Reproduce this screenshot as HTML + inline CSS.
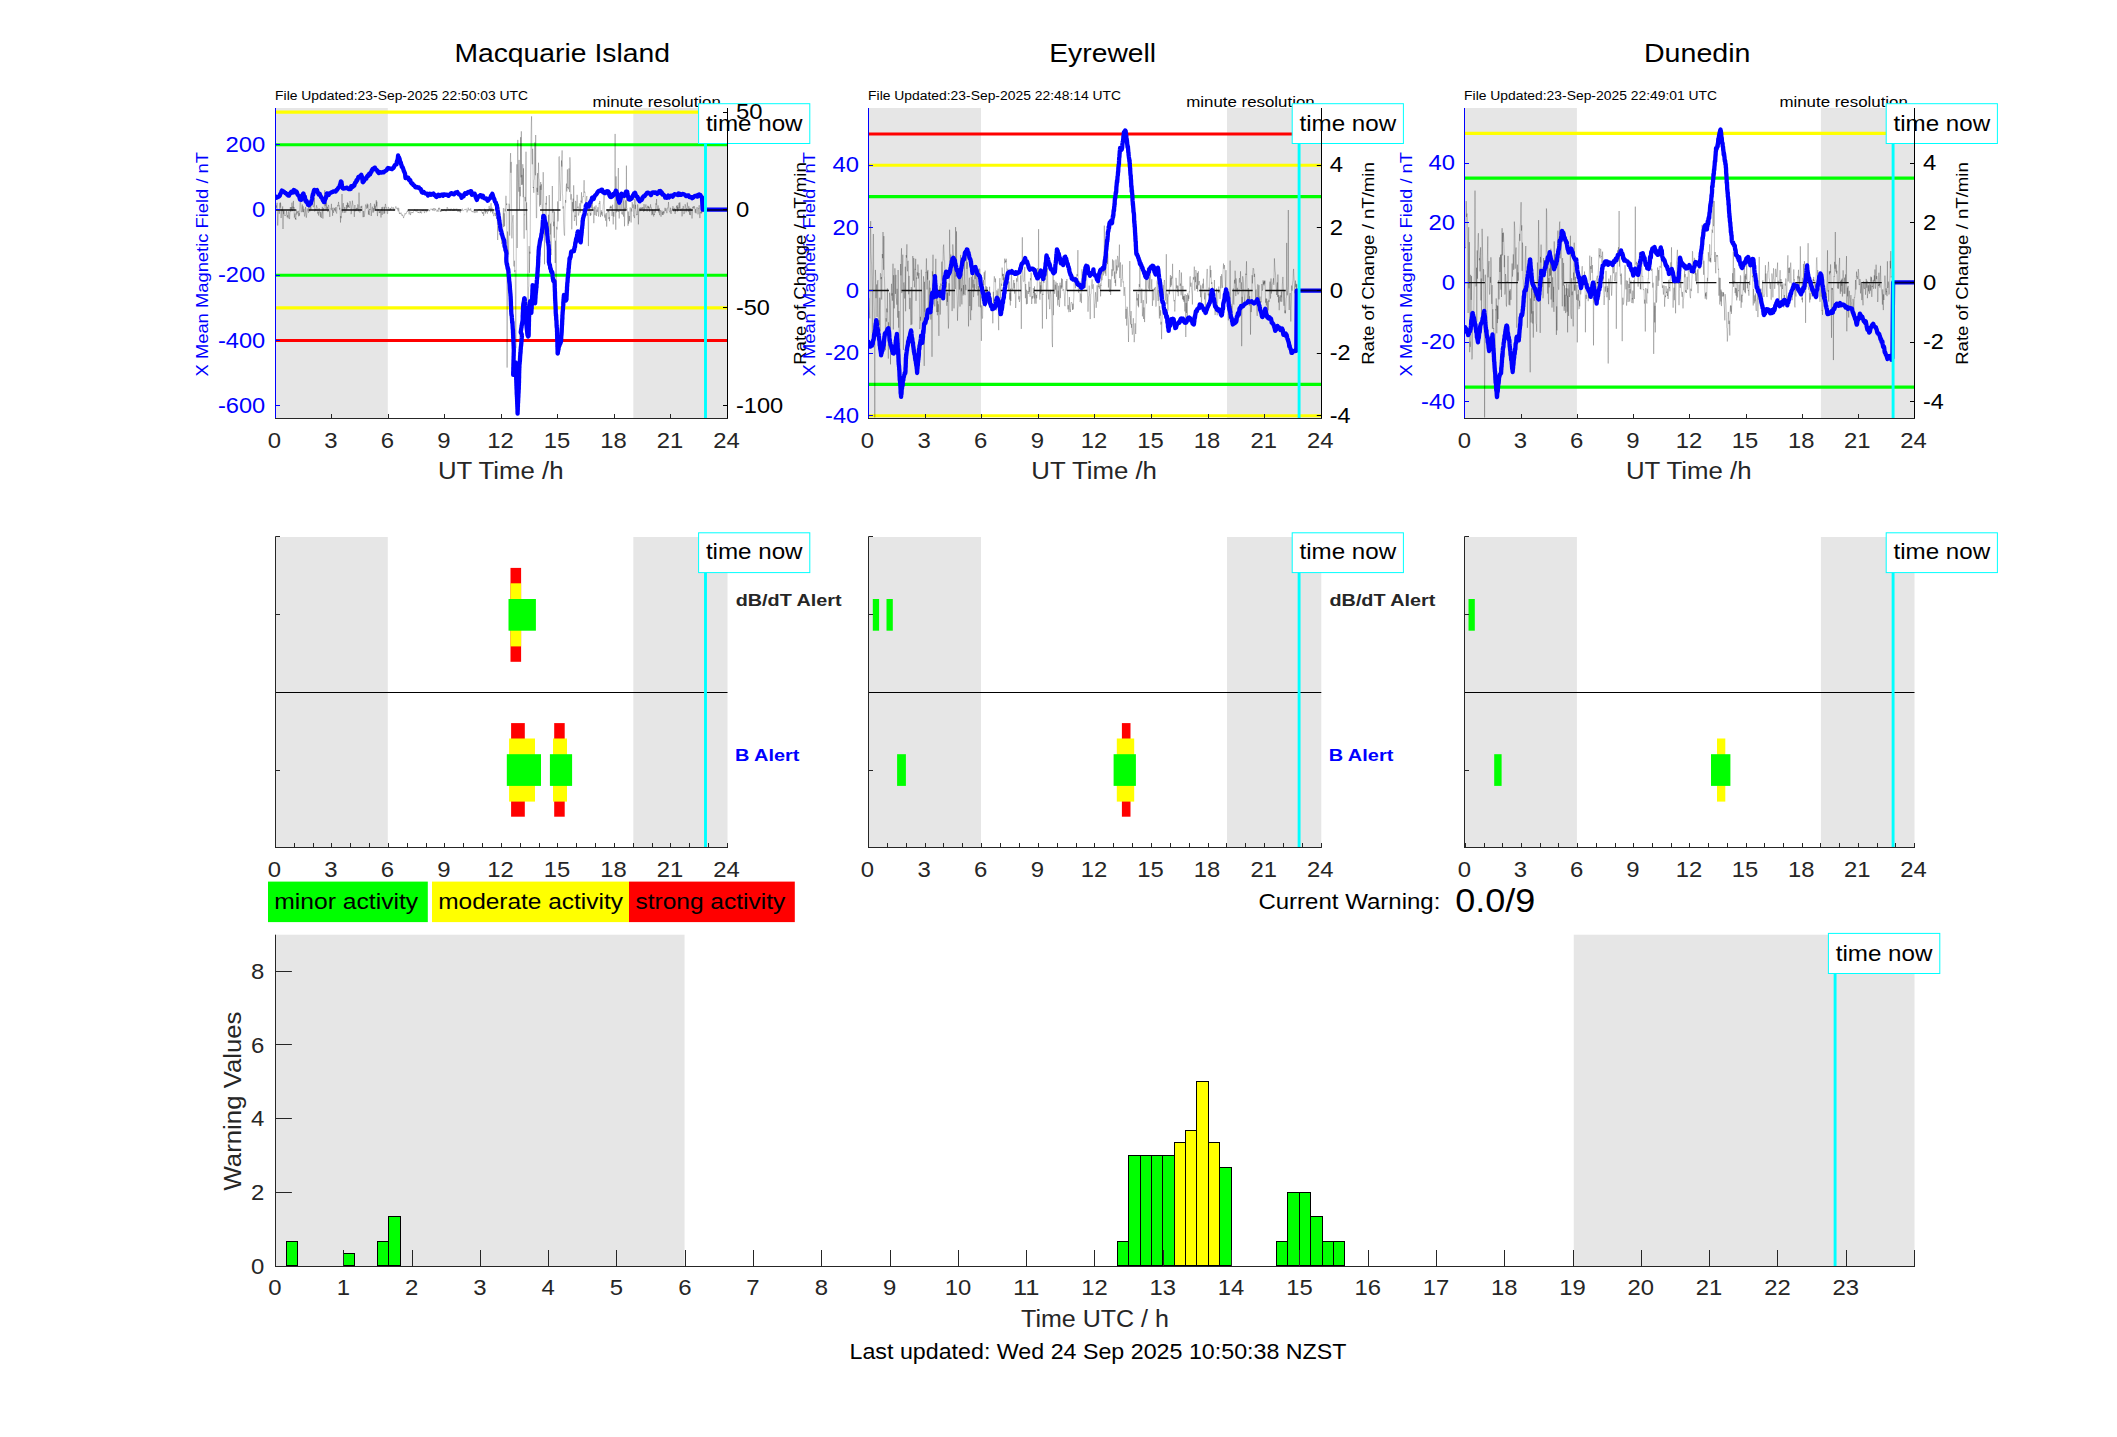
<!DOCTYPE html>
<html><head><meta charset="utf-8"><title>Geomagnetic activity</title>
<style>html,body{margin:0;padding:0;background:#fff;}body{width:2117px;height:1437px;overflow:hidden;font-family:"Liberation Sans",sans-serif;}svg{display:block;}</style>
</head><body>
<svg width="2117" height="1437" viewBox="0 0 2117 1437" font-family="'Liberation Sans', sans-serif">
<rect width="2117" height="1437" fill="#fff"/>
<text x="208.0" y="264.2" font-size="17.42" fill="#0000ff" textLength="224.5" lengthAdjust="spacingAndGlyphs" text-anchor="middle" transform="rotate(-90 208.0 264.2)">X Mean Magnetic Field / nT</text>
<text x="806.0" y="263.5" font-size="17.42" fill="#000" textLength="202.7" lengthAdjust="spacingAndGlyphs" text-anchor="middle" transform="rotate(-90 806.0 263.5)">Rate of Change / nT/min</text>
<text x="815.4" y="264.2" font-size="17.42" fill="#0000ff" textLength="224.5" lengthAdjust="spacingAndGlyphs" text-anchor="middle" transform="rotate(-90 815.4 264.2)">X Mean Magnetic Field / nT</text>
<text x="1373.9" y="263.5" font-size="17.42" fill="#000" textLength="202.7" lengthAdjust="spacingAndGlyphs" text-anchor="middle" transform="rotate(-90 1373.9 263.5)">Rate of Change / nT/min</text>
<text x="1411.8" y="264.2" font-size="17.42" fill="#0000ff" textLength="224.5" lengthAdjust="spacingAndGlyphs" text-anchor="middle" transform="rotate(-90 1411.8 264.2)">X Mean Magnetic Field / nT</text>
<text x="1967.9" y="263.5" font-size="17.42" fill="#000" textLength="202.7" lengthAdjust="spacingAndGlyphs" text-anchor="middle" transform="rotate(-90 1967.9 263.5)">Rate of Change / nT/min</text>
<rect x="275.50" y="108.00" width="112.30" height="310.50" fill="#e6e6e6"/>
<rect x="633.33" y="108.00" width="94.17" height="310.50" fill="#e6e6e6"/>
<line x1="275.50" y1="112.11" x2="727.50" y2="112.11" stroke="#ffff00" stroke-width="3.1"/>
<line x1="275.50" y1="144.74" x2="727.50" y2="144.74" stroke="#00ff00" stroke-width="3.1"/>
<line x1="275.50" y1="275.26" x2="727.50" y2="275.26" stroke="#00ff00" stroke-width="3.1"/>
<line x1="275.50" y1="307.89" x2="727.50" y2="307.89" stroke="#ffff00" stroke-width="3.1"/>
<line x1="275.50" y1="340.52" x2="727.50" y2="340.52" stroke="#ff0000" stroke-width="3.1"/>
<clipPath id="cp1"><rect x="275.5" y="108.0" width="452.0" height="310.5"/></clipPath>
<polyline points="275.5,206.0 275.8,209.6 276.1,205.4 276.4,207.7 276.8,204.5 277.1,202.8 277.4,211.4 277.7,225.5 278.0,219.5 278.3,212.4 278.6,210.4 279.0,209.5 279.3,213.8 279.6,210.6 279.9,202.8 280.2,207.7 280.5,202.6 280.8,205.3 281.1,218.0 281.5,212.4 281.8,209.3 282.1,211.2 282.4,210.3 282.7,206.4 283.0,229.0 283.3,210.5 283.7,213.9 284.0,210.4 284.3,215.2 284.6,215.3 284.9,215.9 285.2,215.3 285.5,215.4 285.9,215.4 286.2,214.1 286.5,210.8 286.8,213.2 287.1,217.2 287.4,216.2 287.7,215.3 288.1,218.3 288.4,212.4 288.7,211.4 289.0,213.3 289.3,218.9 289.6,219.0 289.9,213.3 290.3,207.1 290.6,211.2 290.9,211.7 291.2,207.0 291.5,210.2 291.8,202.9 292.1,202.6 292.4,211.2 292.8,206.6 293.1,207.7 293.4,200.9 293.7,209.4 294.0,207.0 294.3,217.6 294.6,216.3 295.0,213.5 295.3,219.1 295.6,217.9 295.9,219.9 296.2,210.0 296.5,209.5 296.8,214.5 297.2,212.2 297.5,211.6 297.8,212.8 298.1,211.1 298.4,210.9 298.7,216.3 299.0,213.0 299.4,215.7 299.7,212.2 300.0,202.7 300.3,201.0 300.6,200.3 300.9,205.9 301.2,211.4 301.6,212.2 301.9,210.3 302.2,204.6 302.5,204.6 302.8,212.1 303.1,206.3 303.4,212.2 303.8,209.7 304.1,208.8 304.4,215.3 304.7,216.5 305.0,214.5 305.3,211.0 305.6,206.9 305.9,213.1 306.3,217.7 306.6,215.8 306.9,212.6 307.2,208.5 307.5,210.1 307.8,211.1 308.1,211.4 308.5,212.7 308.8,204.2 309.1,209.1 309.4,209.5 309.7,211.6 310.0,211.1 310.3,205.9 310.7,208.4 311.0,209.8 311.3,205.2 311.6,197.1 311.9,198.9 312.2,203.2 312.5,201.5 312.9,200.7 313.2,207.1 313.5,207.0 313.8,206.8 314.1,206.0 314.4,197.8 314.7,211.5 315.1,208.9 315.4,209.0 315.7,209.9 316.0,210.7 316.3,207.0 316.6,205.3 316.9,207.4 317.2,207.4 317.6,213.5 317.9,212.9 318.2,212.1 318.5,215.5 318.8,209.9 319.1,208.1 319.4,212.2 319.8,212.0 320.1,215.3 320.4,216.9 320.7,211.8 321.0,215.7 321.3,218.0 321.6,214.2 322.0,212.6 322.3,206.8 322.6,211.4 322.9,218.6 323.2,208.5 323.5,208.1 323.8,210.8 324.2,207.3 324.5,202.3 324.8,190.2 325.1,205.9 325.4,205.4 325.7,203.1 326.0,210.1 326.4,202.5 326.7,203.9 327.0,209.3 327.3,206.8 327.6,208.0 327.9,212.1 328.2,207.4 328.5,204.9 328.9,206.0 329.2,210.9 329.5,211.9 329.8,216.9 330.1,210.7 330.4,208.9 330.7,208.4 331.1,208.3 331.4,203.8 331.7,210.2 332.0,209.1 332.3,207.8 332.6,215.8 332.9,209.9 333.3,211.8 333.6,212.8 333.9,207.7 334.2,208.7 334.5,210.4 334.8,208.4 335.1,209.6 335.5,211.4 335.8,207.1 336.1,211.7 336.4,213.0 336.7,213.5 337.0,207.2 337.3,206.9 337.6,205.3 338.0,205.9 338.3,203.7 338.6,201.9 338.9,206.4 339.2,205.4 339.5,209.6 339.8,207.7 340.2,211.3 340.5,222.5 340.8,216.0 341.1,218.2 341.4,215.6 341.7,210.0 342.0,194.0 342.4,212.6 342.7,209.5 343.0,204.7 343.3,203.1 343.6,207.6 343.9,210.0 344.2,213.0 344.6,206.9 344.9,207.3 345.2,209.9 345.5,212.3 345.8,212.6 346.1,210.8 346.4,205.0 346.8,209.4 347.1,206.5 347.4,202.4 347.7,207.7 348.0,203.2 348.3,207.1 348.6,205.2 348.9,206.9 349.3,207.9 349.6,206.4 349.9,201.1 350.2,201.9 350.5,203.0 350.8,205.4 351.1,214.2 351.5,212.0 351.8,206.3 352.1,204.9 352.4,200.7 352.7,204.0 353.0,204.8 353.3,209.7 353.7,209.2 354.0,209.6 354.3,216.9 354.6,209.6 354.9,205.0 355.2,211.4 355.5,209.4 355.9,209.2 356.2,208.3 356.5,207.8 356.8,211.1 357.1,208.1 357.4,209.0 357.7,204.4 358.1,205.0 358.4,211.4 358.7,209.3 359.0,192.6 359.3,203.2 359.6,208.7 359.9,212.6 360.2,210.6 360.6,210.1 360.9,206.3 361.2,208.2 361.5,207.3 361.8,205.8 362.1,208.6 362.4,208.9 362.8,214.1 363.1,217.2 363.4,213.9 363.7,211.0 364.0,217.0 364.3,216.0 364.6,214.5 365.0,210.6 365.3,208.5 365.6,204.6 365.9,205.2 366.2,205.8 366.5,207.4 366.8,208.8 367.2,203.6 367.5,207.8 367.8,204.7 368.1,204.5 368.4,214.5 368.7,210.5 369.0,214.2 369.4,215.1 369.7,209.0 370.0,210.0 370.3,204.3 370.6,203.2 370.9,205.5 371.2,216.0 371.5,212.5 371.9,210.0 372.2,207.6 372.5,206.7 372.8,211.9 373.1,212.8 373.4,208.1 373.7,211.6 374.1,210.4 374.4,203.8 374.7,209.3 375.0,205.7 375.3,206.2 375.6,210.1 375.9,205.0 376.3,200.2 376.6,206.4 376.9,201.7 377.2,212.9 377.5,216.1 377.8,209.9 378.1,209.1 378.5,210.4 378.8,209.4 379.1,212.8 379.4,213.1 379.7,211.4 380.0,212.8 380.3,210.3 380.7,211.4 381.0,217.5 381.3,209.2 381.6,210.3 381.9,207.1 382.2,214.9 382.5,208.9 382.9,206.8 383.2,210.3 383.5,210.9 383.8,213.8 384.1,213.2 384.4,206.9 384.7,213.4 385.0,207.4 385.4,203.9 385.7,205.4 386.0,207.8 386.3,207.3 386.6,209.4 386.9,210.0 387.2,213.6 387.6,213.7 387.9,209.9 388.2,207.8 388.5,206.9 388.8,208.2 389.1,210.9 389.4,210.3 389.8,210.0 390.1,208.3 390.4,209.9 390.7,208.3 391.0,210.2 391.3,207.8 391.6,206.8 392.0,207.7 392.3,207.7 392.6,208.4 392.9,207.9 393.2,208.5 393.5,207.5 393.8,210.5 394.1,210.4 394.5,209.9 394.8,209.4 395.1,208.3 395.4,207.6 395.7,206.6 396.0,206.3 396.3,208.3 396.7,208.1 397.0,208.7 397.3,207.8 397.6,209.4 397.9,208.9 398.2,211.4 398.5,207.8 398.9,208.6 399.2,212.9 399.5,213.9 399.8,212.6 400.1,213.6 400.4,214.0 400.7,213.6 401.1,212.7 401.4,215.0 401.7,215.0 402.0,215.2 402.3,215.9 402.6,214.6 402.9,215.0 403.3,216.9 403.6,218.1 403.9,216.5 404.2,216.3 404.5,215.7 404.8,213.5 405.1,213.8 405.4,214.3 405.8,213.2 406.1,213.7 406.4,213.3 406.7,211.7 407.0,211.5 407.3,211.3 407.6,211.9 408.0,210.2 408.3,211.4 408.6,212.4 408.9,212.7 409.2,214.4 409.5,211.3 409.8,211.8 410.2,211.6 410.5,215.1 410.8,213.9 411.1,212.6 411.4,212.1 411.7,212.0 412.0,212.9 412.4,212.3 412.7,212.6 413.0,213.1 413.3,211.7 413.6,211.6 413.9,210.9 414.2,210.3 414.6,209.3 414.9,210.8 415.2,209.7 415.5,210.4 415.8,211.0 416.1,211.7 416.4,210.8 416.8,211.1 417.1,209.4 417.4,210.4 417.7,211.1 418.0,213.0 418.3,212.1 418.6,212.7 418.9,212.3 419.3,212.7 419.6,212.8 419.9,212.9 420.2,211.2 420.5,212.7 420.8,211.7 421.1,212.8 421.5,213.4 421.8,212.1 422.1,210.2 422.4,210.6 422.7,210.7 423.0,209.9 423.3,210.1 423.7,210.1 424.0,211.5 424.3,212.5 424.6,213.1 424.9,211.1 425.2,210.6 425.5,211.2 425.9,209.8 426.2,209.9 426.5,212.3 426.8,211.6 427.1,210.6 427.4,211.2 427.7,211.0 428.0,210.2 428.4,209.6 428.7,209.1 429.0,211.1 429.3,210.6 429.6,211.2 429.9,209.9 430.2,209.5 430.6,208.9 430.9,209.1 431.2,209.3 431.5,209.3 431.8,208.8 432.1,209.7 432.4,210.2 432.8,208.8 433.1,210.8 433.4,209.3 433.7,208.4 434.0,209.1 434.3,208.4 434.6,210.7 435.0,210.5 435.3,208.6 435.6,209.7 435.9,209.3 436.2,210.5 436.5,210.9 436.8,211.6 437.2,210.9 437.5,209.8 437.8,210.4 438.1,211.8 438.4,209.0 438.7,207.8 439.0,209.6 439.3,207.8 439.7,208.1 440.0,209.9 440.3,212.0 440.6,210.3 440.9,210.9 441.2,211.8 441.5,209.8 441.9,209.9 442.2,210.1 442.5,209.9 442.8,211.2 443.1,210.1 443.4,210.3 443.7,210.7 444.1,210.0 444.4,209.4 444.7,209.8 445.0,210.2 445.3,211.2 445.6,210.7 445.9,210.2 446.3,211.3 446.6,209.1 446.9,208.5 447.2,207.0 447.5,208.6 447.8,209.8 448.1,209.8 448.5,210.1 448.8,208.7 449.1,210.0 449.4,209.7 449.7,210.2 450.0,209.4 450.3,210.6 450.6,208.8 451.0,209.5 451.3,208.9 451.6,208.8 451.9,209.9 452.2,210.2 452.5,209.7 452.8,210.9 453.2,210.5 453.5,210.2 453.8,208.5 454.1,210.9 454.4,209.2 454.7,209.4 455.0,210.1 455.4,209.1 455.7,209.3 456.0,208.8 456.3,209.8 456.6,209.7 456.9,208.7 457.2,210.5 457.6,210.7 457.9,211.9 458.2,211.1 458.5,211.1 458.8,209.4 459.1,209.7 459.4,211.7 459.8,211.5 460.1,211.0 460.4,212.6 460.7,210.3 461.0,209.9 461.3,210.6 461.6,210.8 461.9,209.4 462.3,208.7 462.6,210.6 462.9,210.7 463.2,210.5 463.5,210.7 463.8,210.4 464.1,209.9 464.5,209.6 464.8,209.2 465.1,209.6 465.4,209.3 465.7,209.9 466.0,209.6 466.3,208.8 466.7,209.6 467.0,212.4 467.3,211.2 467.6,210.2 467.9,210.3 468.2,207.7 468.5,209.2 468.9,210.5 469.2,209.7 469.5,209.5 469.8,209.4 470.1,210.5 470.4,209.3 470.7,208.4 471.1,210.7 471.4,210.7 471.7,211.5 472.0,211.3 472.3,211.6 472.6,211.0 472.9,212.2 473.2,212.4 473.6,211.7 473.9,211.7 474.2,209.9 474.5,212.4 474.8,213.1 475.1,212.4 475.4,211.4 475.8,212.4 476.1,211.5 476.4,211.6 476.7,211.2 477.0,212.6 477.3,212.2 477.6,210.5 478.0,209.9 478.3,210.1 478.6,209.7 478.9,209.0 479.2,210.0 479.5,209.5 479.8,209.0 480.2,209.9 480.5,210.5 480.8,209.7 481.1,210.7 481.4,210.5 481.7,211.6 482.0,212.6 482.4,212.1 482.7,214.0 483.0,212.0 483.3,212.5 483.6,215.9 483.9,214.5 484.2,211.1 484.5,208.7 484.9,211.5 485.2,209.8 485.5,213.5 485.8,209.3 486.1,211.9 486.4,211.0 486.7,211.6 487.1,212.7 487.4,213.7 487.7,210.9 488.0,209.2 488.3,211.5 488.6,210.8 488.9,206.6 489.3,205.9 489.6,209.5 489.9,208.7 490.2,208.0 490.5,212.4 490.8,205.3 491.1,203.2 491.5,211.6 491.8,209.2 492.1,207.7 492.4,211.3 492.7,213.5 493.0,210.8 493.3,214.1 493.7,216.0 494.0,216.2 494.3,214.8 494.6,213.0 494.9,212.8 495.2,212.9 495.5,216.1 495.8,212.8 496.2,214.4 496.5,218.9 496.8,218.2 497.1,217.1 497.4,222.7 497.7,240.0 498.0,227.2 498.4,211.5 498.7,216.7 499.0,218.8 499.3,207.3 499.6,210.5 499.9,220.4 500.2,223.4 500.6,222.9 500.9,229.2 501.2,231.2 501.5,235.4 501.8,244.1 502.1,231.8 502.4,238.0 502.8,227.6 503.1,215.8 503.4,208.2 503.7,227.0 504.0,213.2 504.3,213.9 504.6,226.2 505.0,208.7 505.3,211.4 505.6,198.1 505.9,195.8 506.2,196.6 506.5,205.1 506.8,203.5 507.1,367.6 507.5,231.5 507.8,237.2 508.1,240.6 508.4,252.9 508.7,254.5 509.0,203.7 509.3,205.7 509.7,235.6 510.0,176.6 510.3,159.2 510.6,153.1 510.9,172.8 511.2,161.9 511.5,201.0 511.9,238.4 512.2,223.4 512.5,220.0 512.8,216.6 513.1,215.1 513.4,224.7 513.7,265.5 514.1,266.5 514.4,260.7 514.7,271.9 515.0,270.1 515.3,278.7 515.6,321.0 515.9,348.2 516.3,226.0 516.6,197.0 516.9,164.3 517.2,248.0 517.5,154.2 517.8,139.9 518.1,162.1 518.5,182.4 518.8,191.7 519.1,159.9 519.4,209.8 519.7,198.8 520.0,187.0 520.3,196.3 520.6,137.2 521.0,177.3 521.3,131.3 521.6,184.8 521.9,174.9 522.2,184.8 522.5,183.4 522.8,164.2 523.2,197.2 523.5,168.3 523.8,218.0 524.1,238.7 524.4,214.6 524.7,215.2 525.0,196.9 525.4,201.3 525.7,193.0 526.0,151.7 526.3,230.2 526.6,202.4 526.9,220.6 527.2,234.0 527.6,285.4 527.9,325.1 528.2,335.5 528.5,287.8 528.8,286.1 529.1,246.1 529.4,272.8 529.8,251.7 530.1,253.6 530.4,205.5 530.7,176.7 531.0,137.5 531.3,122.4 531.6,116.3 531.9,153.1 532.3,164.3 532.6,148.8 532.9,154.2 533.2,188.0 533.5,187.0 533.8,192.8 534.1,180.6 534.5,178.8 534.8,142.5 535.1,171.2 535.4,175.3 535.7,135.0 536.0,185.5 536.3,218.1 536.7,217.8 537.0,187.8 537.3,191.9 537.6,173.1 537.9,195.0 538.2,175.5 538.5,162.7 538.9,178.2 539.2,179.1 539.5,206.0 539.8,206.6 540.1,185.7 540.4,205.0 540.7,182.0 541.0,189.9 541.4,184.3 541.7,203.0 542.0,205.0 542.3,210.7 542.6,214.9 542.9,187.3 543.2,172.2 543.6,190.3 543.9,217.2 544.2,221.8 544.5,264.3 544.8,225.3 545.1,235.3 545.4,213.2 545.8,202.9 546.1,204.6 546.4,196.1 546.7,225.2 547.0,222.1 547.3,246.4 547.6,239.1 548.0,230.0 548.3,243.4 548.6,214.7 548.9,231.7 549.2,195.0 549.5,203.7 549.8,212.2 550.2,234.5 550.5,223.6 550.8,251.5 551.1,255.0 551.4,233.0 551.7,222.1 552.0,221.4 552.3,186.0 552.7,212.5 553.0,212.7 553.3,209.3 553.6,226.2 553.9,221.6 554.2,237.8 554.5,211.5 554.9,245.5 555.2,263.0 555.5,240.7 555.8,256.4 556.1,317.2 556.4,242.8 556.7,226.8 557.1,229.5 557.4,217.9 557.7,201.4 558.0,221.4 558.3,219.3 558.6,202.5 558.9,157.0 559.3,156.4 559.6,180.3 559.9,185.2 560.2,201.0 560.5,197.1 560.8,188.8 561.1,171.9 561.5,160.5 561.8,166.6 562.1,150.4 562.4,193.4 562.7,196.1 563.0,208.6 563.3,206.3 563.6,222.8 564.0,231.9 564.3,235.1 564.6,235.6 564.9,210.9 565.2,206.2 565.5,200.0 565.8,202.7 566.2,186.7 566.5,183.6 566.8,191.5 567.1,184.2 567.4,169.4 567.7,188.0 568.0,187.1 568.4,189.3 568.7,187.8 569.0,168.4 569.3,186.0 569.6,192.1 569.9,157.3 570.2,164.8 570.6,188.5 570.9,199.7 571.2,194.2 571.5,213.7 571.8,229.4 572.1,215.0 572.4,202.1 572.8,210.8 573.1,198.6 573.4,212.2 573.7,185.3 574.0,204.9 574.3,220.6 574.6,221.0 575.0,215.4 575.3,217.0 575.6,200.9 575.9,202.6 576.2,218.1 576.5,225.6 576.8,198.2 577.1,194.8 577.5,198.7 577.8,208.1 578.1,206.6 578.4,215.5 578.7,215.3 579.0,213.0 579.3,212.4 579.7,203.8 580.0,203.2 580.3,212.6 580.6,209.8 580.9,200.6 581.2,202.4 581.5,192.3 581.9,203.4 582.2,203.2 582.5,199.5 582.8,196.8 583.1,196.4 583.4,197.0 583.7,190.8 584.1,180.2 584.4,192.6 584.7,191.7 585.0,192.2 585.3,200.9 585.6,202.9 585.9,202.0 586.2,200.2 586.6,196.7 586.9,196.0 587.2,215.7 587.5,213.3 587.8,216.9 588.1,221.4 588.4,246.1 588.8,209.9 589.1,211.0 589.4,199.7 589.7,203.6 590.0,213.1 590.3,216.0 590.6,213.0 591.0,215.2 591.3,204.9 591.6,202.0 591.9,207.8 592.2,202.8 592.5,210.5 592.8,208.4 593.2,207.4 593.5,217.5 593.8,223.2 594.1,220.1 594.4,206.5 594.7,210.8 595.0,215.1 595.4,208.1 595.7,208.2 596.0,205.4 596.3,216.0 596.6,214.2 596.9,209.5 597.2,211.9 597.5,211.1 597.9,207.2 598.2,210.2 598.5,216.5 598.8,213.3 599.1,203.0 599.4,203.7 599.7,200.9 600.1,201.8 600.4,217.1 600.7,213.3 601.0,212.8 601.3,210.2 601.6,214.7 601.9,211.9 602.3,216.2 602.6,216.1 602.9,211.0 603.2,205.0 603.5,203.1 603.8,199.6 604.1,193.7 604.5,215.6 604.8,217.6 605.1,214.5 605.4,218.7 605.7,220.8 606.0,213.0 606.3,213.3 606.7,226.6 607.0,217.4 607.3,212.2 607.6,209.1 607.9,209.4 608.2,212.2 608.5,210.5 608.8,219.1 609.2,217.1 609.5,221.2 609.8,208.5 610.1,206.7 610.4,208.4 610.7,205.7 611.0,208.1 611.4,206.5 611.7,208.1 612.0,216.1 612.3,210.9 612.6,204.7 612.9,214.6 613.2,224.4 613.6,211.8 613.9,216.7 614.2,212.9 614.5,204.4 614.8,201.4 615.1,133.9 615.4,198.9 615.8,229.7 616.1,176.4 616.4,212.4 616.7,205.0 617.0,199.7 617.3,200.9 617.6,211.6 618.0,196.5 618.3,168.0 618.6,212.0 618.9,210.9 619.2,218.5 619.5,211.1 619.8,204.2 620.1,208.1 620.5,211.2 620.8,210.6 621.1,203.5 621.4,204.6 621.7,213.5 622.0,212.7 622.3,214.6 622.7,210.3 623.0,200.7 623.3,214.0 623.6,216.6 623.9,197.2 624.2,212.5 624.5,226.3 624.9,207.7 625.2,211.2 625.5,200.4 625.8,202.0 626.1,210.0 626.4,165.6 626.7,207.8 627.1,208.3 627.4,211.7 627.7,215.4 628.0,225.8 628.3,211.5 628.6,223.7 628.9,221.9 629.3,216.0 629.6,221.2 629.9,209.3 630.2,207.4 630.5,210.4 630.8,212.7 631.1,222.5 631.4,208.4 631.8,211.5 632.1,202.1 632.4,203.2 632.7,208.1 633.0,207.5 633.3,204.4 633.6,216.2 634.0,215.6 634.3,217.3 634.6,218.1 634.9,198.8 635.2,208.9 635.5,204.8 635.8,209.9 636.2,211.2 636.5,215.2 636.8,215.0 637.1,214.1 637.4,214.5 637.7,204.4 638.0,208.0 638.4,224.4 638.7,213.3 639.0,209.9 639.3,208.5 639.6,208.4 639.9,211.3 640.2,207.3 640.6,209.8 640.9,210.6 641.2,208.2 641.5,209.2 641.8,207.2 642.1,207.3 642.4,209.3 642.8,207.3 643.1,207.1 643.4,211.1 643.7,211.8 644.0,204.1 644.3,206.9 644.6,211.1 644.9,209.8 645.3,207.5 645.6,206.4 645.9,204.4 646.2,207.8 646.5,207.7 646.8,209.2 647.1,211.6 647.5,206.4 647.8,205.7 648.1,208.1 648.4,206.2 648.7,208.6 649.0,207.1 649.3,208.8 649.7,211.8 650.0,206.6 650.3,206.7 650.6,204.3 650.9,208.1 651.2,207.6 651.5,207.9 651.9,215.2 652.2,209.3 652.5,213.3 652.8,214.4 653.1,209.9 653.4,215.3 653.7,216.5 654.0,213.9 654.4,215.0 654.7,210.9 655.0,209.3 655.3,212.5 655.6,207.6 655.9,203.4 656.2,204.7 656.6,199.1 656.9,209.8 657.2,210.2 657.5,207.9 657.8,207.5 658.1,205.4 658.4,208.8 658.8,212.5 659.1,207.9 659.4,214.3 659.7,215.2 660.0,211.4 660.3,210.0 660.6,212.5 661.0,216.7 661.3,214.7 661.6,213.0 661.9,210.6 662.2,212.0 662.5,214.9 662.8,212.0 663.2,214.9 663.5,211.1 663.8,212.9 664.1,213.4 664.4,211.8 664.7,211.6 665.0,207.8 665.3,211.1 665.7,209.6 666.0,208.4 666.3,209.2 666.6,211.6 666.9,213.2 667.2,210.7 667.5,207.9 667.9,208.2 668.2,206.3 668.5,202.0 668.8,207.6 669.1,210.6 669.4,210.9 669.7,212.0 670.1,212.5 670.4,207.7 670.7,210.9 671.0,214.0 671.3,212.5 671.6,210.2 671.9,209.9 672.3,208.5 672.6,209.4 672.9,206.1 673.2,208.5 673.5,210.8 673.8,211.6 674.1,207.8 674.5,208.7 674.8,209.1 675.1,213.9 675.4,209.5 675.7,211.6 676.0,208.5 676.3,207.2 676.6,205.8 677.0,208.8 677.3,205.2 677.6,211.6 677.9,207.1 678.2,210.6 678.5,208.8 678.8,202.9 679.2,203.4 679.5,208.6 679.8,202.3 680.1,205.1 680.4,210.6 680.7,210.6 681.0,209.0 681.4,208.6 681.7,211.6 682.0,216.4 682.3,215.1 682.6,208.2 682.9,208.8 683.2,205.9 683.6,208.9 683.9,214.1 684.2,213.5 684.5,211.7 684.8,210.1 685.1,204.2 685.4,205.0 685.8,207.8 686.1,212.3 686.4,208.8 686.7,208.4 687.0,210.2 687.3,202.5 687.6,205.7 687.9,205.8 688.3,211.9 688.6,209.5 688.9,206.3 689.2,208.3 689.5,214.8 689.8,208.2 690.1,212.1 690.5,215.1 690.8,207.9 691.1,210.1 691.4,210.9 691.7,210.2 692.0,218.5 692.3,213.4 692.7,206.8 693.0,207.9 693.3,206.9 693.6,206.4 693.9,208.7 694.2,206.1 694.5,206.7 694.9,208.9 695.2,212.7 695.5,209.2 695.8,211.5 696.1,213.4 696.4,208.9 696.7,208.6 697.1,207.2 697.4,209.0 697.7,211.8 698.0,214.4 698.3,212.9 698.6,208.0 698.9,208.5 699.2,205.2 699.6,214.4 699.9,218.1 700.2,212.3 700.5,212.3 700.8,213.3 701.1,210.6 701.4,213.4 701.8,210.3 702.1,212.4 702.4,211.3 702.7,211.3 703.0,210.6 703.3,211.7 703.6,208.6 704.0,209.3 704.3,207.0" fill="none" stroke="#000" stroke-width="0.36" opacity="0.62" clip-path="url(#cp1)"/>
<line x1="275.50" y1="210.00" x2="727.50" y2="210.00" stroke="#111" stroke-width="1.3" stroke-dasharray="20.4 12.67"/>
<polyline points="275.1,197.2 276.0,196.7 276.8,197.7 277.7,197.2 278.5,196.5 278.9,196.7 279.4,196.1 279.8,195.6 280.2,194.1 280.6,193.7 281.1,192.5 281.5,191.2 281.9,190.5 282.8,191.2 283.8,191.5 284.7,192.4 285.2,193.1 285.7,192.9 286.2,193.7 286.7,193.8 287.2,194.7 287.7,195.0 288.1,195.4 288.6,194.9 289.1,195.5 289.6,193.7 290.0,193.6 290.5,193.2 291.0,192.0 291.5,191.8 292.1,191.4 292.7,192.5 293.2,191.1 293.8,190.0 294.4,190.2 294.8,190.5 295.2,192.2 295.6,191.6 296.0,191.7 296.4,191.5 296.8,192.0 297.2,193.5 297.7,194.8 298.2,195.3 298.6,195.7 299.1,195.8 299.6,197.9 300.0,199.6 300.6,199.5 301.2,199.8 301.7,198.1 302.3,196.2 302.9,194.1 303.4,193.4 303.8,194.8 304.1,196.5 304.5,196.9 304.8,196.6 305.2,198.9 305.5,200.8 305.9,200.3 306.2,202.0 306.6,200.8 306.9,202.6 307.3,202.0 307.6,202.9 308.0,204.9 308.5,204.5 309.1,205.2 309.7,203.7 310.2,203.7 310.8,203.6 311.0,202.3 311.3,201.4 311.5,201.0 311.8,200.0 312.0,199.1 312.2,197.8 312.5,195.8 312.7,194.9 312.9,194.0 313.2,194.7 313.4,192.9 313.6,191.8 314.2,189.9 314.8,190.8 315.3,190.4 315.9,190.5 316.5,190.4 317.0,190.1 317.5,191.8 317.9,192.9 318.4,193.7 318.8,194.5 319.3,194.4 319.7,193.8 320.1,195.2 320.6,195.9 321.0,197.2 321.4,197.3 321.9,198.1 322.3,198.4 322.7,200.0 323.1,200.7 323.6,201.0 324.0,202.2 324.4,202.2 324.7,200.9 324.9,200.0 325.2,199.5 325.4,198.7 325.7,198.6 326.0,197.2 326.2,196.6 326.5,195.1 326.7,193.5 327.0,193.4 327.3,194.2 328.0,195.0 328.8,195.0 329.6,193.2 330.4,192.9 331.2,192.5 332.0,192.1 332.7,191.9 333.5,191.4 334.2,191.3 335.0,191.5 335.8,191.5 336.4,189.9 337.1,189.8 337.8,188.7 338.5,187.4 339.2,187.1 339.4,186.7 339.6,186.4 339.8,185.4 340.0,184.9 340.2,184.5 340.4,183.5 340.6,183.2 340.9,181.3 341.1,182.2 341.3,182.2 341.5,182.0 341.7,183.9 341.9,184.8 342.1,186.4 342.3,187.1 342.6,188.1 343.5,188.7 344.4,188.5 345.3,188.1 346.2,187.9 347.1,187.7 347.9,188.6 348.8,189.1 349.6,189.1 350.5,188.7 350.7,189.0 350.9,188.1 351.2,186.1 351.4,186.9 351.6,186.2 352.3,186.1 353.0,186.7 353.7,185.3 354.3,185.6 355.0,183.0 355.5,182.4 356.0,182.3 356.5,180.2 357.0,180.7 357.5,179.6 357.9,178.5 358.4,176.9 359.0,177.5 359.6,176.6 360.1,177.1 360.7,175.5 361.3,174.7 361.5,176.5 361.8,176.0 362.1,178.3 362.4,179.5 362.7,182.0 363.0,182.3 363.6,181.5 364.3,180.4 365.0,178.5 365.7,178.1 366.4,178.5 366.9,176.6 367.5,175.9 368.1,175.2 368.6,175.6 369.2,173.7 369.8,174.2 370.2,174.3 370.6,172.6 371.0,172.0 371.4,172.0 371.8,170.1 372.2,170.1 372.6,168.9 373.4,169.5 374.1,167.9 374.9,167.6 375.4,169.1 376.0,169.3 376.6,169.8 377.1,170.4 377.7,172.0 378.3,172.0 378.8,173.1 379.7,172.0 380.5,172.3 381.4,172.6 382.2,172.4 382.9,172.0 383.6,172.3 384.3,171.7 385.0,171.2 385.6,170.8 386.4,170.4 387.2,168.9 388.0,168.0 388.8,168.6 389.6,168.5 390.4,168.6 391.1,169.0 391.9,169.2 392.3,168.6 392.8,168.1 393.3,168.0 393.8,167.4 394.2,166.4 394.7,165.3 395.6,164.9 396.4,163.9 396.6,164.3 396.7,162.1 396.9,161.8 397.1,160.7 397.3,161.0 397.4,160.3 397.6,159.3 397.8,158.5 397.9,157.4 398.1,155.4 398.5,157.8 398.9,157.2 399.2,157.9 399.6,159.0 400.0,161.1 400.4,161.8 400.7,162.6 400.9,162.8 401.2,164.8 401.5,164.9 401.8,167.0 402.1,167.1 402.4,167.0 402.6,167.3 403.1,168.6 403.5,169.8 403.9,171.2 404.3,171.8 404.5,172.3 404.7,173.0 404.8,172.9 405.0,173.5 405.2,175.3 405.3,176.5 405.5,178.1 406.4,177.3 407.4,177.9 408.3,177.7 408.8,179.6 409.3,180.2 409.8,179.7 410.3,180.2 410.7,182.0 411.2,182.8 411.7,183.5 412.1,183.2 412.6,183.6 413.0,184.6 413.4,185.1 414.4,185.7 415.3,187.3 416.2,187.2 416.9,186.9 417.6,187.5 418.3,187.3 419.0,187.6 419.6,188.5 420.2,188.7 420.8,189.2 421.3,190.7 421.9,192.4 422.5,192.7 423.0,192.1 423.8,192.0 424.6,193.1 425.4,193.3 426.2,193.9 427.0,193.6 428.0,195.5 428.9,194.0 429.8,193.6 430.8,194.7 431.7,194.0 432.7,194.0 433.4,193.5 434.0,194.9 434.7,194.6 435.4,195.4 436.1,196.9 436.8,197.0 437.6,196.0 438.4,194.7 439.1,195.0 439.9,195.9 440.6,195.3 441.4,194.6 442.2,194.7 443.0,195.8 443.8,194.3 444.6,194.3 445.4,194.8 446.2,194.9 447.0,194.7 447.8,195.6 448.6,195.9 449.3,194.5 450.1,194.3 450.9,193.4 451.7,193.2 452.5,193.5 453.3,194.2 454.1,194.4 455.0,193.1 455.8,192.4 456.6,192.6 457.4,192.1 458.2,193.7 458.9,194.3 459.6,194.3 460.2,194.9 460.9,195.7 461.6,197.7 462.3,196.7 463.0,195.9 463.6,196.3 464.3,194.2 465.0,193.3 465.8,193.8 466.6,193.9 467.3,192.5 468.1,192.0 468.9,192.5 469.7,191.7 470.4,191.2 471.2,191.2 471.9,194.8 472.6,193.3 473.3,193.3 473.9,193.6 474.6,193.6 475.0,194.7 475.4,196.3 475.8,197.4 476.1,197.8 476.5,199.2 476.9,199.9 477.6,197.5 478.3,196.5 478.9,196.7 479.6,196.5 480.3,195.1 481.0,195.4 481.6,196.2 482.3,197.2 482.9,195.7 483.6,197.3 484.3,198.2 484.9,198.5 485.6,198.7 486.3,198.5 487.0,199.7 487.7,200.8 488.2,200.2 488.7,199.5 489.2,198.7 489.7,198.2 490.2,198.1 490.7,196.8 491.2,195.4 491.8,194.9 492.3,193.8 492.7,194.8 493.1,196.4 493.5,197.7 493.9,198.4 494.3,199.1 494.7,200.6 495.1,201.8 495.4,202.1 495.7,202.3 496.0,203.1 496.2,204.0 496.5,204.8 496.8,205.1 496.9,205.5 497.1,207.0 497.2,209.4 497.4,210.2 497.5,210.5 497.7,211.0 497.8,211.5 497.9,212.1 498.1,212.8 498.2,214.4 498.4,214.1 498.5,216.6 498.6,217.7 498.7,217.2 498.9,217.1 499.0,218.1 499.1,219.9 499.2,220.2 499.4,220.3 499.5,222.3 499.6,222.5 499.7,223.9 499.8,224.4 500.0,224.4 500.1,226.1 500.2,227.4 500.4,228.3 500.5,229.6 500.7,230.6 500.9,230.1 501.1,230.7 501.2,231.5 501.4,231.6 501.6,234.1 501.7,233.7 501.9,233.6 502.2,235.1 502.6,236.4 502.9,237.8 503.2,238.6 503.5,238.7 503.8,240.2 504.2,240.3 504.2,242.5 504.3,242.1 504.4,242.3 504.5,245.7 504.5,246.3 504.6,245.7 504.7,246.5 504.7,247.1 505.0,246.5 505.2,248.0 505.5,250.2 505.7,250.4 506.0,250.9 506.2,252.2 506.4,253.4 506.4,254.6 506.4,257.0 506.4,256.6 506.4,256.4 506.3,257.9 506.3,258.5 506.3,259.4 506.3,259.3 506.4,261.8 506.6,262.9 506.8,264.6 506.9,264.5 507.1,264.1 507.2,265.7 507.4,266.8 507.5,267.2 507.7,268.8 507.9,267.9 508.0,269.0 508.2,269.0 508.3,270.0 508.3,271.1 508.4,271.0 508.5,272.0 508.6,273.7 508.7,274.5 508.8,275.4 508.9,276.1 509.0,277.9 509.1,279.2 509.1,279.2 509.2,280.6 509.3,282.1 509.4,281.7 509.5,283.1 509.5,282.5 509.6,283.9 509.7,284.1 509.7,284.6 509.8,285.9 509.9,287.9 509.9,288.0 510.0,289.3 510.0,289.8 510.1,290.3 510.2,291.0 510.2,291.9 510.3,292.6 510.4,293.4 510.4,293.7 510.5,294.4 510.5,295.5 510.6,295.9 510.7,297.7 510.7,297.4 510.7,299.3 510.8,299.1 510.8,300.6 510.8,301.3 510.9,301.5 510.9,302.9 510.9,303.9 511.0,306.2 511.0,306.6 511.1,306.4 511.1,307.1 511.1,309.1 511.2,308.6 511.2,309.9 511.2,311.7 511.3,311.8 511.3,313.2 511.4,313.9 511.5,315.3 511.6,314.6 511.7,315.7 511.7,315.7 511.8,316.2 511.9,317.9 512.0,319.1 512.1,320.9 512.2,322.9 512.3,322.4 512.4,321.7 512.5,322.8 512.5,323.4 512.6,325.6 512.6,325.9 512.7,326.8 512.7,327.6 512.8,329.1 512.8,329.1 512.9,329.1 512.9,330.1 513.0,330.2 513.0,331.8 513.0,332.8 513.1,332.9 513.1,335.2 513.2,335.2 513.2,337.3 513.2,337.7 513.3,337.4 513.3,338.0 513.3,339.2 513.4,340.5 513.4,341.2 513.5,342.3 513.5,341.3 513.5,343.3 513.6,344.5 513.6,344.8 513.6,345.6 513.7,346.5 513.7,346.8 513.7,348.0 513.8,349.0 513.8,350.3 513.8,351.4 513.8,351.5 513.7,353.5 513.7,353.4 513.7,354.6 513.7,356.1 513.6,356.2 513.6,356.2 513.6,356.7 513.6,357.8 513.6,359.3 513.5,360.0 513.5,360.5 513.5,361.6 513.5,361.9 513.5,362.0 513.4,364.7 513.4,365.8 513.4,366.7 513.4,367.0 513.3,367.6 513.3,368.4 513.3,368.5 513.3,370.4 513.3,371.0 513.2,372.0 513.2,372.5 513.2,372.8 513.2,374.9 513.5,373.5 513.8,371.4 514.1,371.7 514.4,369.6 514.6,369.6 514.7,368.5 514.8,368.4 515.0,366.6 515.1,364.9 515.3,363.4 515.4,363.7 515.5,362.4 515.7,363.5 515.7,363.8 515.7,362.7 515.8,365.5 515.8,365.5 515.8,366.8 515.8,367.0 515.9,368.2 515.9,369.0 515.9,370.4 516.0,370.6 516.0,372.5 516.0,373.5 516.0,374.7 516.1,375.0 516.1,377.3 516.1,375.5 516.2,376.3 516.2,377.7 516.2,379.0 516.2,379.6 516.3,380.3 516.3,380.3 516.3,382.1 516.4,383.9 516.4,384.2 516.4,384.9 516.4,385.5 516.5,385.8 516.5,386.0 516.5,387.9 516.6,389.2 516.6,390.0 516.6,390.3 516.7,390.2 516.7,390.7 516.7,392.9 516.8,395.0 516.8,394.3 516.8,394.6 516.9,395.6 516.9,395.6 516.9,396.6 517.0,397.0 517.0,397.2 517.0,398.3 517.1,399.1 517.1,400.4 517.1,401.4 517.2,401.4 517.2,404.1 517.2,404.1 517.3,404.4 517.3,406.2 517.4,407.1 517.4,407.5 517.4,408.2 517.5,409.2 517.5,411.0 517.5,411.7 517.6,413.7 517.6,412.8 517.6,411.5 517.7,411.4 517.7,410.6 517.8,409.0 517.8,407.1 517.9,407.0 517.9,405.0 517.9,404.3 518.0,402.8 518.0,403.0 518.1,402.6 518.1,401.1 518.2,400.0 518.2,399.9 518.2,398.2 518.3,398.2 518.3,397.9 518.4,396.1 518.4,393.9 518.5,393.7 518.5,393.3 518.6,391.6 518.6,392.4 518.6,390.1 518.7,389.9 518.7,389.5 518.8,388.9 518.8,388.3 518.8,386.0 518.9,385.2 518.9,385.0 518.9,384.4 518.9,385.1 518.9,383.0 519.0,383.0 519.0,380.5 519.0,379.0 519.0,378.6 519.1,378.1 519.1,377.3 519.1,377.4 519.1,374.2 519.1,373.6 519.2,373.1 519.2,372.8 519.2,372.2 519.2,371.1 519.3,369.7 519.3,369.3 519.3,369.4 519.3,368.1 519.3,367.5 519.4,367.7 519.4,366.7 519.4,366.7 519.4,365.5 519.5,363.8 519.6,364.3 519.6,363.8 519.7,363.0 519.8,360.8 519.9,361.4 519.9,361.3 520.0,358.9 520.1,357.4 520.1,356.3 520.2,355.9 520.3,354.2 520.3,352.6 520.4,353.7 520.5,352.9 520.6,351.9 520.6,349.7 520.7,348.7 520.8,349.2 520.8,347.5 520.9,346.7 521.0,346.6 521.0,346.0 521.1,345.6 521.2,344.8 521.2,344.0 521.3,343.7 521.4,341.9 521.5,341.1 521.5,340.4 521.6,339.6 521.7,338.8 521.7,338.3 521.8,337.2 521.9,335.3 521.9,335.5 521.6,334.0 521.3,333.1 521.0,333.1 520.7,332.1 520.8,331.8 521.0,330.3 521.1,329.7 521.2,328.9 521.4,327.7 521.5,327.7 521.6,325.8 521.8,325.4 521.9,324.4 522.0,323.6 522.2,322.6 522.3,322.7 522.4,321.5 522.6,321.1 522.6,320.0 522.6,320.6 522.7,318.8 522.7,316.2 522.7,315.7 522.8,314.6 522.8,314.8 522.8,314.2 522.9,312.2 522.9,312.0 523.0,311.4 523.0,309.6 523.0,308.6 523.1,308.0 523.1,308.4 523.1,307.2 523.2,306.0 523.2,305.4 523.3,304.4 523.4,303.6 523.6,302.6 523.7,302.3 523.8,302.2 523.9,301.3 524.1,299.9 524.2,298.7 524.3,298.3 524.4,298.2 524.5,298.3 524.6,298.3 524.7,299.7 524.8,298.9 524.8,300.9 524.9,301.8 525.0,302.3 525.1,302.9 525.2,304.1 525.2,304.2 525.3,305.4 525.4,306.3 525.5,307.5 525.5,307.3 525.6,308.6 525.7,309.8 525.7,310.1 525.8,309.3 525.8,312.3 525.8,312.1 525.9,313.3 525.9,314.2 526.0,316.5 526.0,317.2 526.0,318.2 526.1,317.8 526.1,319.2 526.1,320.2 526.2,321.3 526.2,322.5 526.3,322.5 526.3,323.5 526.3,324.2 526.4,325.0 526.5,325.6 526.6,326.7 526.7,327.9 526.8,329.0 526.9,329.6 527.0,329.6 527.0,331.0 527.1,331.1 527.2,332.0 527.3,333.5 527.4,334.2 527.5,335.0 527.6,335.3 528.1,336.6 528.6,336.1 528.6,335.8 528.6,335.6 528.6,335.9 528.7,334.2 528.7,332.8 528.7,331.5 528.7,330.7 528.7,330.8 528.8,330.0 528.8,328.6 528.8,327.3 528.8,327.4 528.8,327.3 528.9,325.3 528.9,323.5 528.9,322.6 528.9,322.1 528.9,321.2 529.0,321.4 529.0,321.1 529.0,320.6 529.0,319.2 529.0,317.9 529.1,315.9 529.1,317.0 529.1,315.8 529.2,314.9 529.2,314.5 529.3,313.3 529.3,312.7 529.4,312.6 529.4,311.8 529.5,309.8 529.5,309.3 529.6,308.5 529.6,305.9 529.7,305.6 529.7,305.0 529.8,304.7 529.8,304.5 529.9,303.6 529.9,302.2 530.0,302.3 530.0,302.5 530.1,301.2 530.2,302.9 530.2,303.9 530.3,302.5 530.4,303.6 530.5,304.7 530.5,304.9 530.6,306.5 530.7,306.7 530.7,308.1 530.8,308.2 530.9,308.1 531.0,310.1 531.0,310.9 531.1,311.5 531.2,311.4 531.3,312.6 531.3,312.9 531.4,312.5 531.4,311.8 531.5,310.4 531.5,309.7 531.5,308.6 531.6,308.6 531.6,308.8 531.7,308.5 531.7,308.4 531.7,306.6 531.8,304.3 531.8,303.9 531.8,302.9 531.9,302.5 531.9,302.4 532.0,301.0 532.0,299.4 532.0,299.8 532.1,297.7 532.1,297.7 532.2,296.5 532.2,295.2 532.2,296.4 532.3,294.7 532.3,293.4 532.4,293.4 532.4,292.6 532.4,291.2 532.5,288.8 532.5,289.5 532.6,287.3 532.6,285.2 532.7,287.5 532.8,288.6 532.8,288.8 532.9,290.0 533.0,291.2 533.1,291.4 533.2,290.8 533.3,293.3 533.3,294.4 533.4,294.2 533.5,295.3 533.6,297.6 533.7,297.9 533.8,299.9 533.8,300.1 534.5,301.7 535.1,303.2 535.2,301.1 535.2,302.2 535.3,299.9 535.4,298.5 535.5,297.8 535.5,297.3 535.6,294.9 535.7,294.8 535.7,294.1 535.8,292.6 535.9,292.8 536.0,291.3 536.0,291.0 536.1,290.4 536.2,288.9 536.3,287.6 536.3,288.1 536.4,286.4 536.5,287.5 536.5,285.1 536.6,283.5 536.7,283.8 536.8,282.8 536.8,280.6 536.9,280.0 537.0,279.3 537.0,279.3 537.1,277.7 537.1,277.4 537.2,277.0 537.2,276.5 537.3,277.2 537.4,274.5 537.4,273.4 537.5,272.3 537.5,271.8 537.6,272.3 537.6,270.6 537.7,270.5 537.7,268.4 537.8,268.4 537.8,268.0 537.9,266.9 538.0,266.1 538.0,265.7 538.1,264.3 538.1,262.9 538.2,262.3 538.2,260.0 538.3,258.9 538.3,258.6 538.3,257.0 538.4,256.5 538.4,256.3 538.5,255.7 538.5,255.8 538.5,254.9 538.6,254.0 538.6,252.6 538.6,252.5 538.7,250.5 538.7,250.4 538.7,250.3 538.9,248.8 539.0,246.7 539.2,247.0 539.3,246.1 539.5,244.6 539.6,244.1 539.7,243.1 539.9,241.9 540.0,240.8 540.2,240.9 540.3,239.1 540.4,240.3 540.6,239.8 540.8,238.1 541.0,237.4 541.1,237.3 541.3,235.2 541.5,233.8 541.6,233.4 541.8,233.4 542.0,231.1 542.1,229.4 542.2,229.7 542.3,228.9 542.3,228.2 542.4,228.0 542.5,226.9 542.5,227.1 542.6,226.4 542.7,224.7 542.7,223.8 542.8,222.4 542.8,222.5 542.9,220.5 543.0,220.3 543.0,220.1 543.1,219.5 543.2,218.3 543.2,217.6 543.3,216.0 543.8,216.0 544.4,217.2 544.5,218.2 544.6,219.1 544.8,220.6 544.9,220.4 545.0,220.6 545.1,221.3 545.2,222.3 545.3,221.7 545.4,222.7 545.6,223.0 545.8,223.2 546.1,225.7 546.4,227.1 546.7,228.1 546.8,228.6 546.8,229.2 546.9,229.5 547.0,231.5 547.0,231.4 547.1,232.2 547.2,233.7 547.2,233.5 547.3,234.1 547.4,235.9 547.4,236.3 547.5,236.2 547.6,237.9 547.6,238.3 547.7,240.0 547.8,240.1 547.8,239.9 547.9,242.1 548.0,241.6 548.1,241.8 548.2,242.1 548.3,243.5 548.4,244.1 548.5,245.2 548.6,245.2 548.7,246.6 548.8,249.0 548.9,250.6 549.0,249.2 548.9,251.4 548.9,252.3 548.9,253.1 548.9,253.6 548.9,255.0 548.9,256.0 548.9,257.1 548.9,257.2 548.9,258.6 548.9,258.7 548.9,260.3 548.9,260.8 548.9,261.9 549.0,262.9 549.2,262.9 549.4,264.5 549.6,264.9 549.7,265.0 549.9,264.9 550.1,266.5 550.2,268.5 550.4,268.2 550.6,268.5 550.8,269.1 551.1,271.1 551.4,272.0 551.7,271.7 552.0,271.9 552.3,272.5 552.6,275.1 552.7,276.9 552.8,277.8 552.8,278.2 552.9,278.6 553.0,278.8 553.1,279.1 553.1,280.2 553.2,279.6 553.3,280.9 553.9,281.6 554.5,281.1 554.5,282.0 554.6,283.2 554.6,283.7 554.6,283.9 554.7,284.7 554.7,284.8 554.7,287.2 554.8,287.7 554.8,287.6 554.8,289.6 554.9,290.8 554.9,291.7 554.9,291.8 555.0,291.9 555.0,294.0 555.0,294.2 555.0,295.2 555.1,296.8 555.1,297.8 555.1,298.4 555.2,298.9 555.2,299.8 555.2,300.7 555.3,300.7 555.3,301.0 555.3,302.8 555.4,302.6 555.4,303.7 555.5,305.3 555.5,304.9 555.5,306.0 555.6,306.5 555.6,306.7 555.6,309.0 555.7,309.3 555.7,310.5 555.7,311.9 555.8,313.6 555.8,313.8 555.9,314.0 555.9,315.8 556.0,314.5 556.1,315.5 556.1,316.5 556.2,317.2 556.2,319.1 556.3,319.6 556.4,320.7 556.4,321.0 556.5,320.8 556.5,322.2 556.6,325.5 556.7,326.5 556.7,326.9 556.8,327.5 556.8,327.6 556.9,328.2 557.0,328.3 557.0,330.7 557.0,331.7 557.1,331.6 557.1,332.4 557.1,332.9 557.1,332.8 557.1,334.5 557.2,335.8 557.2,337.3 557.2,337.7 557.2,339.3 557.3,339.0 557.3,338.9 557.3,339.3 557.3,341.0 557.3,342.1 557.4,342.0 557.4,343.6 557.4,344.4 557.4,345.7 557.4,346.9 557.5,346.7 557.5,347.7 557.5,348.1 557.5,348.7 557.6,349.8 557.6,350.8 557.6,351.8 557.6,353.0 557.6,353.6 557.8,353.3 557.9,352.0 558.1,351.2 558.2,350.4 558.3,348.9 558.5,349.7 558.6,348.1 558.8,347.3 558.9,346.6 559.4,345.7 559.8,344.2 560.3,343.6 560.8,342.1 560.9,341.5 560.9,341.0 561.0,341.4 561.1,341.1 561.2,339.1 561.2,338.1 561.3,336.2 561.4,335.5 561.4,335.2 561.5,335.1 561.5,333.6 561.6,333.6 561.6,332.7 561.7,332.2 561.7,330.7 561.7,329.7 561.8,330.2 561.8,329.0 561.9,327.0 561.9,327.0 562.0,324.5 562.0,324.8 562.0,325.3 562.1,324.3 562.1,322.8 562.2,321.3 562.2,319.5 562.3,319.5 562.3,318.2 562.4,319.2 562.4,317.1 562.4,315.4 562.5,314.8 562.5,315.2 562.6,313.5 562.6,312.5 562.7,312.2 562.7,311.3 562.8,311.2 562.8,310.0 562.9,310.3 563.0,308.4 563.0,307.8 563.1,306.3 563.1,305.9 563.2,305.5 563.3,305.0 563.3,302.3 563.4,301.7 563.4,302.1 563.5,301.1 563.5,299.8 563.6,299.1 563.7,298.9 563.7,297.1 563.8,297.3 563.8,297.2 563.9,295.0 564.1,296.3 564.3,296.3 564.4,296.5 564.6,298.3 564.8,298.5 565.0,298.4 565.2,300.4 565.8,300.6 566.4,299.6 566.5,299.2 566.5,298.3 566.5,297.6 566.6,296.3 566.6,295.8 566.7,294.8 566.7,294.4 566.7,293.4 566.8,292.6 566.8,290.5 566.9,290.7 566.9,290.5 567.0,289.3 567.0,288.4 567.0,287.3 567.1,286.5 567.2,285.9 567.2,285.1 567.3,283.0 567.4,282.7 567.5,282.7 567.5,282.0 567.6,281.1 567.7,278.3 567.7,277.9 567.8,277.6 567.9,277.7 567.9,277.1 568.0,275.7 568.1,274.6 568.2,274.3 568.2,273.8 568.3,272.0 568.4,272.8 568.5,271.8 568.5,270.4 568.6,268.3 568.7,269.0 568.8,268.4 568.9,266.6 569.0,264.8 569.0,264.7 569.1,264.5 569.2,263.2 569.3,262.2 569.4,261.3 569.5,259.5 569.5,258.4 569.8,259.0 570.0,258.7 570.2,257.3 570.4,256.7 570.6,257.1 570.8,254.9 571.0,253.0 571.2,251.6 571.4,251.5 572.2,251.8 573.1,251.1 573.9,251.2 574.0,249.2 574.2,250.0 574.4,249.1 574.5,247.9 574.7,246.6 574.8,247.2 575.0,246.9 575.1,245.3 575.3,242.9 575.4,242.5 575.6,241.9 575.8,242.4 575.9,240.1 576.1,239.0 576.3,238.2 576.5,239.0 576.6,238.1 576.8,237.1 577.0,236.1 577.2,234.1 577.3,233.6 577.5,232.4 577.7,232.9 577.9,231.4 578.0,232.9 578.2,233.4 578.4,234.7 578.5,234.8 578.7,236.4 578.9,238.2 579.1,238.4 579.2,239.1 579.4,239.1 579.6,239.7 580.1,241.3 580.7,242.3 580.8,241.2 580.9,240.6 580.9,239.3 581.0,237.9 581.1,237.5 581.2,236.3 581.3,235.9 581.3,234.9 581.4,235.1 581.5,234.4 581.6,232.1 581.7,233.1 581.7,231.7 581.8,230.5 581.9,228.8 582.0,228.0 582.1,228.6 582.2,227.3 582.2,227.1 582.3,225.7 582.4,225.6 582.5,224.2 582.6,223.1 582.6,220.8 582.7,221.0 582.8,221.2 582.9,219.8 583.0,218.5 583.2,217.9 583.4,217.5 583.7,215.6 583.9,215.7 584.2,215.2 584.4,214.5 584.7,213.0 584.8,212.2 584.9,210.2 585.1,210.9 585.2,210.4 585.4,208.8 585.5,209.0 585.7,207.5 585.8,205.9 586.7,204.3 587.7,205.2 588.6,206.6 589.0,205.9 589.4,204.7 589.8,202.9 590.1,202.3 590.5,202.5 590.9,201.5 591.3,200.3 591.7,199.8 592.0,197.9 592.6,197.4 593.2,197.5 593.7,199.0 594.3,197.0 594.9,195.9 595.4,195.0 596.0,194.8 596.6,194.0 597.2,192.9 597.9,191.7 598.6,191.0 599.3,191.2 600.0,190.7 600.7,190.1 601.5,189.7 602.2,189.7 602.8,192.0 603.4,192.6 603.9,192.6 604.5,193.1 605.1,193.2 605.8,191.8 606.5,191.6 607.2,191.1 607.9,191.7 608.2,191.5 608.6,192.1 608.9,192.4 609.2,194.6 609.5,195.4 609.8,196.1 610.2,196.9 611.3,197.1 612.4,196.3 612.9,194.3 613.4,195.4 613.9,194.4 614.4,193.5 614.9,192.8 615.4,191.9 615.9,190.7 616.4,191.0 616.6,192.3 616.8,193.4 617.0,193.1 617.2,193.4 617.4,195.3 617.6,195.2 617.8,197.0 618.0,196.9 618.2,199.7 618.4,199.7 618.6,200.2 618.8,200.2 619.0,201.7 619.2,202.7 619.5,202.4 619.8,201.8 620.1,200.6 620.4,199.9 620.7,198.8 620.9,196.7 621.2,195.4 621.5,193.7 622.5,194.4 623.4,194.8 624.3,195.9 624.9,194.6 625.5,193.0 626.0,191.6 626.6,192.0 627.2,191.8 627.4,193.5 627.6,194.6 627.8,195.3 628.0,196.8 628.2,196.7 628.5,196.8 628.7,198.5 628.9,199.5 629.8,199.7 630.8,199.0 631.7,198.4 632.1,197.1 632.5,196.3 632.8,195.8 633.2,194.9 633.6,194.5 634.0,193.6 634.5,194.8 635.1,192.8 635.7,194.7 636.2,196.2 636.8,196.6 637.4,196.8 637.8,197.5 638.3,199.5 638.7,200.1 639.2,199.5 639.6,201.4 640.1,200.5 640.6,199.9 641.1,199.4 641.6,199.9 642.1,199.0 642.6,197.5 643.0,196.9 643.8,196.1 644.6,196.3 645.4,194.9 646.2,194.2 647.0,192.9 648.0,192.7 649.0,193.3 650.0,193.8 651.0,195.1 651.9,192.8 652.8,192.4 653.7,192.4 654.6,192.8 655.5,192.5 656.4,193.0 657.2,193.9 658.1,193.1 658.9,192.3 659.3,191.2 659.8,191.5 660.2,191.8 660.6,191.1 661.0,192.0 661.4,193.4 661.8,192.5 662.1,193.6 662.5,194.6 662.9,194.1 663.5,194.7 664.0,195.2 664.6,195.7 665.2,197.6 665.9,196.7 666.7,197.7 667.5,196.9 668.3,195.6 669.1,197.5 670.0,196.4 670.9,195.7 671.8,195.6 672.7,196.7 673.7,195.0 674.5,194.2 675.4,194.3 676.2,194.6 677.1,194.7 677.9,195.0 678.6,193.5 679.4,194.8 680.2,194.1 681.0,194.9 681.8,194.4 682.6,194.0 683.4,194.1 684.2,194.4 685.0,194.8 685.9,196.0 686.8,196.0 687.7,195.4 688.6,195.5 689.5,197.2 690.4,197.1 691.3,197.2 692.2,198.2 693.2,197.5 694.1,196.5 694.9,195.8 695.8,196.0 696.6,195.4 697.5,196.6 698.3,194.9 699.2,194.4 699.9,195.5 700.6,195.3 701.3,196.8 702.0,197.3 702.6,209.7 727.5,209.7" fill="none" stroke="#0000ff" stroke-width="4.3" stroke-linejoin="round" stroke-linecap="round" clip-path="url(#cp1)"/>
<line x1="705.50" y1="108.00" x2="705.50" y2="418.50" stroke="#00ffff" stroke-width="2.9"/>
<text x="275.1" y="100.0" font-size="13.06" fill="#000" textLength="253.0" lengthAdjust="spacingAndGlyphs">File Updated:23-Sep-2025 22:50:03 UTC</text>
<text x="720.9" y="106.8" font-size="15.24" fill="#000" textLength="128.5" lengthAdjust="spacingAndGlyphs" text-anchor="end">minute resolution</text>
<rect x="698.6" y="103.7" width="111.2" height="39.8" fill="#fff" stroke="#00ffff" stroke-width="1"/>
<text x="705.9" y="130.7" font-size="21.77" fill="#000" textLength="96.7" lengthAdjust="spacingAndGlyphs">time now</text>
<line x1="707.10" y1="210.00" x2="727.50" y2="210.00" stroke="#000" stroke-width="1.7" opacity="0.72"/>
<line x1="275.50" y1="108.00" x2="275.50" y2="419.00" stroke="#0000ff" stroke-width="1"/>
<line x1="727.50" y1="108.00" x2="727.50" y2="419.00" stroke="#000" stroke-width="1"/>
<line x1="275.00" y1="418.50" x2="728.00" y2="418.50" stroke="#262626" stroke-width="1"/>
<text x="274.5" y="448.2" font-size="21.77" fill="#262626" textLength="13.3" lengthAdjust="spacingAndGlyphs" text-anchor="middle">0</text>
<line x1="331.50" y1="418.50" x2="331.50" y2="414.00" stroke="#262626" stroke-width="1"/>
<text x="331.0" y="448.2" font-size="21.77" fill="#262626" textLength="13.3" lengthAdjust="spacingAndGlyphs" text-anchor="middle">3</text>
<line x1="388.50" y1="418.50" x2="388.50" y2="414.00" stroke="#262626" stroke-width="1"/>
<text x="387.5" y="448.2" font-size="21.77" fill="#262626" textLength="13.3" lengthAdjust="spacingAndGlyphs" text-anchor="middle">6</text>
<line x1="444.50" y1="418.50" x2="444.50" y2="414.00" stroke="#262626" stroke-width="1"/>
<text x="444.0" y="448.2" font-size="21.77" fill="#262626" textLength="13.3" lengthAdjust="spacingAndGlyphs" text-anchor="middle">9</text>
<line x1="501.50" y1="418.50" x2="501.50" y2="414.00" stroke="#262626" stroke-width="1"/>
<text x="500.5" y="448.2" font-size="21.77" fill="#262626" textLength="26.5" lengthAdjust="spacingAndGlyphs" text-anchor="middle">12</text>
<line x1="557.50" y1="418.50" x2="557.50" y2="414.00" stroke="#262626" stroke-width="1"/>
<text x="557.0" y="448.2" font-size="21.77" fill="#262626" textLength="26.5" lengthAdjust="spacingAndGlyphs" text-anchor="middle">15</text>
<line x1="614.50" y1="418.50" x2="614.50" y2="414.00" stroke="#262626" stroke-width="1"/>
<text x="613.5" y="448.2" font-size="21.77" fill="#262626" textLength="26.5" lengthAdjust="spacingAndGlyphs" text-anchor="middle">18</text>
<line x1="670.50" y1="418.50" x2="670.50" y2="414.00" stroke="#262626" stroke-width="1"/>
<text x="670.0" y="448.2" font-size="21.77" fill="#262626" textLength="26.5" lengthAdjust="spacingAndGlyphs" text-anchor="middle">21</text>
<text x="726.5" y="448.2" font-size="21.77" fill="#262626" textLength="26.5" lengthAdjust="spacingAndGlyphs" text-anchor="middle">24</text>
<line x1="275.50" y1="144.50" x2="280.00" y2="144.50" stroke="#0000ff" stroke-width="1"/>
<text x="265.2" y="151.7" font-size="21.77" fill="#0000ff" textLength="39.8" lengthAdjust="spacingAndGlyphs" text-anchor="end">200</text>
<line x1="275.50" y1="209.50" x2="280.00" y2="209.50" stroke="#0000ff" stroke-width="1"/>
<text x="265.2" y="217.0" font-size="21.77" fill="#0000ff" textLength="13.3" lengthAdjust="spacingAndGlyphs" text-anchor="end">0</text>
<line x1="275.50" y1="275.50" x2="280.00" y2="275.50" stroke="#0000ff" stroke-width="1"/>
<text x="265.2" y="282.3" font-size="21.77" fill="#0000ff" textLength="47.3" lengthAdjust="spacingAndGlyphs" text-anchor="end">-200</text>
<line x1="275.50" y1="340.50" x2="280.00" y2="340.50" stroke="#0000ff" stroke-width="1"/>
<text x="265.2" y="347.5" font-size="21.77" fill="#0000ff" textLength="47.3" lengthAdjust="spacingAndGlyphs" text-anchor="end">-400</text>
<line x1="275.50" y1="405.50" x2="280.00" y2="405.50" stroke="#0000ff" stroke-width="1"/>
<text x="265.2" y="412.8" font-size="21.77" fill="#0000ff" textLength="47.3" lengthAdjust="spacingAndGlyphs" text-anchor="end">-600</text>
<line x1="727.50" y1="112.50" x2="723.00" y2="112.50" stroke="#000" stroke-width="1"/>
<text x="735.9" y="119.1" font-size="21.77" fill="#000" textLength="26.5" lengthAdjust="spacingAndGlyphs">50</text>
<line x1="727.50" y1="209.50" x2="723.00" y2="209.50" stroke="#000" stroke-width="1"/>
<text x="735.9" y="217.0" font-size="21.77" fill="#000" textLength="13.3" lengthAdjust="spacingAndGlyphs">0</text>
<line x1="727.50" y1="307.50" x2="723.00" y2="307.50" stroke="#000" stroke-width="1"/>
<text x="735.9" y="314.9" font-size="21.77" fill="#000" textLength="34.0" lengthAdjust="spacingAndGlyphs">-50</text>
<line x1="727.50" y1="405.50" x2="723.00" y2="405.50" stroke="#000" stroke-width="1"/>
<text x="735.9" y="412.8" font-size="21.77" fill="#000" textLength="47.3" lengthAdjust="spacingAndGlyphs">-100</text>
<text x="500.7" y="479.0" font-size="23.95" fill="#262626" textLength="125.6" lengthAdjust="spacingAndGlyphs" text-anchor="middle">UT Time /h</text>
<text x="562.2" y="61.7" font-size="26.12" fill="#000" textLength="215.6" lengthAdjust="spacingAndGlyphs" text-anchor="middle">Macquarie Island</text>
<rect x="868.50" y="108.00" width="112.50" height="310.50" fill="#e6e6e6"/>
<rect x="1226.97" y="108.00" width="94.33" height="310.50" fill="#e6e6e6"/>
<line x1="868.50" y1="134.00" x2="1321.30" y2="134.00" stroke="#ff0000" stroke-width="3.1"/>
<line x1="868.50" y1="165.30" x2="1321.30" y2="165.30" stroke="#ffff00" stroke-width="3.1"/>
<line x1="868.50" y1="196.60" x2="1321.30" y2="196.60" stroke="#00ff00" stroke-width="3.1"/>
<line x1="868.50" y1="384.40" x2="1321.30" y2="384.40" stroke="#00ff00" stroke-width="3.1"/>
<line x1="868.50" y1="415.70" x2="1321.30" y2="415.70" stroke="#ffff00" stroke-width="3.1"/>
<clipPath id="cp2"><rect x="868.5" y="108.0" width="452.8" height="310.5"/></clipPath>
<polyline points="868.5,331.8 868.8,297.9 869.1,302.1 869.4,311.9 869.8,318.4 870.1,290.6 870.4,235.0 870.7,221.1 871.0,251.6 871.3,259.6 871.6,264.8 872.0,291.5 872.3,333.1 872.6,286.8 872.9,269.1 873.2,234.0 873.5,234.3 873.8,300.7 874.2,321.0 874.5,341.8 874.8,417.5 875.1,325.3 875.4,269.9 875.7,277.6 876.0,298.2 876.4,288.3 876.7,284.4 877.0,317.0 877.3,300.6 877.6,281.7 877.9,280.2 878.2,310.4 878.6,335.8 878.9,320.1 879.2,325.0 879.5,309.4 879.8,297.7 880.1,331.4 880.4,273.3 880.8,274.1 881.1,279.2 881.4,277.0 881.7,299.6 882.0,281.7 882.3,254.0 882.6,258.2 883.0,232.0 883.3,253.3 883.6,269.8 883.9,236.1 884.2,275.6 884.5,278.8 884.9,292.8 885.2,313.9 885.5,350.2 885.8,335.6 886.1,318.2 886.4,321.6 886.7,308.5 887.1,312.3 887.4,288.4 887.7,319.5 888.0,330.9 888.3,358.6 888.6,322.3 888.9,337.2 889.3,320.0 889.6,292.7 889.9,297.9 890.2,309.7 890.5,364.4 890.8,302.6 891.1,298.0 891.5,283.8 891.8,295.6 892.1,293.2 892.4,300.7 892.7,284.0 893.0,263.7 893.3,329.5 893.7,275.2 894.0,296.4 894.3,308.4 894.6,279.1 894.9,268.3 895.2,274.6 895.5,293.9 895.9,274.8 896.2,298.1 896.5,298.9 896.8,304.7 897.1,288.8 897.4,304.0 897.7,317.7 898.1,270.0 898.4,290.0 898.7,327.7 899.0,311.0 899.3,363.4 899.6,351.2 899.9,368.2 900.3,318.0 900.6,264.0 900.9,275.4 901.2,259.0 901.5,248.3 901.8,293.1 902.1,276.7 902.5,266.7 902.8,254.7 903.1,303.0 903.4,349.9 903.7,283.2 904.0,282.4 904.3,286.1 904.7,298.5 905.0,292.6 905.3,266.7 905.6,311.3 905.9,272.1 906.2,255.1 906.5,257.6 906.9,244.3 907.2,269.4 907.5,271.3 907.8,262.2 908.1,260.8 908.4,268.4 908.7,294.3 909.1,275.9 909.4,308.5 909.7,309.2 910.0,297.9 910.3,304.3 910.6,313.1 911.0,325.1 911.3,287.1 911.6,297.4 911.9,324.4 912.2,305.1 912.5,289.8 912.8,256.0 913.2,267.6 913.5,280.7 913.8,258.1 914.1,266.5 914.4,287.4 914.7,283.0 915.0,268.9 915.4,269.7 915.7,258.8 916.0,300.9 916.3,283.8 916.6,277.6 916.9,278.7 917.2,272.3 917.6,275.6 917.9,264.5 918.2,268.1 918.5,278.5 918.8,272.9 919.1,273.1 919.4,297.7 919.8,329.1 920.1,324.9 920.4,316.8 920.7,320.7 921.0,314.7 921.3,269.7 921.6,281.6 922.0,324.0 922.3,323.8 922.6,339.4 922.9,331.1 923.2,297.9 923.5,276.3 923.8,279.7 924.2,365.9 924.5,281.8 924.8,300.2 925.1,311.9 925.4,287.2 925.7,272.1 926.0,272.6 926.4,258.4 926.7,273.8 927.0,289.5 927.3,271.4 927.6,279.7 927.9,269.9 928.2,311.6 928.6,308.3 928.9,290.6 929.2,285.9 929.5,280.5 929.8,312.7 930.1,287.7 930.4,312.8 930.8,319.6 931.1,315.3 931.4,295.8 931.7,291.2 932.0,356.8 932.3,271.3 932.6,276.3 933.0,254.7 933.3,277.8 933.6,284.2 933.9,293.0 934.2,286.6 934.5,292.4 934.8,306.4 935.2,293.0 935.5,281.0 935.8,258.8 936.1,285.6 936.4,301.4 936.7,312.1 937.0,295.0 937.4,315.3 937.7,301.2 938.0,312.0 938.3,304.3 938.6,305.4 938.9,335.9 939.2,296.6 939.6,288.0 939.9,285.9 940.2,314.6 940.5,306.9 940.8,283.5 941.1,285.8 941.5,272.6 941.8,261.7 942.1,277.9 942.4,280.9 942.7,261.5 943.0,261.0 943.3,247.1 943.7,244.6 944.0,252.9 944.3,259.8 944.6,260.3 944.9,271.1 945.2,279.2 945.5,285.2 945.9,275.4 946.2,287.4 946.5,281.8 946.8,305.8 947.1,292.7 947.4,301.9 947.7,292.4 948.1,317.4 948.4,328.5 948.7,321.9 949.0,283.3 949.3,295.8 949.6,229.7 949.9,251.5 950.3,256.4 950.6,269.0 950.9,254.5 951.2,267.1 951.5,262.0 951.8,284.9 952.1,311.1 952.5,290.4 952.8,244.4 953.1,251.8 953.4,255.0 953.7,281.0 954.0,308.4 954.3,289.7 954.7,257.1 955.0,281.1 955.3,289.0 955.6,227.1 955.9,276.5 956.2,275.3 956.5,231.4 956.9,292.6 957.2,297.7 957.5,320.7 957.8,309.4 958.1,307.0 958.4,300.6 958.7,276.7 959.1,285.1 959.4,289.6 959.7,274.8 960.0,306.6 960.3,292.9 960.6,254.9 960.9,270.2 961.3,291.3 961.6,288.3 961.9,304.4 962.2,265.7 962.5,279.1 962.8,281.2 963.1,295.5 963.5,285.1 963.8,294.2 964.1,273.4 964.4,261.2 964.7,281.8 965.0,295.2 965.3,284.9 965.7,284.8 966.0,290.3 966.3,253.5 966.6,253.8 966.9,268.9 967.2,262.1 967.5,263.7 967.9,290.3 968.2,295.2 968.5,326.4 968.8,313.9 969.1,280.9 969.4,277.7 969.8,306.0 970.1,291.7 970.4,312.7 970.7,320.2 971.0,303.6 971.3,276.9 971.6,310.3 972.0,300.5 972.3,281.7 972.6,265.3 972.9,287.7 973.2,279.7 973.5,297.1 973.8,294.3 974.2,284.2 974.5,291.0 974.8,266.2 975.1,279.0 975.4,271.9 975.7,266.5 976.0,287.5 976.4,288.8 976.7,286.7 977.0,275.6 977.3,285.5 977.6,286.8 977.9,295.5 978.2,290.4 978.6,286.1 978.9,306.7 979.2,282.5 979.5,268.6 979.8,269.3 980.1,287.1 980.4,307.4 980.8,294.1 981.1,320.7 981.4,340.9 981.7,305.4 982.0,316.0 982.3,318.6 982.6,317.9 983.0,299.1 983.3,301.0 983.6,280.1 983.9,285.3 984.2,272.2 984.5,279.8 984.8,274.9 985.2,270.6 985.5,307.1 985.8,296.3 986.1,286.0 986.4,291.4 986.7,298.9 987.0,287.0 987.4,303.2 987.7,292.6 988.0,301.2 988.3,299.2 988.6,295.5 988.9,300.0 989.2,294.8 989.6,286.7 989.9,295.4 990.2,293.0 990.5,295.8 990.8,297.1 991.1,300.5 991.4,298.0 991.8,309.3 992.1,309.0 992.4,312.4 992.7,323.2 993.0,323.3 993.3,291.8 993.6,302.8 994.0,280.2 994.3,276.3 994.6,278.9 994.9,281.7 995.2,282.2 995.5,278.5 995.9,300.2 996.2,310.5 996.5,305.9 996.8,290.4 997.1,291.8 997.4,298.2 997.7,299.4 998.1,288.7 998.4,319.2 998.7,330.2 999.0,295.8 999.3,291.4 999.6,282.7 999.9,278.1 1000.3,298.7 1000.6,296.3 1000.9,288.1 1001.2,283.6 1001.5,284.7 1001.8,285.9 1002.1,267.6 1002.5,276.1 1002.8,273.7 1003.1,280.0 1003.4,274.0 1003.7,286.9 1004.0,277.7 1004.3,281.2 1004.7,258.6 1005.0,263.2 1005.3,262.2 1005.6,260.5 1005.9,262.0 1006.2,258.7 1006.5,262.0 1006.9,278.6 1007.2,284.8 1007.5,273.6 1007.8,268.7 1008.1,279.5 1008.4,290.7 1008.7,289.5 1009.1,281.5 1009.4,287.9 1009.7,299.6 1010.0,292.8 1010.3,305.5 1010.6,288.7 1010.9,301.0 1011.3,275.3 1011.6,272.5 1011.9,289.4 1012.2,288.7 1012.5,289.6 1012.8,290.0 1013.1,290.0 1013.5,282.5 1013.8,280.0 1014.1,288.4 1014.4,282.9 1014.7,293.6 1015.0,290.8 1015.3,295.4 1015.7,308.0 1016.0,302.3 1016.3,285.0 1016.6,278.3 1016.9,281.7 1017.2,281.2 1017.5,276.8 1017.9,273.4 1018.2,289.2 1018.5,289.8 1018.8,299.4 1019.1,296.2 1019.4,302.0 1019.7,301.0 1020.1,298.4 1020.4,283.0 1020.7,275.3 1021.0,288.1 1021.3,328.9 1021.6,288.0 1021.9,278.8 1022.3,237.3 1022.6,269.8 1022.9,273.0 1023.2,279.9 1023.5,281.6 1023.8,281.6 1024.2,281.3 1024.5,272.7 1024.8,266.9 1025.1,286.3 1025.4,298.2 1025.7,284.0 1026.0,293.0 1026.4,304.3 1026.7,289.8 1027.0,296.5 1027.3,303.9 1027.6,294.4 1027.9,291.0 1028.2,293.5 1028.6,294.0 1028.9,281.6 1029.2,292.1 1029.5,289.2 1029.8,286.9 1030.1,296.8 1030.4,278.1 1030.8,280.3 1031.1,272.6 1031.4,277.4 1031.7,304.0 1032.0,296.4 1032.3,298.6 1032.6,296.3 1033.0,297.2 1033.3,288.1 1033.6,293.0 1033.9,291.6 1034.2,298.5 1034.5,286.4 1034.8,303.7 1035.2,293.1 1035.5,296.2 1035.8,298.8 1036.1,303.7 1036.4,294.8 1036.7,298.3 1037.0,294.3 1037.4,275.8 1037.7,268.0 1038.0,273.1 1038.3,270.8 1038.6,229.2 1038.9,275.9 1039.2,273.0 1039.6,294.8 1039.9,299.7 1040.2,282.0 1040.5,293.6 1040.8,285.3 1041.1,291.9 1041.4,276.0 1041.8,289.1 1042.1,306.7 1042.4,328.6 1042.7,293.8 1043.0,295.0 1043.3,276.9 1043.6,277.4 1044.0,282.9 1044.3,272.6 1044.6,278.8 1044.9,278.0 1045.2,279.9 1045.5,279.5 1045.8,253.9 1046.2,286.2 1046.5,319.1 1046.8,289.4 1047.1,278.7 1047.4,268.1 1047.7,278.2 1048.0,293.3 1048.4,294.3 1048.7,299.4 1049.0,291.0 1049.3,303.6 1049.6,309.1 1049.9,309.1 1050.2,298.3 1050.6,289.8 1050.9,293.0 1051.2,294.4 1051.5,308.9 1051.8,315.7 1052.1,342.4 1052.5,347.1 1052.8,299.2 1053.1,269.4 1053.4,315.2 1053.7,286.1 1054.0,279.9 1054.3,283.3 1054.7,293.8 1055.0,289.0 1055.3,284.7 1055.6,289.7 1055.9,281.6 1056.2,285.2 1056.5,296.8 1056.9,287.6 1057.2,283.0 1057.5,300.1 1057.8,305.5 1058.1,290.6 1058.4,299.8 1058.7,285.7 1059.1,302.2 1059.4,307.0 1059.7,302.8 1060.0,282.7 1060.3,298.1 1060.6,292.6 1060.9,285.4 1061.3,288.7 1061.6,278.3 1061.9,287.4 1062.2,279.6 1062.5,279.2 1062.8,290.8 1063.1,290.7 1063.5,289.6 1063.8,289.2 1064.1,292.3 1064.4,294.8 1064.7,304.9 1065.0,306.2 1065.3,295.7 1065.7,287.9 1066.0,281.0 1066.3,291.0 1066.6,288.0 1066.9,279.0 1067.2,287.8 1067.5,293.2 1067.9,309.4 1068.2,305.1 1068.5,308.3 1068.8,312.2 1069.1,311.5 1069.4,297.1 1069.7,309.3 1070.1,309.2 1070.4,312.0 1070.7,305.5 1071.0,302.8 1071.3,302.4 1071.6,302.0 1071.9,303.1 1072.3,306.0 1072.6,310.0 1072.9,303.7 1073.2,309.3 1073.5,302.4 1073.8,297.5 1074.1,278.3 1074.5,279.2 1074.8,276.4 1075.1,283.5 1075.4,288.3 1075.7,277.8 1076.0,282.7 1076.3,277.2 1076.7,277.1 1077.0,274.1 1077.3,276.1 1077.6,269.0 1077.9,250.1 1078.2,287.9 1078.5,292.7 1078.9,289.4 1079.2,288.0 1079.5,285.3 1079.8,281.2 1080.1,301.8 1080.4,300.3 1080.8,293.5 1081.1,295.9 1081.4,303.1 1081.7,289.4 1082.0,269.3 1082.3,278.0 1082.6,274.8 1083.0,273.8 1083.3,277.7 1083.6,273.4 1083.9,271.5 1084.2,271.7 1084.5,277.7 1084.8,267.7 1085.2,288.0 1085.5,274.7 1085.8,266.4 1086.1,274.9 1086.4,272.2 1086.7,278.5 1087.0,284.4 1087.4,292.9 1087.7,297.5 1088.0,311.7 1088.3,302.8 1088.6,296.4 1088.9,295.6 1089.2,285.6 1089.6,293.6 1089.9,305.6 1090.2,319.1 1090.5,301.2 1090.8,294.1 1091.1,293.9 1091.4,286.2 1091.8,283.9 1092.1,279.4 1092.4,288.7 1092.7,288.7 1093.0,285.2 1093.3,284.3 1093.6,290.7 1094.0,305.7 1094.3,318.1 1094.6,304.2 1094.9,303.3 1095.2,299.0 1095.5,292.2 1095.8,297.8 1096.2,307.8 1096.5,301.9 1096.8,292.7 1097.1,285.3 1097.4,295.7 1097.7,301.7 1098.0,287.6 1098.4,276.9 1098.7,287.1 1099.0,285.8 1099.3,288.4 1099.6,288.7 1099.9,283.3 1100.2,283.6 1100.6,296.4 1100.9,285.2 1101.2,285.8 1101.5,269.5 1101.8,280.4 1102.1,279.9 1102.4,276.7 1102.8,268.5 1103.1,272.7 1103.4,275.4 1103.7,264.4 1104.0,272.2 1104.3,225.6 1104.6,256.5 1105.0,273.6 1105.3,265.0 1105.6,269.8 1105.9,275.9 1106.2,266.3 1106.5,265.4 1106.8,264.1 1107.2,250.0 1107.5,264.0 1107.8,253.2 1108.1,263.3 1108.4,287.5 1108.7,282.0 1109.0,279.0 1109.4,291.4 1109.7,291.0 1110.0,292.0 1110.3,279.4 1110.6,295.0 1110.9,290.8 1111.3,287.0 1111.6,273.8 1111.9,269.2 1112.2,276.2 1112.5,259.4 1112.8,267.2 1113.1,270.7 1113.5,269.9 1113.8,260.4 1114.1,274.5 1114.4,278.8 1114.7,271.5 1115.0,283.0 1115.3,279.6 1115.7,286.2 1116.0,259.5 1116.3,273.6 1116.6,272.1 1116.9,265.5 1117.2,270.5 1117.5,255.9 1117.9,256.9 1118.2,260.0 1118.5,267.4 1118.8,262.9 1119.1,256.4 1119.4,244.6 1119.7,278.1 1120.1,264.3 1120.4,262.4 1120.7,278.3 1121.0,286.9 1121.3,279.6 1121.6,279.7 1121.9,278.8 1122.3,264.6 1122.6,276.3 1122.9,282.3 1123.2,281.7 1123.5,281.7 1123.8,292.8 1124.1,295.9 1124.5,289.9 1124.8,287.1 1125.1,293.3 1125.4,295.4 1125.7,318.8 1126.0,309.5 1126.3,308.9 1126.7,325.6 1127.0,306.7 1127.3,307.4 1127.6,317.1 1127.9,319.4 1128.2,326.9 1128.5,342.0 1128.9,320.1 1129.2,314.4 1129.5,308.4 1129.8,261.0 1130.1,316.0 1130.4,316.0 1130.7,324.4 1131.1,311.1 1131.4,327.8 1131.7,324.0 1132.0,330.6 1132.3,334.7 1132.6,334.1 1132.9,325.9 1133.3,318.2 1133.6,332.2 1133.9,335.2 1134.2,342.2 1134.5,338.4 1134.8,328.5 1135.1,323.3 1135.5,332.8 1135.8,334.0 1136.1,317.6 1136.4,301.8 1136.7,291.8 1137.0,300.4 1137.3,298.2 1137.7,301.2 1138.0,305.7 1138.3,294.1 1138.6,307.3 1138.9,294.4 1139.2,284.2 1139.6,286.9 1139.9,257.5 1140.2,289.8 1140.5,293.5 1140.8,298.1 1141.1,303.1 1141.4,301.6 1141.8,288.6 1142.1,297.4 1142.4,316.4 1142.7,311.4 1143.0,305.5 1143.3,300.1 1143.6,319.0 1144.0,307.5 1144.3,315.3 1144.6,322.1 1144.9,308.7 1145.2,293.4 1145.5,287.7 1145.8,278.9 1146.2,295.1 1146.5,303.6 1146.8,287.1 1147.1,271.1 1147.4,268.0 1147.7,271.9 1148.0,280.2 1148.4,287.4 1148.7,288.7 1149.0,284.2 1149.3,277.4 1149.6,291.1 1149.9,277.3 1150.2,264.9 1150.6,277.3 1150.9,287.2 1151.2,289.1 1151.5,284.3 1151.8,279.2 1152.1,288.7 1152.4,305.9 1152.8,298.2 1153.1,289.0 1153.4,299.8 1153.7,300.3 1154.0,299.5 1154.3,288.2 1154.6,289.9 1155.0,288.6 1155.3,286.9 1155.6,300.1 1155.9,306.6 1156.2,305.6 1156.5,297.9 1156.8,292.8 1157.2,280.6 1157.5,293.3 1157.8,295.5 1158.1,300.9 1158.4,290.0 1158.7,295.7 1159.0,307.0 1159.4,318.5 1159.7,306.1 1160.0,312.3 1160.3,315.7 1160.6,310.2 1160.9,324.5 1161.2,321.8 1161.6,339.2 1161.9,324.7 1162.2,315.5 1162.5,304.1 1162.8,306.1 1163.1,285.1 1163.4,295.0 1163.8,288.6 1164.1,282.0 1164.4,280.0 1164.7,282.3 1165.0,298.3 1165.3,300.5 1165.7,294.1 1166.0,285.3 1166.3,254.2 1166.6,296.3 1166.9,304.2 1167.2,293.6 1167.5,298.2 1167.9,310.7 1168.2,297.7 1168.5,296.5 1168.8,294.6 1169.1,290.5 1169.4,294.2 1169.7,289.7 1170.1,278.5 1170.4,275.1 1170.7,287.1 1171.0,278.2 1171.3,285.4 1171.6,276.3 1171.9,278.7 1172.3,278.0 1172.6,263.8 1172.9,283.2 1173.2,291.8 1173.5,296.4 1173.8,301.2 1174.1,301.2 1174.5,300.1 1174.8,311.5 1175.1,304.9 1175.4,300.0 1175.7,293.1 1176.0,277.8 1176.3,281.1 1176.7,288.4 1177.0,285.3 1177.3,292.1 1177.6,291.6 1177.9,285.8 1178.2,296.2 1178.5,290.0 1178.9,288.0 1179.2,273.4 1179.5,270.0 1179.8,273.2 1180.1,285.9 1180.4,283.6 1180.7,285.8 1181.1,295.3 1181.4,272.5 1181.7,280.9 1182.0,293.3 1182.3,293.6 1182.6,299.2 1182.9,285.9 1183.3,300.2 1183.6,296.2 1183.9,301.8 1184.2,295.8 1184.5,299.9 1184.8,311.4 1185.1,294.2 1185.5,308.9 1185.8,337.0 1186.1,302.9 1186.4,313.0 1186.7,295.0 1187.0,309.9 1187.3,316.5 1187.7,293.4 1188.0,296.4 1188.3,301.1 1188.6,295.4 1188.9,298.8 1189.2,291.7 1189.5,292.2 1189.9,278.2 1190.2,276.3 1190.5,286.0 1190.8,286.7 1191.1,282.7 1191.4,287.2 1191.7,290.8 1192.1,295.1 1192.4,304.5 1192.7,283.3 1193.0,280.1 1193.3,277.2 1193.6,279.6 1193.9,277.7 1194.3,266.6 1194.6,285.4 1194.9,290.6 1195.2,276.6 1195.5,282.2 1195.8,270.0 1196.2,271.9 1196.5,288.9 1196.8,285.3 1197.1,288.9 1197.4,272.9 1197.7,291.7 1198.0,274.3 1198.4,271.3 1198.7,285.3 1199.0,281.8 1199.3,281.0 1199.6,283.3 1199.9,284.7 1200.2,286.2 1200.6,297.2 1200.9,285.3 1201.2,290.4 1201.5,307.6 1201.8,294.0 1202.1,292.6 1202.4,288.5 1202.8,283.6 1203.1,288.5 1203.4,278.7 1203.7,288.4 1204.0,289.8 1204.3,296.0 1204.6,299.4 1205.0,292.6 1205.3,315.4 1205.6,310.9 1205.9,293.1 1206.2,289.6 1206.5,279.3 1206.8,271.5 1207.2,268.9 1207.5,271.5 1207.8,287.0 1208.1,295.2 1208.4,293.6 1208.7,296.4 1209.0,287.6 1209.4,289.8 1209.7,279.8 1210.0,265.7 1210.3,265.7 1210.6,277.5 1210.9,270.0 1211.2,277.1 1211.6,284.0 1211.9,282.2 1212.2,288.9 1212.5,287.4 1212.8,290.4 1213.1,298.0 1213.4,303.7 1213.8,302.4 1214.1,304.8 1214.4,280.0 1214.7,308.1 1215.0,315.1 1215.3,314.4 1215.6,300.2 1216.0,301.7 1216.3,295.9 1216.6,288.5 1216.9,308.1 1217.2,315.3 1217.5,304.1 1217.8,299.8 1218.2,290.2 1218.5,292.6 1218.8,286.5 1219.1,292.2 1219.4,289.8 1219.7,293.1 1220.0,298.9 1220.4,294.7 1220.7,276.1 1221.0,288.3 1221.3,284.5 1221.6,274.2 1221.9,276.8 1222.2,284.7 1222.6,287.8 1222.9,274.3 1223.2,268.6 1223.5,263.5 1223.8,268.8 1224.1,268.5 1224.5,265.1 1224.8,270.6 1225.1,281.0 1225.4,291.3 1225.7,280.5 1226.0,270.1 1226.3,295.1 1226.7,300.2 1227.0,299.2 1227.3,295.3 1227.6,292.7 1227.9,309.1 1228.2,320.3 1228.5,320.2 1228.9,305.2 1229.2,304.1 1229.5,297.1 1229.8,298.7 1230.1,260.6 1230.4,299.4 1230.7,310.2 1231.1,303.8 1231.4,313.6 1231.7,306.2 1232.0,324.6 1232.3,307.6 1232.6,300.8 1232.9,295.5 1233.3,288.5 1233.6,302.8 1233.9,304.6 1234.2,287.1 1234.5,279.8 1234.8,283.5 1235.1,270.7 1235.5,279.2 1235.8,296.1 1236.1,278.4 1236.4,283.7 1236.7,285.8 1237.0,291.6 1237.3,287.8 1237.7,293.5 1238.0,294.5 1238.3,292.7 1238.6,293.4 1238.9,292.8 1239.2,279.9 1239.5,278.1 1239.9,282.6 1240.2,281.0 1240.5,271.3 1240.8,286.0 1241.1,289.1 1241.4,282.3 1241.7,346.2 1242.1,296.8 1242.4,307.7 1242.7,276.3 1243.0,278.7 1243.3,281.4 1243.6,290.0 1243.9,293.9 1244.3,296.8 1244.6,302.1 1244.9,301.3 1245.2,289.9 1245.5,279.8 1245.8,273.7 1246.1,275.0 1246.5,261.3 1246.8,278.7 1247.1,291.5 1247.4,301.2 1247.7,295.0 1248.0,294.2 1248.3,288.0 1248.7,298.9 1249.0,291.0 1249.3,305.6 1249.6,296.2 1249.9,299.6 1250.2,299.9 1250.5,334.6 1250.9,301.9 1251.2,312.1 1251.5,309.2 1251.8,300.9 1252.1,275.2 1252.4,283.4 1252.8,271.7 1253.1,268.2 1253.4,268.9 1253.7,268.8 1254.0,275.2 1254.3,277.0 1254.6,273.8 1255.0,284.2 1255.3,287.4 1255.6,302.1 1255.9,290.2 1256.2,289.5 1256.5,306.3 1256.8,311.5 1257.2,315.9 1257.5,309.0 1257.8,284.3 1258.1,297.7 1258.4,298.9 1258.7,290.4 1259.0,285.2 1259.4,302.0 1259.7,300.9 1260.0,296.6 1260.3,306.4 1260.6,301.4 1260.9,301.4 1261.2,302.3 1261.6,295.4 1261.9,284.0 1262.2,290.8 1262.5,289.6 1262.8,289.5 1263.1,280.3 1263.4,284.4 1263.8,281.7 1264.1,285.4 1264.4,280.7 1264.7,283.7 1265.0,280.6 1265.3,292.3 1265.6,302.7 1266.0,298.5 1266.3,305.5 1266.6,298.8 1266.9,298.8 1267.2,318.2 1267.5,311.2 1267.8,301.2 1268.2,310.5 1268.5,303.6 1268.8,299.8 1269.1,301.9 1269.4,292.9 1269.7,286.5 1270.0,281.6 1270.4,298.6 1270.7,296.6 1271.0,278.5 1271.3,293.6 1271.6,291.0 1271.9,290.6 1272.2,283.9 1272.6,283.3 1272.9,282.4 1273.2,281.1 1273.5,278.3 1273.8,284.8 1274.1,273.8 1274.4,258.4 1274.8,266.1 1275.1,271.1 1275.4,272.5 1275.7,277.8 1276.0,286.1 1276.3,289.8 1276.6,295.0 1277.0,285.3 1277.3,282.4 1277.6,296.9 1277.9,274.5 1278.2,288.0 1278.5,302.5 1278.8,295.0 1279.2,310.2 1279.5,300.9 1279.8,296.7 1280.1,298.2 1280.4,301.6 1280.7,295.3 1281.1,297.3 1281.4,291.5 1281.7,301.8 1282.0,297.1 1282.3,284.8 1282.6,281.5 1282.9,276.9 1283.3,286.7 1283.6,296.9 1283.9,305.8 1284.2,290.6 1284.5,300.8 1284.8,313.2 1285.1,310.4 1285.5,313.3 1285.8,304.1 1286.1,298.4 1286.4,297.2 1286.7,242.9 1287.0,290.1 1287.3,295.3 1287.7,290.6 1288.0,286.2 1288.3,210.0 1288.6,290.1 1288.9,295.0 1289.2,310.0 1289.5,297.1 1289.9,295.0 1290.2,293.0 1290.5,307.0 1290.8,321.5 1291.1,308.5 1291.4,301.9 1291.7,285.5 1292.1,290.7 1292.4,285.2 1292.7,282.7 1293.0,280.6 1293.3,271.7 1293.6,268.9 1293.9,275.9 1294.3,282.5 1294.6,289.4 1294.9,293.3 1295.2,286.1 1295.5,280.6 1295.8,286.9 1296.1,283.8 1296.5,290.2 1296.8,284.3 1297.1,332.6 1297.4,306.2 1297.7,314.6 1298.0,298.0" fill="none" stroke="#000" stroke-width="0.36" opacity="0.62" clip-path="url(#cp2)"/>
<line x1="868.50" y1="290.50" x2="1321.30" y2="290.50" stroke="#111" stroke-width="1.3" stroke-dasharray="20.4 12.67"/>
<polyline points="868.6,342.0 869.1,343.2 869.7,343.5 870.2,346.7 870.7,346.4 871.2,345.2 871.7,344.8 871.9,345.7 872.1,345.1 872.2,343.3 872.4,344.1 872.6,343.9 872.7,344.0 872.9,342.2 873.1,340.2 873.3,340.7 873.4,340.2 873.6,339.6 873.8,338.5 873.9,336.3 874.1,333.9 874.2,335.9 874.4,333.8 874.5,333.2 874.6,333.7 874.7,333.1 874.9,331.0 875.0,330.3 875.1,330.8 875.3,328.8 875.4,326.1 875.5,325.7 875.7,323.5 875.8,325.7 875.9,324.4 876.0,322.8 876.2,320.1 876.3,321.4 876.4,320.8 876.6,321.8 876.7,323.4 876.8,323.2 876.9,324.0 877.0,326.2 877.1,327.0 877.3,328.8 877.4,328.0 877.5,328.1 877.6,328.4 877.7,329.9 877.8,330.3 878.0,329.9 878.1,333.0 878.2,334.2 878.3,335.8 878.4,333.2 878.6,335.5 878.7,334.3 878.8,335.3 878.9,335.9 879.0,338.0 879.1,338.8 879.2,340.1 879.3,340.1 879.5,341.1 879.6,342.6 879.7,345.5 879.8,345.1 879.9,346.1 880.0,346.2 880.1,347.6 880.2,349.0 880.4,348.9 880.5,350.5 880.6,351.1 880.7,350.8 880.8,352.4 880.9,353.3 881.0,352.6 881.1,355.4 881.3,353.0 881.5,352.8 881.7,353.1 881.9,351.0 882.1,350.8 882.3,350.4 882.5,350.5 882.7,349.1 882.9,347.7 883.1,347.0 883.3,345.4 883.5,345.1 883.6,345.2 883.7,345.4 883.8,343.3 883.9,341.2 884.0,342.1 884.1,338.8 884.2,339.1 884.3,338.3 884.4,336.4 884.5,336.2 884.6,336.8 884.7,335.0 884.8,333.7 884.9,333.6 885.0,333.2 885.5,334.1 885.9,334.0 886.4,332.1 886.8,331.0 887.3,329.6 887.7,328.9 888.2,328.6 888.3,329.6 888.4,328.2 888.5,330.7 888.6,330.6 888.8,330.4 888.9,331.8 889.0,331.5 889.1,332.7 889.2,333.7 889.4,337.2 889.5,338.3 889.6,340.7 889.7,339.7 889.8,339.8 889.9,341.4 890.1,342.3 890.2,342.7 890.3,342.7 890.4,344.2 890.5,344.7 890.7,345.3 890.9,345.2 891.1,345.6 891.3,347.2 891.6,348.4 891.8,349.0 892.0,348.8 892.2,351.0 892.4,351.1 892.6,350.5 892.8,353.0 893.0,352.9 893.2,353.0 893.4,351.7 893.6,350.6 893.7,353.6 893.9,353.3 894.1,352.9 894.3,350.1 894.5,349.2 894.7,347.4 894.9,347.9 895.0,346.9 895.2,346.2 895.3,344.9 895.4,346.4 895.6,344.4 895.7,342.0 895.8,341.1 895.9,339.8 896.0,340.0 896.1,339.8 896.2,337.0 896.3,338.8 896.5,338.5 896.6,337.5 896.7,337.6 896.8,336.6 896.8,336.0 896.9,333.8 897.0,335.2 897.0,336.1 897.1,339.5 897.1,338.7 897.2,339.1 897.2,338.6 897.3,339.9 897.3,340.4 897.4,341.9 897.5,343.8 897.5,343.8 897.6,344.6 897.6,345.2 897.7,345.8 897.7,348.8 897.8,349.8 897.9,349.1 897.9,349.2 898.0,349.9 898.0,349.0 898.1,350.4 898.1,352.0 898.2,353.9 898.2,354.8 898.3,354.4 898.4,356.0 898.4,357.3 898.5,358.9 898.5,361.4 898.6,360.7 898.6,361.8 898.7,363.5 898.7,364.5 898.8,363.7 898.8,364.5 898.9,364.5 898.9,365.3 899.0,366.6 899.1,365.8 899.1,367.3 899.2,368.1 899.2,369.9 899.3,369.8 899.3,369.1 899.4,371.6 899.4,371.6 899.5,374.0 899.5,375.0 899.6,376.7 899.7,378.0 899.7,379.3 899.8,380.1 899.8,380.4 899.9,380.7 899.9,379.8 900.0,380.0 900.0,381.1 900.1,382.4 900.1,382.2 900.2,384.5 900.3,383.1 900.3,385.8 900.4,385.9 900.4,386.3 900.5,388.2 900.5,389.1 900.6,389.6 900.6,392.6 900.7,393.4 900.7,392.8 900.8,393.4 900.9,394.8 900.9,394.0 901.0,394.9 901.0,395.8 901.1,396.9 901.2,394.9 901.3,394.3 901.4,394.3 901.5,394.0 901.6,392.1 901.7,388.7 901.8,388.4 901.9,388.9 902.0,388.7 902.1,387.1 902.2,385.4 902.3,386.2 902.4,385.7 902.5,385.2 902.6,385.8 902.7,385.0 902.8,381.5 903.0,379.7 903.1,379.3 903.3,380.3 903.5,377.9 903.8,377.0 904.0,376.2 904.2,375.2 904.5,374.0 904.7,372.9 904.9,373.7 905.2,373.3 905.4,372.1 905.4,372.1 905.5,371.1 905.5,369.9 905.5,367.7 905.6,367.8 905.6,368.2 905.6,366.8 905.7,366.9 905.7,366.2 905.7,364.5 905.8,363.5 905.8,363.5 905.8,362.4 905.9,357.6 905.9,358.5 905.9,358.8 906.0,358.4 906.0,357.8 906.0,358.3 906.1,356.5 906.1,354.7 906.1,354.5 906.2,355.7 906.3,355.0 906.5,353.3 906.7,351.7 906.8,349.7 907.0,350.5 907.1,348.2 907.3,347.3 907.4,346.3 907.6,345.4 907.7,345.9 907.9,344.3 908.1,341.5 908.2,342.8 908.4,342.1 908.5,341.9 908.7,339.6 908.9,341.0 909.0,337.9 909.2,340.8 909.4,338.7 909.5,336.6 909.7,336.6 909.9,336.1 910.0,335.1 910.2,334.0 910.4,332.9 910.5,332.7 910.7,331.7 910.9,331.2 911.0,330.4 911.1,330.6 911.3,332.0 911.4,332.5 911.5,333.9 911.6,334.8 911.8,337.2 911.9,337.3 912.0,338.0 912.1,337.8 912.3,338.9 912.4,340.1 912.5,341.1 912.6,342.2 912.8,343.1 912.9,343.0 913.0,342.6 913.1,345.8 913.3,346.1 913.4,347.3 913.5,347.5 913.6,349.0 913.8,349.8 913.9,351.7 914.0,351.0 914.1,352.6 914.3,352.9 914.4,354.4 914.5,354.3 914.6,354.0 914.7,354.3 914.9,355.7 915.0,357.2 915.1,358.3 915.2,357.9 915.3,360.2 915.5,359.4 915.6,358.8 915.7,360.2 915.8,361.3 915.9,362.9 916.1,364.0 916.2,364.2 916.3,366.0 916.4,365.2 916.5,364.3 916.7,368.2 916.8,368.8 916.9,369.4 917.0,371.0 917.1,373.0 917.2,372.4 917.3,370.2 917.4,368.5 917.5,368.4 917.5,367.4 917.6,366.7 917.7,364.7 917.8,365.2 917.8,365.6 917.9,362.4 918.0,362.5 918.1,360.9 918.2,361.2 918.2,359.4 918.3,358.5 918.4,359.5 918.5,357.9 918.6,357.0 918.6,357.5 918.7,356.3 918.8,355.7 918.9,354.1 918.9,350.2 919.0,348.9 919.1,349.1 919.2,349.7 919.3,348.4 919.3,349.3 919.4,347.9 919.5,345.9 919.6,345.6 919.8,345.0 919.9,344.5 920.1,344.1 920.2,342.4 920.3,342.0 920.5,341.5 920.6,340.5 920.8,338.9 920.9,338.2 921.1,335.7 921.3,337.2 921.5,338.5 921.7,339.4 921.9,339.7 922.1,340.2 922.3,342.8 922.4,341.4 922.5,339.3 922.6,339.3 922.6,340.1 922.7,339.6 922.8,338.2 922.9,337.6 923.0,336.4 923.0,333.8 923.1,331.0 923.2,332.5 923.3,333.6 923.4,332.6 923.5,332.2 923.5,332.0 923.6,330.4 923.7,329.9 923.8,327.4 923.9,326.6 923.9,325.7 924.0,324.3 924.1,323.8 924.2,324.3 924.6,324.2 925.0,322.1 925.4,323.1 925.8,321.0 926.1,318.7 926.5,318.9 926.7,318.7 926.8,318.7 927.0,318.3 927.1,317.5 927.2,314.4 927.4,312.6 927.5,314.1 927.7,311.5 927.8,310.8 928.0,309.9 928.1,309.6 928.9,310.6 929.7,310.9 930.5,312.2 930.5,310.3 930.6,309.0 930.7,309.6 930.8,307.4 930.9,307.6 930.9,307.5 931.0,306.0 931.1,304.7 931.2,304.2 931.3,301.9 931.3,302.8 931.4,303.9 931.5,300.4 931.6,299.1 931.7,295.9 931.8,295.9 931.8,295.0 931.9,295.5 932.0,296.2 932.1,295.0 932.2,293.5 932.2,293.0 932.3,292.7 932.5,293.6 932.7,292.7 933.0,293.4 933.2,295.5 933.4,296.3 933.6,297.2 933.6,295.3 933.7,296.3 933.7,297.3 933.8,296.4 933.8,294.1 933.9,294.0 933.9,292.7 934.0,291.1 934.1,289.7 934.1,290.1 934.2,288.5 934.2,288.8 934.3,287.7 934.3,285.5 934.4,284.3 934.4,283.7 934.5,283.6 934.5,283.3 934.6,282.3 934.6,281.7 934.7,280.1 934.7,280.1 934.8,279.1 934.8,276.8 934.9,276.2 935.0,276.9 935.0,278.2 935.1,280.4 935.2,280.7 935.2,282.9 935.3,283.9 935.4,284.5 935.4,286.1 935.5,286.7 935.6,285.3 935.6,287.8 935.7,288.7 935.7,289.0 935.8,289.1 935.9,291.8 935.9,291.4 936.0,293.8 936.1,294.0 936.1,295.8 936.2,296.7 936.3,296.7 936.3,295.2 936.4,295.3 936.9,295.0 937.3,294.8 937.8,293.3 938.3,292.6 938.9,293.2 939.5,294.0 940.2,295.9 940.8,294.0 941.4,292.2 941.7,293.7 941.9,295.0 942.2,295.3 942.5,297.2 942.7,296.4 943.0,297.7 943.0,297.1 943.1,298.3 943.2,295.7 943.2,294.0 943.3,294.0 943.4,293.7 943.4,294.1 943.5,292.0 943.5,290.7 943.6,289.0 943.7,289.0 943.7,289.1 943.8,287.3 943.9,287.5 943.9,286.2 944.0,285.3 944.0,284.9 944.1,284.2 944.2,282.9 944.2,282.3 944.3,281.8 944.4,279.1 944.4,279.2 944.5,278.2 944.5,278.7 944.8,276.8 945.0,276.2 945.2,277.8 945.4,275.9 945.7,273.4 945.9,272.7 946.1,271.6 946.4,273.4 946.7,274.3 947.0,275.3 947.4,276.9 947.7,276.8 948.0,274.9 948.3,275.2 948.6,273.3 948.8,273.1 949.1,273.8 949.4,271.5 949.7,272.6 950.0,271.0 950.2,270.5 950.4,268.7 950.6,267.5 950.7,267.9 950.9,267.0 951.1,264.6 951.3,264.7 951.5,265.0 951.6,263.0 951.8,261.1 952.0,262.0 952.2,260.4 952.4,258.9 953.3,257.7 954.2,259.3 954.5,260.3 954.7,260.5 954.9,260.4 955.1,263.0 955.3,265.2 955.5,263.6 955.7,266.3 955.9,266.7 956.1,266.2 956.3,268.1 956.5,269.4 956.7,270.0 956.9,269.8 957.1,269.5 957.3,270.5 957.6,269.9 957.8,270.8 958.0,272.7 958.2,273.3 958.4,275.2 958.6,275.6 959.4,277.1 960.2,274.9 960.3,274.8 960.5,271.7 960.6,270.7 960.7,270.1 960.9,270.9 961.0,269.3 961.2,268.8 961.3,267.7 961.4,268.3 961.6,266.6 961.7,265.6 961.9,265.6 962.0,264.1 962.1,263.9 962.3,261.7 962.4,262.1 962.5,261.9 962.8,260.6 963.1,259.0 963.4,260.1 963.7,259.0 964.0,259.5 964.3,256.3 964.6,255.6 964.9,252.7 965.2,252.7 965.5,251.9 965.8,252.1 966.1,251.4 966.5,251.1 966.8,249.4 967.1,251.1 967.4,249.7 967.8,251.8 968.1,252.4 968.5,252.7 968.8,254.5 969.1,255.4 969.3,257.4 969.6,258.1 969.8,258.6 970.1,258.8 970.3,259.2 970.6,260.1 970.8,261.6 971.0,261.7 971.1,263.8 971.3,265.8 971.4,266.1 971.6,266.7 971.7,267.4 971.8,266.6 972.0,268.3 972.1,271.0 972.3,271.6 972.4,273.2 973.0,270.6 973.7,268.4 974.3,267.8 974.9,267.1 975.5,267.0 975.8,268.8 976.0,269.7 976.2,269.3 976.5,270.1 976.7,270.2 976.9,271.5 977.2,273.7 977.4,273.9 978.0,274.3 978.6,275.2 979.2,275.5 979.8,276.3 979.9,277.8 980.1,277.7 980.3,278.3 980.5,281.6 980.6,282.1 980.8,284.3 981.0,285.2 981.2,284.8 981.3,286.3 981.5,286.4 981.6,286.8 981.8,287.7 982.0,287.6 982.1,289.8 982.3,291.0 982.4,290.9 982.6,292.8 982.7,293.0 982.9,292.1 983.1,291.9 983.2,292.5 983.4,293.9 983.5,297.2 983.7,298.1 983.9,297.8 984.0,300.2 984.2,300.1 984.4,300.4 984.6,303.2 984.8,302.4 984.9,304.2 985.1,303.2 985.3,301.9 985.5,300.6 985.6,300.3 985.8,298.2 986.0,297.8 986.1,294.6 986.3,294.6 986.5,294.6 987.1,297.0 987.7,294.7 988.4,293.4 988.5,294.4 988.7,295.9 988.9,296.8 989.1,298.9 989.2,298.5 989.4,297.9 989.6,300.0 989.8,300.9 989.9,302.8 990.3,304.0 990.7,304.9 991.1,306.4 991.5,305.0 991.9,305.4 992.3,309.2 992.9,308.8 993.5,308.6 994.1,308.3 994.6,308.1 994.8,307.7 995.0,306.7 995.1,306.4 995.3,306.7 995.5,306.2 995.6,304.4 995.8,304.2 996.0,301.9 996.1,301.2 996.3,299.5 996.5,300.3 996.7,298.8 996.8,298.0 997.0,297.8 997.3,298.3 997.6,298.3 997.9,300.0 998.2,299.9 998.6,300.4 998.7,300.6 998.9,301.7 999.1,303.4 999.2,302.9 999.4,304.9 999.6,305.7 999.7,307.0 999.9,307.9 1000.1,309.8 1000.2,310.8 1000.4,312.8 1000.6,314.2 1000.7,312.5 1000.9,314.2 1001.0,313.5 1001.2,312.5 1001.3,310.3 1001.5,308.0 1001.6,310.0 1001.8,309.6 1001.9,308.6 1002.1,307.7 1002.2,306.6 1002.4,304.3 1002.5,303.8 1002.7,302.8 1002.8,302.1 1003.0,302.7 1003.1,300.7 1003.2,299.4 1003.4,299.1 1003.5,298.9 1003.6,297.3 1003.7,297.4 1003.9,297.6 1004.0,294.8 1004.1,293.6 1004.2,293.5 1004.4,292.0 1004.5,293.2 1004.6,290.9 1004.7,288.9 1004.9,288.2 1005.0,287.1 1005.1,287.4 1005.2,286.2 1005.3,284.3 1005.5,284.5 1005.6,283.0 1005.8,283.8 1005.9,282.8 1006.1,281.8 1006.3,280.6 1006.4,282.5 1006.6,280.4 1006.8,277.9 1006.9,278.4 1007.1,279.0 1007.3,275.4 1007.4,275.6 1007.6,274.4 1007.8,273.7 1007.9,273.1 1008.7,272.3 1009.5,271.8 1010.3,272.6 1011.1,272.1 1011.9,271.1 1012.6,272.8 1013.4,272.8 1014.2,273.6 1015.0,273.8 1015.8,272.2 1016.6,273.7 1017.2,273.4 1017.8,273.0 1018.4,272.1 1019.1,272.4 1019.7,271.3 1020.0,270.2 1020.3,268.2 1020.6,268.7 1020.9,268.1 1021.2,265.1 1021.4,265.6 1021.7,263.9 1022.0,263.5 1022.5,263.2 1022.9,263.1 1023.4,262.0 1023.8,262.4 1024.3,260.4 1024.7,259.6 1025.2,258.0 1025.5,260.6 1025.8,262.2 1026.2,261.6 1026.5,261.7 1026.8,261.3 1027.2,261.9 1027.5,263.4 1027.9,264.4 1028.3,265.5 1028.7,267.4 1029.1,268.3 1029.5,269.1 1029.9,269.7 1030.8,268.7 1031.7,268.6 1032.6,268.7 1033.5,269.2 1033.7,270.0 1034.0,270.3 1034.3,270.0 1034.5,270.7 1034.8,269.9 1035.1,272.4 1035.3,273.5 1035.7,274.1 1036.1,275.9 1036.5,275.5 1036.9,276.7 1037.3,278.4 1037.7,278.4 1038.1,277.0 1038.5,277.4 1038.9,275.6 1039.3,273.7 1039.6,273.5 1040.0,272.6 1040.4,271.9 1040.8,270.5 1041.2,272.4 1041.5,273.2 1041.8,275.1 1042.2,275.8 1042.5,276.8 1042.8,277.1 1043.2,279.1 1043.4,277.2 1043.6,275.8 1043.8,275.0 1044.1,275.5 1044.3,274.8 1044.5,274.8 1044.7,271.7 1044.8,271.6 1044.9,270.2 1045.0,269.5 1045.1,269.0 1045.2,267.7 1045.3,267.6 1045.4,266.1 1045.5,266.3 1045.6,263.5 1045.7,262.8 1045.8,263.0 1045.9,262.8 1046.0,261.5 1046.1,260.3 1046.1,260.9 1046.2,259.7 1046.3,256.5 1046.4,256.8 1046.5,255.5 1046.6,255.6 1046.8,256.8 1047.1,257.5 1047.3,257.5 1047.5,258.7 1047.7,259.9 1048.0,258.9 1048.2,260.1 1048.4,261.0 1048.6,261.9 1048.9,263.4 1049.2,264.6 1049.5,263.8 1049.8,264.9 1050.1,266.5 1050.4,268.3 1050.7,268.1 1051.0,269.4 1051.4,269.4 1051.8,269.3 1052.2,269.8 1052.6,271.4 1053.0,272.2 1053.3,272.9 1053.7,273.2 1054.1,272.4 1054.5,271.8 1054.9,271.9 1055.0,270.4 1055.1,269.7 1055.2,268.8 1055.3,266.5 1055.3,266.9 1055.4,264.8 1055.5,264.6 1055.6,264.0 1055.7,262.9 1055.8,263.2 1055.8,263.2 1055.9,260.6 1056.0,261.0 1056.1,260.3 1056.2,257.8 1056.3,257.1 1056.4,255.5 1056.4,254.4 1056.5,253.8 1056.6,252.9 1056.7,253.2 1056.8,251.2 1056.9,251.3 1056.9,249.3 1057.3,250.5 1057.7,250.7 1058.1,254.0 1058.5,254.0 1058.8,253.8 1059.1,255.8 1059.3,256.3 1059.6,257.9 1059.9,258.0 1060.1,258.6 1060.4,260.8 1060.7,262.7 1060.9,263.3 1061.2,263.1 1061.9,262.7 1062.5,263.5 1063.2,265.1 1063.4,264.1 1063.6,262.6 1063.7,262.1 1063.9,262.5 1064.1,259.4 1064.3,259.0 1064.4,258.4 1064.6,257.1 1064.8,257.2 1065.0,257.2 1065.2,256.6 1065.4,257.7 1065.6,258.3 1065.8,258.6 1066.0,259.2 1066.2,258.5 1066.4,261.2 1066.7,260.6 1066.9,262.6 1067.2,262.9 1067.5,263.8 1067.8,263.9 1068.1,266.4 1068.4,266.4 1068.7,267.2 1069.0,269.4 1069.2,269.0 1069.4,271.3 1069.6,272.1 1069.8,272.7 1070.0,272.7 1070.2,273.9 1070.4,274.8 1070.6,274.4 1071.0,275.3 1071.4,275.9 1071.7,278.5 1072.1,277.8 1072.5,279.0 1072.9,279.5 1073.5,279.2 1074.1,279.2 1074.7,279.4 1075.3,279.2 1075.6,280.4 1075.9,280.6 1076.1,279.9 1076.4,281.8 1076.7,281.8 1077.0,281.9 1077.3,283.8 1077.6,284.4 1078.4,285.0 1079.2,284.4 1080.0,285.1 1080.7,287.1 1081.5,287.8 1082.3,286.4 1083.1,286.7 1083.2,286.4 1083.3,286.0 1083.4,283.7 1083.5,284.0 1083.6,281.7 1083.7,280.0 1083.8,278.7 1083.9,278.8 1084.0,280.3 1084.1,279.3 1084.2,277.0 1084.3,276.9 1084.4,274.9 1084.5,275.6 1084.6,273.5 1084.7,272.2 1084.8,272.4 1084.9,272.6 1085.0,271.9 1085.0,272.6 1085.1,271.9 1085.2,269.9 1085.3,269.3 1085.4,267.8 1086.2,265.8 1087.0,266.3 1087.3,267.2 1087.5,266.4 1087.8,267.7 1088.0,271.3 1088.3,272.2 1088.6,273.5 1088.8,273.1 1089.1,272.9 1089.4,272.7 1089.7,274.2 1090.0,275.8 1090.5,274.9 1091.0,274.7 1091.5,273.1 1091.9,272.9 1092.4,273.3 1092.9,272.7 1093.4,269.3 1093.7,272.6 1094.0,273.4 1094.4,274.7 1094.7,274.5 1095.0,275.5 1095.3,275.9 1095.7,276.1 1096.1,275.5 1096.6,278.1 1097.0,279.6 1097.5,279.5 1097.9,279.5 1098.1,281.2 1098.3,277.2 1098.4,275.9 1098.6,278.1 1098.8,274.9 1099.0,274.2 1099.1,274.2 1099.3,273.6 1099.5,272.6 1099.7,272.7 1099.8,271.6 1100.0,272.1 1100.2,270.4 1101.0,269.4 1101.9,269.6 1102.7,268.0 1103.6,268.7 1103.7,268.6 1103.9,267.7 1104.0,268.4 1104.2,267.0 1104.3,265.0 1104.5,264.7 1104.6,262.8 1104.8,260.9 1104.9,260.0 1105.1,261.7 1105.2,259.3 1105.4,257.0 1105.5,256.8 1105.5,258.0 1105.6,257.2 1105.7,256.0 1105.8,254.6 1105.9,253.3 1105.9,252.2 1106.0,252.2 1106.1,250.6 1106.2,250.3 1106.3,249.0 1106.4,248.7 1106.4,249.1 1106.5,245.7 1106.6,246.6 1106.7,244.8 1106.8,244.4 1106.8,244.6 1106.9,242.5 1107.0,241.2 1107.1,240.2 1107.2,239.6 1107.2,239.9 1107.3,241.5 1107.4,239.3 1107.5,239.7 1107.6,237.1 1107.6,237.7 1107.8,235.2 1107.9,232.4 1108.0,231.9 1108.2,231.3 1108.3,231.5 1108.4,230.8 1108.6,228.9 1108.7,226.8 1108.8,226.7 1109.0,228.2 1109.1,227.4 1109.2,226.0 1109.4,223.5 1109.5,224.0 1109.6,222.6 1109.8,223.4 1109.9,222.4 1110.9,221.0 1111.9,223.2 1112.1,223.0 1112.2,220.3 1112.3,220.3 1112.4,219.1 1112.5,219.3 1112.7,217.8 1112.8,216.6 1112.9,216.4 1113.0,215.5 1113.1,217.1 1113.3,214.1 1113.4,215.4 1113.5,212.5 1113.6,210.8 1113.8,210.1 1113.8,209.9 1113.9,209.3 1114.0,210.8 1114.1,209.0 1114.2,206.6 1114.3,206.7 1114.4,206.7 1114.5,203.9 1114.6,203.5 1114.7,204.4 1114.7,202.6 1114.8,200.0 1114.9,199.5 1115.0,198.0 1115.1,198.5 1115.2,198.4 1115.3,197.3 1115.4,195.7 1115.5,195.4 1115.6,195.0 1115.7,192.8 1115.7,193.0 1115.8,193.7 1115.9,191.8 1116.0,192.6 1116.1,192.6 1116.2,192.0 1116.3,189.5 1116.4,186.7 1116.5,186.4 1116.6,185.2 1116.6,185.2 1116.7,184.3 1116.8,182.4 1116.9,182.4 1117.0,180.6 1117.1,180.5 1117.2,182.2 1117.3,179.6 1117.4,179.9 1117.5,177.4 1117.6,175.9 1117.6,175.9 1117.7,175.8 1117.8,175.4 1117.9,174.5 1118.0,172.1 1118.1,171.8 1118.2,172.2 1118.3,169.6 1118.3,169.0 1118.4,167.3 1118.5,166.7 1118.6,166.4 1118.6,165.9 1118.7,165.0 1118.8,164.6 1118.8,164.2 1118.9,164.6 1119.0,163.2 1119.0,161.6 1119.1,160.2 1119.2,157.7 1119.2,157.4 1119.3,157.4 1119.4,157.1 1119.5,155.6 1119.5,154.6 1119.6,153.9 1119.7,153.2 1119.7,151.7 1119.8,151.5 1119.9,150.5 1119.9,150.2 1120.0,149.4 1120.1,147.9 1120.6,149.5 1121.1,150.1 1121.7,149.6 1121.8,149.3 1121.9,147.0 1122.0,147.1 1122.1,148.4 1122.2,146.8 1122.3,145.7 1122.4,143.9 1122.5,143.8 1122.6,142.9 1122.7,141.7 1122.9,141.8 1123.0,141.2 1123.1,140.2 1123.2,139.0 1123.3,138.8 1123.4,135.9 1123.5,136.1 1123.6,136.7 1123.7,135.3 1123.8,133.8 1123.9,132.2 1124.2,133.9 1124.6,133.3 1124.9,131.0 1125.2,130.4 1125.5,131.1 1125.6,131.2 1125.7,131.1 1125.8,132.9 1125.9,133.0 1126.0,134.2 1126.2,135.7 1126.3,135.4 1126.4,137.6 1126.5,137.9 1126.6,138.1 1126.7,138.9 1126.8,140.0 1126.9,140.1 1127.0,140.6 1127.1,142.5 1127.2,143.5 1127.3,145.1 1127.4,144.4 1127.5,147.1 1127.6,147.1 1127.8,147.2 1127.9,146.3 1128.0,147.9 1128.1,149.1 1128.2,150.2 1128.3,152.4 1128.4,152.4 1128.5,152.4 1128.6,154.9 1128.7,155.4 1128.8,156.3 1128.9,157.0 1129.0,158.0 1129.2,158.8 1129.3,160.2 1129.4,161.4 1129.5,161.6 1129.6,160.2 1129.6,161.7 1129.7,163.8 1129.8,165.0 1129.8,166.1 1129.9,165.5 1129.9,166.8 1130.0,167.6 1130.0,167.5 1130.1,167.8 1130.2,168.6 1130.2,171.0 1130.3,170.7 1130.3,172.3 1130.4,173.4 1130.4,173.9 1130.5,174.5 1130.5,174.5 1130.6,175.4 1130.7,174.9 1130.7,175.9 1130.8,175.8 1130.8,178.1 1130.9,179.1 1130.9,179.3 1131.0,179.7 1131.1,181.0 1131.1,182.4 1131.2,183.6 1131.2,184.3 1131.3,187.0 1131.4,186.2 1131.5,186.4 1131.5,185.8 1131.6,187.6 1131.7,190.1 1131.7,191.8 1131.8,191.3 1131.9,190.2 1132.0,191.2 1132.0,192.5 1132.1,193.0 1132.2,193.9 1132.3,194.8 1132.3,195.6 1132.4,196.4 1132.5,198.4 1132.5,199.7 1132.6,200.9 1132.7,201.8 1132.8,202.8 1132.8,203.8 1132.9,204.7 1133.0,203.8 1133.0,206.0 1133.1,205.6 1133.2,207.4 1133.2,207.3 1133.3,208.2 1133.4,209.1 1133.4,211.1 1133.5,211.6 1133.5,210.3 1133.6,212.6 1133.7,212.6 1133.7,212.8 1133.8,212.7 1133.9,213.5 1133.9,213.7 1134.0,214.5 1134.1,217.4 1134.1,220.2 1134.2,220.9 1134.2,221.1 1134.3,222.6 1134.4,221.1 1134.4,223.1 1134.5,224.1 1134.6,224.1 1134.6,226.8 1134.7,225.6 1134.7,226.1 1134.8,227.0 1134.8,227.6 1134.9,227.8 1134.9,229.5 1135.0,230.2 1135.0,231.6 1135.1,232.7 1135.1,232.9 1135.2,233.6 1135.2,234.6 1135.3,236.4 1135.3,235.5 1135.4,236.3 1135.4,239.2 1135.5,238.1 1135.5,239.9 1135.6,241.7 1135.6,241.8 1135.7,241.8 1135.7,241.6 1135.8,241.5 1135.8,245.1 1135.9,246.5 1135.9,245.4 1136.0,247.6 1136.0,248.9 1136.1,250.0 1136.1,249.5 1136.2,251.4 1136.2,251.3 1136.3,253.3 1136.3,253.1 1136.4,254.1 1136.7,254.2 1137.1,254.3 1137.5,255.9 1137.9,256.1 1138.3,258.1 1138.6,258.1 1138.9,259.7 1139.1,260.6 1139.3,260.4 1139.5,260.7 1139.8,263.2 1140.0,264.2 1140.2,263.0 1140.4,263.0 1140.7,263.7 1140.9,265.1 1141.4,265.1 1142.0,267.8 1142.5,267.7 1142.9,269.8 1143.4,270.6 1143.8,271.4 1144.3,273.5 1144.6,272.0 1144.9,274.0 1145.1,275.8 1145.4,276.5 1145.7,277.2 1146.0,277.0 1146.3,277.4 1146.6,277.9 1146.8,277.6 1147.0,277.0 1147.3,276.7 1147.5,275.3 1147.8,274.8 1148.0,273.5 1148.3,272.7 1148.5,272.2 1148.8,272.0 1149.0,271.8 1149.3,268.9 1149.9,268.6 1150.5,267.4 1151.1,266.8 1151.7,267.8 1152.3,265.8 1152.9,266.1 1153.2,266.0 1153.4,268.0 1153.7,269.9 1154.0,267.1 1154.2,268.1 1154.5,272.0 1154.8,272.2 1155.1,273.0 1155.3,273.8 1155.6,274.6 1155.9,273.8 1156.2,273.1 1156.6,271.1 1156.9,270.2 1157.2,269.5 1157.5,269.7 1157.9,267.7 1158.0,270.0 1158.1,268.9 1158.2,268.9 1158.3,269.9 1158.5,272.3 1158.6,274.1 1158.7,274.7 1158.8,274.5 1158.9,275.9 1159.1,277.3 1159.2,277.9 1159.3,278.4 1159.4,279.7 1159.6,280.4 1159.7,280.0 1159.8,280.2 1159.9,283.7 1160.0,283.6 1160.1,282.4 1160.2,284.0 1160.3,284.1 1160.4,286.3 1160.5,286.9 1160.6,288.6 1160.7,289.4 1160.8,288.8 1160.9,290.8 1161.0,290.9 1161.1,292.2 1161.2,292.6 1161.3,293.7 1161.4,295.4 1161.5,296.3 1161.6,294.7 1161.7,295.8 1161.8,297.4 1161.9,299.4 1162.1,300.2 1162.3,301.2 1162.5,302.4 1162.7,301.5 1162.9,302.1 1163.1,302.5 1163.3,303.0 1163.5,303.4 1163.7,306.4 1163.9,308.0 1164.1,308.6 1164.3,310.0 1164.5,309.9 1164.6,311.8 1164.9,313.2 1165.2,310.6 1165.5,312.2 1165.8,312.6 1166.1,315.6 1166.3,317.3 1166.6,316.8 1166.9,316.1 1167.0,316.7 1167.1,317.5 1167.2,319.7 1167.4,322.7 1167.5,321.4 1167.6,322.4 1167.7,323.6 1167.8,322.0 1167.9,324.4 1168.0,326.8 1168.2,327.6 1168.3,328.0 1168.4,328.6 1168.5,329.0 1168.6,330.8 1168.7,330.8 1168.9,327.4 1169.2,327.1 1169.4,326.5 1169.6,326.5 1169.8,325.8 1170.1,325.3 1170.3,325.5 1170.5,323.6 1170.8,320.6 1171.0,320.6 1171.2,319.2 1171.4,319.8 1172.2,321.0 1172.9,318.7 1173.7,319.4 1174.0,322.1 1174.3,323.0 1174.7,323.9 1175.0,326.0 1175.3,328.1 1175.6,327.1 1176.0,327.7 1176.5,325.7 1177.1,324.4 1177.7,323.5 1178.2,322.8 1178.8,322.1 1179.4,322.6 1179.7,321.9 1180.0,320.3 1180.3,320.8 1180.6,319.0 1181.0,318.6 1181.3,318.5 1181.6,318.7 1182.0,320.6 1182.5,319.7 1182.9,318.6 1183.3,319.5 1183.7,321.4 1184.1,320.5 1184.6,322.5 1185.1,321.2 1185.6,322.8 1186.2,322.5 1186.7,321.6 1187.3,319.5 1188.2,317.8 1189.2,317.5 1190.2,318.4 1191.1,320.7 1191.5,319.6 1191.8,321.0 1192.2,321.0 1192.5,323.6 1192.9,322.9 1193.2,323.8 1193.6,324.3 1193.7,323.0 1193.9,324.5 1194.0,323.7 1194.2,321.9 1194.3,321.9 1194.4,319.5 1194.6,318.5 1194.7,316.7 1194.9,318.0 1195.0,317.2 1195.2,315.2 1195.3,314.9 1195.4,314.3 1195.6,313.2 1195.7,312.3 1195.9,311.2 1196.3,311.6 1196.8,311.2 1197.3,309.0 1197.8,308.9 1198.3,308.1 1198.7,308.2 1199.2,308.1 1199.7,304.5 1200.4,305.9 1201.1,305.0 1201.7,305.5 1202.4,307.6 1202.9,308.0 1203.4,308.6 1203.9,310.3 1204.4,309.7 1204.9,309.9 1205.4,312.9 1205.8,312.9 1206.3,310.5 1206.7,310.0 1207.2,308.3 1207.6,307.2 1208.1,306.2 1208.4,305.0 1208.7,305.1 1209.0,304.4 1209.3,303.2 1209.6,302.9 1209.9,302.5 1210.0,302.4 1210.1,301.1 1210.3,300.9 1210.4,300.1 1210.5,301.2 1210.6,299.4 1210.8,297.2 1210.9,296.4 1211.0,296.5 1211.1,295.3 1211.3,293.3 1211.4,292.7 1211.5,292.2 1211.6,291.2 1211.8,290.6 1211.9,290.3 1212.0,290.8 1212.1,290.2 1212.3,290.7 1212.4,290.3 1212.5,291.0 1212.6,292.0 1212.8,295.0 1212.9,294.9 1213.0,295.3 1213.1,294.0 1213.2,294.3 1213.4,296.7 1213.5,297.6 1213.6,299.3 1213.7,298.8 1213.8,299.4 1214.0,298.8 1214.2,300.3 1214.5,302.7 1214.8,304.6 1215.1,306.5 1215.4,306.8 1215.7,307.6 1215.9,307.6 1216.2,306.9 1216.9,309.6 1217.6,310.2 1218.3,309.1 1218.9,309.7 1219.4,311.3 1219.9,311.7 1220.4,311.5 1220.9,314.3 1221.4,315.5 1221.9,315.2 1222.0,314.6 1222.1,312.4 1222.2,312.3 1222.4,312.1 1222.5,309.2 1222.6,308.2 1222.7,308.6 1222.8,308.7 1223.0,309.1 1223.1,308.2 1223.2,304.4 1223.3,303.5 1223.4,303.2 1223.6,302.1 1223.7,302.8 1223.8,301.9 1223.9,301.1 1224.1,300.6 1224.2,300.3 1224.4,299.9 1224.5,298.5 1224.7,296.8 1224.8,295.0 1225.0,294.0 1225.1,295.5 1225.3,293.6 1225.4,293.3 1225.6,292.0 1225.7,291.3 1225.9,291.2 1226.0,289.4 1226.2,289.8 1226.3,291.2 1226.5,292.3 1226.6,292.6 1226.8,292.4 1226.9,292.9 1227.1,292.8 1227.2,293.0 1227.4,294.3 1227.5,296.0 1227.7,297.1 1227.8,297.8 1228.0,297.7 1228.1,297.8 1228.3,299.5 1228.4,301.3 1228.6,302.4 1228.7,304.3 1228.8,306.5 1229.0,305.5 1229.1,307.4 1229.2,307.9 1229.4,309.8 1229.5,309.1 1229.6,308.8 1229.8,309.5 1229.9,311.5 1230.0,310.7 1230.2,312.6 1230.3,311.7 1230.4,313.9 1230.6,314.7 1230.7,315.1 1230.9,317.2 1231.0,316.5 1231.2,317.5 1231.4,317.8 1231.6,318.9 1231.7,318.2 1231.9,319.1 1232.1,321.2 1232.3,321.7 1232.4,322.1 1232.6,323.5 1232.8,324.5 1233.0,324.2 1233.7,323.7 1234.5,323.3 1235.2,321.6 1235.5,322.6 1235.8,320.8 1236.0,319.4 1236.3,321.6 1236.6,319.9 1236.8,316.6 1237.1,316.6 1237.4,316.9 1237.6,314.7 1237.9,313.3 1238.2,314.0 1238.4,314.8 1238.7,314.9 1239.0,314.2 1239.2,311.4 1239.5,308.6 1239.8,308.1 1240.0,308.8 1240.3,308.3 1240.6,307.3 1240.8,307.9 1241.1,305.9 1241.8,305.8 1242.5,305.7 1243.1,306.2 1243.8,304.9 1244.7,304.0 1245.6,303.5 1246.5,303.1 1247.4,302.3 1248.3,301.0 1249.2,302.0 1250.0,301.7 1250.9,301.6 1251.7,301.3 1252.5,302.3 1253.2,302.8 1254.0,303.5 1254.7,303.0 1255.4,302.0 1256.0,301.6 1256.7,300.5 1257.4,299.3 1257.7,301.2 1258.0,302.1 1258.2,302.5 1258.5,302.5 1258.8,304.2 1259.1,305.1 1259.4,305.5 1259.7,306.8 1259.9,307.5 1260.1,310.2 1260.3,309.9 1260.5,310.8 1260.7,311.3 1260.9,311.5 1261.1,312.6 1261.3,312.8 1261.5,313.8 1261.7,315.1 1261.9,316.4 1262.2,315.2 1262.4,317.1 1262.7,314.9 1263.0,315.1 1263.3,314.3 1263.7,315.0 1264.0,314.4 1264.3,313.0 1264.7,312.0 1265.0,309.6 1265.3,308.7 1265.5,310.3 1265.8,311.4 1266.0,311.8 1266.2,313.4 1266.4,316.1 1266.7,314.7 1266.9,316.0 1267.1,315.6 1267.3,317.3 1267.6,317.1 1268.2,318.2 1268.9,318.6 1269.6,317.3 1270.3,318.5 1271.0,318.6 1271.4,320.4 1271.7,322.7 1272.1,323.1 1272.5,322.9 1272.9,323.7 1273.3,324.0 1273.7,325.3 1274.0,325.5 1274.3,327.5 1274.6,326.9 1274.9,329.4 1275.2,330.8 1275.5,330.7 1275.8,329.7 1276.1,328.7 1276.5,329.4 1276.8,326.5 1277.1,327.3 1277.4,325.9 1277.7,327.2 1278.4,327.2 1279.1,327.3 1279.8,328.5 1280.5,330.1 1281.1,328.9 1281.5,329.3 1281.8,329.2 1282.1,328.5 1282.4,329.4 1282.8,330.0 1283.1,333.4 1283.4,334.9 1284.5,333.8 1285.7,333.5 1286.0,334.4 1286.3,336.3 1286.6,334.8 1287.0,336.6 1287.3,338.2 1287.6,339.5 1288.0,339.6 1288.3,341.6 1288.6,341.6 1288.7,342.4 1288.9,343.7 1289.0,343.5 1289.2,345.8 1289.3,346.5 1289.5,346.1 1289.6,345.5 1289.7,346.5 1290.2,348.3 1290.6,349.0 1291.1,350.2 1291.5,352.8 1292.0,352.9 1292.9,351.7 1293.8,351.0 1294.7,351.1 1295.5,350.9 1296.3,350.8 1296.7,290.7 1321.2,290.7" fill="none" stroke="#0000ff" stroke-width="4.3" stroke-linejoin="round" stroke-linecap="round" clip-path="url(#cp2)"/>
<line x1="1299.10" y1="108.00" x2="1299.10" y2="418.50" stroke="#00ffff" stroke-width="2.9"/>
<text x="868.1" y="100.0" font-size="13.06" fill="#000" textLength="253.0" lengthAdjust="spacingAndGlyphs">File Updated:23-Sep-2025 22:48:14 UTC</text>
<text x="1314.7" y="106.8" font-size="15.24" fill="#000" textLength="128.5" lengthAdjust="spacingAndGlyphs" text-anchor="end">minute resolution</text>
<rect x="1292.2" y="103.7" width="111.2" height="39.8" fill="#fff" stroke="#00ffff" stroke-width="1"/>
<text x="1299.5" y="130.7" font-size="21.77" fill="#000" textLength="96.7" lengthAdjust="spacingAndGlyphs">time now</text>
<line x1="1300.70" y1="290.50" x2="1321.30" y2="290.50" stroke="#000" stroke-width="1.7" opacity="0.72"/>
<line x1="868.50" y1="108.00" x2="868.50" y2="419.00" stroke="#0000ff" stroke-width="1"/>
<line x1="1321.50" y1="108.00" x2="1321.50" y2="419.00" stroke="#000" stroke-width="1"/>
<line x1="868.00" y1="418.50" x2="1321.80" y2="418.50" stroke="#262626" stroke-width="1"/>
<text x="867.5" y="448.2" font-size="21.77" fill="#262626" textLength="13.3" lengthAdjust="spacingAndGlyphs" text-anchor="middle">0</text>
<line x1="925.50" y1="418.50" x2="925.50" y2="414.00" stroke="#262626" stroke-width="1"/>
<text x="924.1" y="448.2" font-size="21.77" fill="#262626" textLength="13.3" lengthAdjust="spacingAndGlyphs" text-anchor="middle">3</text>
<line x1="981.50" y1="418.50" x2="981.50" y2="414.00" stroke="#262626" stroke-width="1"/>
<text x="980.7" y="448.2" font-size="21.77" fill="#262626" textLength="13.3" lengthAdjust="spacingAndGlyphs" text-anchor="middle">6</text>
<line x1="1038.50" y1="418.50" x2="1038.50" y2="414.00" stroke="#262626" stroke-width="1"/>
<text x="1037.3" y="448.2" font-size="21.77" fill="#262626" textLength="13.3" lengthAdjust="spacingAndGlyphs" text-anchor="middle">9</text>
<line x1="1094.50" y1="418.50" x2="1094.50" y2="414.00" stroke="#262626" stroke-width="1"/>
<text x="1093.9" y="448.2" font-size="21.77" fill="#262626" textLength="26.5" lengthAdjust="spacingAndGlyphs" text-anchor="middle">12</text>
<line x1="1151.50" y1="418.50" x2="1151.50" y2="414.00" stroke="#262626" stroke-width="1"/>
<text x="1150.5" y="448.2" font-size="21.77" fill="#262626" textLength="26.5" lengthAdjust="spacingAndGlyphs" text-anchor="middle">15</text>
<line x1="1208.50" y1="418.50" x2="1208.50" y2="414.00" stroke="#262626" stroke-width="1"/>
<text x="1207.1" y="448.2" font-size="21.77" fill="#262626" textLength="26.5" lengthAdjust="spacingAndGlyphs" text-anchor="middle">18</text>
<line x1="1264.50" y1="418.50" x2="1264.50" y2="414.00" stroke="#262626" stroke-width="1"/>
<text x="1263.7" y="448.2" font-size="21.77" fill="#262626" textLength="26.5" lengthAdjust="spacingAndGlyphs" text-anchor="middle">21</text>
<text x="1320.3" y="448.2" font-size="21.77" fill="#262626" textLength="26.5" lengthAdjust="spacingAndGlyphs" text-anchor="middle">24</text>
<line x1="868.50" y1="165.50" x2="873.00" y2="165.50" stroke="#0000ff" stroke-width="1"/>
<text x="859.1" y="172.3" font-size="21.77" fill="#0000ff" textLength="26.5" lengthAdjust="spacingAndGlyphs" text-anchor="end">40</text>
<line x1="868.50" y1="227.50" x2="873.00" y2="227.50" stroke="#0000ff" stroke-width="1"/>
<text x="859.1" y="234.9" font-size="21.77" fill="#0000ff" textLength="26.5" lengthAdjust="spacingAndGlyphs" text-anchor="end">20</text>
<line x1="868.50" y1="290.50" x2="873.00" y2="290.50" stroke="#0000ff" stroke-width="1"/>
<text x="859.1" y="297.5" font-size="21.77" fill="#0000ff" textLength="13.3" lengthAdjust="spacingAndGlyphs" text-anchor="end">0</text>
<line x1="868.50" y1="353.50" x2="873.00" y2="353.50" stroke="#0000ff" stroke-width="1"/>
<text x="859.1" y="360.1" font-size="21.77" fill="#0000ff" textLength="34.0" lengthAdjust="spacingAndGlyphs" text-anchor="end">-20</text>
<line x1="868.50" y1="415.50" x2="873.00" y2="415.50" stroke="#0000ff" stroke-width="1"/>
<text x="859.1" y="422.7" font-size="21.77" fill="#0000ff" textLength="34.0" lengthAdjust="spacingAndGlyphs" text-anchor="end">-40</text>
<line x1="1321.30" y1="165.50" x2="1316.80" y2="165.50" stroke="#000" stroke-width="1"/>
<text x="1329.7" y="172.3" font-size="21.77" fill="#000" textLength="13.3" lengthAdjust="spacingAndGlyphs">4</text>
<line x1="1321.30" y1="227.50" x2="1316.80" y2="227.50" stroke="#000" stroke-width="1"/>
<text x="1329.7" y="234.9" font-size="21.77" fill="#000" textLength="13.3" lengthAdjust="spacingAndGlyphs">2</text>
<line x1="1321.30" y1="290.50" x2="1316.80" y2="290.50" stroke="#000" stroke-width="1"/>
<text x="1329.7" y="297.5" font-size="21.77" fill="#000" textLength="13.3" lengthAdjust="spacingAndGlyphs">0</text>
<line x1="1321.30" y1="353.50" x2="1316.80" y2="353.50" stroke="#000" stroke-width="1"/>
<text x="1329.7" y="360.1" font-size="21.77" fill="#000" textLength="20.8" lengthAdjust="spacingAndGlyphs">-2</text>
<line x1="1321.30" y1="415.50" x2="1316.80" y2="415.50" stroke="#000" stroke-width="1"/>
<text x="1329.7" y="422.7" font-size="21.77" fill="#000" textLength="20.8" lengthAdjust="spacingAndGlyphs">-4</text>
<text x="1094.1" y="479.0" font-size="23.95" fill="#262626" textLength="125.6" lengthAdjust="spacingAndGlyphs" text-anchor="middle">UT Time /h</text>
<text x="1102.7" y="61.7" font-size="26.12" fill="#000" textLength="106.9" lengthAdjust="spacingAndGlyphs" text-anchor="middle">Eyrewell</text>
<rect x="1464.50" y="108.00" width="112.40" height="310.50" fill="#e6e6e6"/>
<rect x="1820.92" y="108.00" width="93.58" height="310.50" fill="#e6e6e6"/>
<line x1="1464.50" y1="133.35" x2="1914.50" y2="133.35" stroke="#ffff00" stroke-width="3.1"/>
<line x1="1464.50" y1="178.13" x2="1914.50" y2="178.13" stroke="#00ff00" stroke-width="3.1"/>
<line x1="1464.50" y1="387.08" x2="1914.50" y2="387.08" stroke="#00ff00" stroke-width="3.1"/>
<clipPath id="cp3"><rect x="1464.5" y="108.0" width="450.0" height="310.5"/></clipPath>
<polyline points="1465.3,247.0 1465.6,248.2 1465.9,228.6 1466.2,201.1 1466.5,216.9 1466.9,213.7 1467.2,213.7 1467.5,242.3 1467.8,253.2 1468.1,313.0 1468.4,245.1 1468.7,227.2 1469.0,288.4 1469.4,242.1 1469.7,352.2 1470.0,341.5 1470.3,346.9 1470.6,274.8 1470.9,281.6 1471.2,299.9 1471.5,276.1 1471.9,359.4 1472.2,357.8 1472.5,332.3 1472.8,321.8 1473.1,317.2 1473.4,324.2 1473.7,318.7 1474.0,294.9 1474.3,275.2 1474.7,245.7 1475.0,190.6 1475.3,251.7 1475.6,274.3 1475.9,286.4 1476.2,286.0 1476.5,267.7 1476.8,321.8 1477.2,250.4 1477.5,278.7 1477.8,247.9 1478.1,236.1 1478.4,233.2 1478.7,248.6 1479.0,253.0 1479.3,260.3 1479.6,258.2 1480.0,271.4 1480.3,255.7 1480.6,247.3 1480.9,300.4 1481.2,278.5 1481.5,318.2 1481.8,277.1 1482.1,228.8 1482.5,246.1 1482.8,261.9 1483.1,281.3 1483.4,269.2 1483.7,270.3 1484.0,327.9 1484.3,337.6 1484.6,417.5 1485.0,332.8 1485.3,274.7 1485.6,314.4 1485.9,316.4 1486.2,315.1 1486.5,314.8 1486.8,323.0 1487.1,311.4 1487.4,257.4 1487.8,236.4 1488.1,277.4 1488.4,269.8 1488.7,265.3 1489.0,261.1 1489.3,287.3 1489.6,294.5 1489.9,293.2 1490.3,276.9 1490.6,282.8 1490.9,257.3 1491.2,264.1 1491.5,295.8 1491.8,303.9 1492.1,285.1 1492.4,328.7 1492.8,309.2 1493.1,320.3 1493.4,329.0 1493.7,328.2 1494.0,362.7 1494.3,381.6 1494.6,374.4 1494.9,363.8 1495.2,348.2 1495.6,309.3 1495.9,310.4 1496.2,298.4 1496.5,306.2 1496.8,333.3 1497.1,305.2 1497.4,323.1 1497.7,306.1 1498.1,319.1 1498.4,280.9 1498.7,280.4 1499.0,299.4 1499.3,281.4 1499.6,257.3 1499.9,272.0 1500.2,267.0 1500.5,254.9 1500.9,289.7 1501.2,254.3 1501.5,297.0 1501.8,239.9 1502.1,228.2 1502.4,255.4 1502.7,233.0 1503.0,241.9 1503.4,232.6 1503.7,238.6 1504.0,248.1 1504.3,267.2 1504.6,255.2 1504.9,294.5 1505.2,291.1 1505.5,274.0 1505.9,277.1 1506.2,304.4 1506.5,306.5 1506.8,297.9 1507.1,281.4 1507.4,282.8 1507.7,264.4 1508.0,255.9 1508.3,266.8 1508.7,296.0 1509.0,304.8 1509.3,297.9 1509.6,290.7 1509.9,305.4 1510.2,289.2 1510.5,295.7 1510.8,299.9 1511.2,299.3 1511.5,289.1 1511.8,275.7 1512.1,263.5 1512.4,276.6 1512.7,273.8 1513.0,263.2 1513.3,254.4 1513.7,269.8 1514.0,253.0 1514.3,221.6 1514.6,226.0 1514.9,232.0 1515.2,268.7 1515.5,255.9 1515.8,250.1 1516.1,247.5 1516.5,265.8 1516.8,327.7 1517.1,276.0 1517.4,264.6 1517.7,281.6 1518.0,272.4 1518.3,280.7 1518.6,271.0 1519.0,242.4 1519.3,241.5 1519.6,233.8 1519.9,240.8 1520.2,228.1 1520.5,222.3 1520.8,208.8 1521.1,202.2 1521.5,230.6 1521.8,225.3 1522.1,270.9 1522.4,242.6 1522.7,245.1 1523.0,278.7 1523.3,280.1 1523.6,303.4 1523.9,293.0 1524.3,286.9 1524.6,299.5 1524.9,303.3 1525.2,257.9 1525.5,251.7 1525.8,246.0 1526.1,272.1 1526.4,272.8 1526.8,286.0 1527.1,278.8 1527.4,327.8 1527.7,306.5 1528.0,260.9 1528.3,258.2 1528.6,259.5 1528.9,266.6 1529.2,290.6 1529.6,301.6 1529.9,343.1 1530.2,372.3 1530.5,298.4 1530.8,307.2 1531.1,322.5 1531.4,288.2 1531.7,313.6 1532.1,283.3 1532.4,310.6 1532.7,323.5 1533.0,311.2 1533.3,337.6 1533.6,302.6 1533.9,279.5 1534.2,301.0 1534.6,287.8 1534.9,298.0 1535.2,292.8 1535.5,297.8 1535.8,299.5 1536.1,323.5 1536.4,323.9 1536.7,331.8 1537.0,295.1 1537.4,262.5 1537.7,269.4 1538.0,281.5 1538.3,249.0 1538.6,220.1 1538.9,245.0 1539.2,270.7 1539.5,270.8 1539.9,268.6 1540.2,332.9 1540.5,256.9 1540.8,262.6 1541.1,244.6 1541.4,276.5 1541.7,277.2 1542.0,286.9 1542.4,272.8 1542.7,287.5 1543.0,298.3 1543.3,295.5 1543.6,258.0 1543.9,266.7 1544.2,260.1 1544.5,260.9 1544.8,266.1 1545.2,268.2 1545.5,261.9 1545.8,263.7 1546.1,255.6 1546.4,208.5 1546.7,212.2 1547.0,250.5 1547.3,252.6 1547.7,293.5 1548.0,263.0 1548.3,298.7 1548.6,304.2 1548.9,278.0 1549.2,287.4 1549.5,268.4 1549.8,276.0 1550.1,257.1 1550.5,275.4 1550.8,248.7 1551.1,299.5 1551.4,280.3 1551.7,259.9 1552.0,307.6 1552.3,283.7 1552.6,277.3 1553.0,292.7 1553.3,302.1 1553.6,286.8 1553.9,311.8 1554.2,241.4 1554.5,265.6 1554.8,254.4 1555.1,255.6 1555.5,276.9 1555.8,290.7 1556.1,310.9 1556.4,334.9 1556.7,306.4 1557.0,330.4 1557.3,265.3 1557.6,244.1 1557.9,230.6 1558.3,286.7 1558.6,289.7 1558.9,289.5 1559.2,237.8 1559.5,223.5 1559.8,221.6 1560.1,257.6 1560.4,258.4 1560.8,235.7 1561.1,232.6 1561.4,247.8 1561.7,278.0 1562.0,280.5 1562.3,306.3 1562.6,258.1 1562.9,278.0 1563.3,285.6 1563.6,262.9 1563.9,282.0 1564.2,310.8 1564.5,285.3 1564.8,306.5 1565.1,294.8 1565.4,308.2 1565.7,313.1 1566.1,288.1 1566.4,295.6 1566.7,283.7 1567.0,311.7 1567.3,295.6 1567.6,332.4 1567.9,288.5 1568.2,294.0 1568.6,315.9 1568.9,284.3 1569.2,289.2 1569.5,297.0 1569.8,286.5 1570.1,267.2 1570.4,235.7 1570.7,313.2 1571.0,316.5 1571.4,318.8 1571.7,278.2 1572.0,295.2 1572.3,291.5 1572.6,298.0 1572.9,313.9 1573.2,326.4 1573.5,272.5 1573.9,279.9 1574.2,242.7 1574.5,290.5 1574.8,284.6 1575.1,290.7 1575.4,276.8 1575.7,282.4 1576.0,292.7 1576.4,295.2 1576.7,299.8 1577.0,284.8 1577.3,342.4 1577.6,298.8 1577.9,294.3 1578.2,300.7 1578.5,289.7 1578.8,309.2 1579.2,308.8 1579.5,300.6 1579.8,306.4 1580.1,282.5 1580.4,293.5 1580.7,294.4 1581.0,293.2 1581.3,281.7 1581.7,274.1 1582.0,266.9 1582.3,266.2 1582.6,280.8 1582.9,287.5 1583.2,277.3 1583.5,279.6 1583.8,280.6 1584.2,282.4 1584.5,271.5 1584.8,278.5 1585.1,282.3 1585.4,332.3 1585.7,303.2 1586.0,294.8 1586.3,298.9 1586.6,292.9 1587.0,288.3 1587.3,280.6 1587.6,293.0 1587.9,295.7 1588.2,301.2 1588.5,294.3 1588.8,298.2 1589.1,278.4 1589.5,266.8 1589.8,255.6 1590.1,270.5 1590.4,280.4 1590.7,266.1 1591.0,269.1 1591.3,265.3 1591.6,256.9 1591.9,272.9 1592.3,265.0 1592.6,274.1 1592.9,284.1 1593.2,296.1 1593.5,345.4 1593.8,297.3 1594.1,302.6 1594.4,300.4 1594.8,301.7 1595.1,280.2 1595.4,287.2 1595.7,283.1 1596.0,290.0 1596.3,281.7 1596.6,278.2 1596.9,277.7 1597.3,275.7 1597.6,298.7 1597.9,295.9 1598.2,272.7 1598.5,268.1 1598.8,257.8 1599.1,248.2 1599.4,256.4 1599.7,255.2 1600.1,258.3 1600.4,250.8 1600.7,248.8 1601.0,251.3 1601.3,256.6 1601.6,256.1 1601.9,263.1 1602.2,258.7 1602.6,251.6 1602.9,259.8 1603.2,279.5 1603.5,276.5 1603.8,290.4 1604.1,305.0 1604.4,296.4 1604.7,296.5 1605.1,286.5 1605.4,291.6 1605.7,278.8 1606.0,270.9 1606.3,280.7 1606.6,282.7 1606.9,297.3 1607.2,285.9 1607.5,292.2 1607.9,287.9 1608.2,363.5 1608.5,291.9 1608.8,278.6 1609.1,294.0 1609.4,300.1 1609.7,283.1 1610.0,281.5 1610.4,278.5 1610.7,275.3 1611.0,283.9 1611.3,287.4 1611.6,295.7 1611.9,292.1 1612.2,281.4 1612.5,277.7 1612.8,265.4 1613.2,270.8 1613.5,273.3 1613.8,270.1 1614.1,258.8 1614.4,269.5 1614.7,281.1 1615.0,281.3 1615.3,277.7 1615.7,275.1 1616.0,272.2 1616.3,328.8 1616.6,290.3 1616.9,280.7 1617.2,267.6 1617.5,250.4 1617.8,261.8 1618.2,250.1 1618.5,247.2 1618.8,256.6 1619.1,211.0 1619.4,266.6 1619.7,251.6 1620.0,261.9 1620.3,275.6 1620.6,274.7 1621.0,284.5 1621.3,273.5 1621.6,278.4 1621.9,309.0 1622.2,341.2 1622.5,306.0 1622.8,297.7 1623.1,304.7 1623.5,304.0 1623.8,302.3 1624.1,296.9 1624.4,289.5 1624.7,276.4 1625.0,265.2 1625.3,269.4 1625.6,285.2 1626.0,289.4 1626.3,280.4 1626.6,305.6 1626.9,300.0 1627.2,299.0 1627.5,280.8 1627.8,291.3 1628.1,302.0 1628.4,294.1 1628.8,283.9 1629.1,288.0 1629.4,277.8 1629.7,301.6 1630.0,289.1 1630.3,293.5 1630.6,286.2 1630.9,280.6 1631.3,289.7 1631.6,294.8 1631.9,303.0 1632.2,298.2 1632.5,299.3 1632.8,290.6 1633.1,303.3 1633.4,296.6 1633.8,280.2 1634.1,280.6 1634.4,299.0 1634.7,273.2 1635.0,257.3 1635.3,206.6 1635.6,251.6 1635.9,264.6 1636.2,263.2 1636.6,261.8 1636.9,275.0 1637.2,265.1 1637.5,263.0 1637.8,273.4 1638.1,286.6 1638.4,275.2 1638.7,269.6 1639.1,264.1 1639.4,252.1 1639.7,261.7 1640.0,265.0 1640.3,289.0 1640.6,283.5 1640.9,289.6 1641.2,267.3 1641.5,262.3 1641.9,265.0 1642.2,276.6 1642.5,275.9 1642.8,276.2 1643.1,288.9 1643.4,290.1 1643.7,289.5 1644.0,289.5 1644.4,303.6 1644.7,299.7 1645.0,300.9 1645.3,331.5 1645.6,288.5 1645.9,288.0 1646.2,294.5 1646.5,301.7 1646.9,303.5 1647.2,288.8 1647.5,291.1 1647.8,293.3 1648.1,278.8 1648.4,279.1 1648.7,268.7 1649.0,270.1 1649.3,270.8 1649.7,266.5 1650.0,258.8 1650.3,257.4 1650.6,261.4 1650.9,264.8 1651.2,267.5 1651.5,270.8 1651.8,268.7 1652.2,268.9 1652.5,282.4 1652.8,287.6 1653.1,282.6 1653.4,293.1 1653.7,353.9 1654.0,317.6 1654.3,302.5 1654.7,322.4 1655.0,305.8 1655.3,332.4 1655.6,291.1 1655.9,289.3 1656.2,275.8 1656.5,302.6 1656.8,299.0 1657.1,286.7 1657.5,267.5 1657.8,269.7 1658.1,286.0 1658.4,275.3 1658.7,270.0 1659.0,280.6 1659.3,266.4 1659.6,266.3 1660.0,266.3 1660.3,266.3 1660.6,266.7 1660.9,267.8 1661.2,265.0 1661.5,254.0 1661.8,276.2 1662.1,285.3 1662.4,287.9 1662.8,285.3 1663.1,289.9 1663.4,294.6 1663.7,291.2 1664.0,285.5 1664.3,287.3 1664.6,306.7 1664.9,299.2 1665.3,295.5 1665.6,297.2 1665.9,286.0 1666.2,286.8 1666.5,293.0 1666.8,291.6 1667.1,293.4 1667.4,296.0 1667.8,288.6 1668.1,299.0 1668.4,291.8 1668.7,280.4 1669.0,279.7 1669.3,288.2 1669.6,287.1 1669.9,291.3 1670.2,282.2 1670.6,263.9 1670.9,262.3 1671.2,267.3 1671.5,247.3 1671.8,268.8 1672.1,269.1 1672.4,279.2 1672.7,287.4 1673.1,307.7 1673.4,295.8 1673.7,294.2 1674.0,287.7 1674.3,300.2 1674.6,282.3 1674.9,278.1 1675.2,295.7 1675.6,313.3 1675.9,288.7 1676.2,272.5 1676.5,262.1 1676.8,260.1 1677.1,253.0 1677.4,249.8 1677.7,257.4 1678.0,272.2 1678.4,272.6 1678.7,289.5 1679.0,305.2 1679.3,291.3 1679.6,288.3 1679.9,283.5 1680.2,287.8 1680.5,278.6 1680.9,274.9 1681.2,284.3 1681.5,292.9 1681.8,294.3 1682.1,296.8 1682.4,291.9 1682.7,298.2 1683.0,308.4 1683.3,300.5 1683.7,298.1 1684.0,293.0 1684.3,279.5 1684.6,270.3 1684.9,277.3 1685.2,274.1 1685.5,292.3 1685.8,290.1 1686.2,291.3 1686.5,293.0 1686.8,283.2 1687.1,276.8 1687.4,287.3 1687.7,289.5 1688.0,287.3 1688.3,268.2 1688.7,265.8 1689.0,264.7 1689.3,278.6 1689.6,282.7 1689.9,295.2 1690.2,297.1 1690.5,298.2 1690.8,288.7 1691.1,290.6 1691.5,291.1 1691.8,280.5 1692.1,276.2 1692.4,251.2 1692.7,252.4 1693.0,273.5 1693.3,267.3 1693.6,273.9 1694.0,269.6 1694.3,257.8 1694.6,263.1 1694.9,262.8 1695.2,274.5 1695.5,270.4 1695.8,281.1 1696.1,273.3 1696.5,284.3 1696.8,279.4 1697.1,274.7 1697.4,269.4 1697.7,276.1 1698.0,293.2 1698.3,275.1 1698.6,267.9 1698.9,262.4 1699.3,261.2 1699.6,265.6 1699.9,269.1 1700.2,266.6 1700.5,259.0 1700.8,256.4 1701.1,254.3 1701.4,237.9 1701.8,233.6 1702.1,224.8 1702.4,237.5 1702.7,248.3 1703.0,256.7 1703.3,264.8 1703.6,274.8 1703.9,260.7 1704.2,265.5 1704.6,275.7 1704.9,292.3 1705.2,298.7 1705.5,293.3 1705.8,296.3 1706.1,292.1 1706.4,299.5 1706.7,299.2 1707.1,282.2 1707.4,277.8 1707.7,281.5 1708.0,274.7 1708.3,252.2 1708.6,255.9 1708.9,258.1 1709.2,261.3 1709.6,244.3 1709.9,245.1 1710.2,261.7 1710.5,257.9 1710.8,262.5 1711.1,254.6 1711.4,254.7 1711.7,237.1 1712.0,229.6 1712.4,230.8 1712.7,232.8 1713.0,200.9 1713.3,223.9 1713.6,226.2 1713.9,222.8 1714.2,201.0 1714.5,257.0 1714.9,262.0 1715.2,252.0 1715.5,270.2 1715.8,273.3 1716.1,261.0 1716.4,256.4 1716.7,254.9 1717.0,256.8 1717.4,255.0 1717.7,256.1 1718.0,265.4 1718.3,269.7 1718.6,268.8 1718.9,295.7 1719.2,277.6 1719.5,286.3 1719.8,304.5 1720.2,277.9 1720.5,292.8 1720.8,301.5 1721.1,289.6 1721.4,306.1 1721.7,291.6 1722.0,292.0 1722.3,296.4 1722.7,296.2 1723.0,292.1 1723.3,296.4 1723.6,292.5 1723.9,302.8 1724.2,306.1 1724.5,310.7 1724.8,320.4 1725.1,294.1 1725.5,298.2 1725.8,301.2 1726.1,305.2 1726.4,317.2 1726.7,327.6 1727.0,328.5 1727.3,341.5 1727.6,338.1 1728.0,319.8 1728.3,311.9 1728.6,319.0 1728.9,324.1 1729.2,320.7 1729.5,324.5 1729.8,335.5 1730.1,311.0 1730.5,305.5 1730.8,311.6 1731.1,305.6 1731.4,313.9 1731.7,307.6 1732.0,302.6 1732.3,291.1 1732.6,273.2 1732.9,283.8 1733.3,251.7 1733.6,286.9 1733.9,280.8 1734.2,282.8 1734.5,268.1 1734.8,269.6 1735.1,293.1 1735.4,287.9 1735.8,294.4 1736.1,295.7 1736.4,288.3 1736.7,300.4 1737.0,283.4 1737.3,285.9 1737.6,297.4 1737.9,292.9 1738.3,290.3 1738.6,291.1 1738.9,284.5 1739.2,284.4 1739.5,289.9 1739.8,300.7 1740.1,285.9 1740.4,275.4 1740.7,276.7 1741.1,307.8 1741.4,298.8 1741.7,294.6 1742.0,302.4 1742.3,295.5 1742.6,295.9 1742.9,287.8 1743.2,282.2 1743.6,290.3 1743.9,272.1 1744.2,264.3 1744.5,269.3 1744.8,292.2 1745.1,275.6 1745.4,293.3 1745.7,273.9 1746.0,278.2 1746.4,279.4 1746.7,264.5 1747.0,275.9 1747.3,288.3 1747.6,284.4 1747.9,283.3 1748.2,291.1 1748.5,290.2 1748.9,295.7 1749.2,288.7 1749.5,281.3 1749.8,285.0 1750.1,280.1 1750.4,274.5 1750.7,262.0 1751.0,266.5 1751.4,265.8 1751.7,263.1 1752.0,265.5 1752.3,277.2 1752.6,275.6 1752.9,285.6 1753.2,305.5 1753.5,289.0 1753.8,296.8 1754.2,303.4 1754.5,301.9 1754.8,295.4 1755.1,301.4 1755.4,293.5 1755.7,305.2 1756.0,309.5 1756.3,310.9 1756.7,299.6 1757.0,298.9 1757.3,288.4 1757.6,290.5 1757.9,317.1 1758.2,298.6 1758.5,288.9 1758.8,284.8 1759.2,256.9 1759.5,287.7 1759.8,288.4 1760.1,288.9 1760.4,289.3 1760.7,301.3 1761.0,288.6 1761.3,304.1 1761.6,292.4 1762.0,300.5 1762.3,304.5 1762.6,281.4 1762.9,280.3 1763.2,295.0 1763.5,295.3 1763.8,297.1 1764.1,296.8 1764.5,295.0 1764.8,293.6 1765.1,278.2 1765.4,265.2 1765.7,281.8 1766.0,273.5 1766.3,284.7 1766.6,291.1 1767.0,297.1 1767.3,281.2 1767.6,271.6 1767.9,271.7 1768.2,267.6 1768.5,261.8 1768.8,267.6 1769.1,278.7 1769.4,278.8 1769.8,288.1 1770.1,288.4 1770.4,288.9 1770.7,282.6 1771.0,299.6 1771.3,299.8 1771.6,289.8 1771.9,273.5 1772.3,278.3 1772.6,284.7 1772.9,297.4 1773.2,286.1 1773.5,268.3 1773.8,270.3 1774.1,279.1 1774.4,279.6 1774.7,288.8 1775.1,284.7 1775.4,281.1 1775.7,268.8 1776.0,273.9 1776.3,276.5 1776.6,277.1 1776.9,271.8 1777.2,269.0 1777.6,262.6 1777.9,285.2 1778.2,280.7 1778.5,284.8 1778.8,292.0 1779.1,299.4 1779.4,282.8 1779.7,279.0 1780.1,270.2 1780.4,283.9 1780.7,286.5 1781.0,279.0 1781.3,283.6 1781.6,299.8 1781.9,284.6 1782.2,286.2 1782.5,289.0 1782.9,283.5 1783.2,287.4 1783.5,305.5 1783.8,307.5 1784.1,302.0 1784.4,295.0 1784.7,298.8 1785.0,283.6 1785.4,285.6 1785.7,278.5 1786.0,279.4 1786.3,293.7 1786.6,300.2 1786.9,291.3 1787.2,279.1 1787.5,265.1 1787.9,255.3 1788.2,281.5 1788.5,275.9 1788.8,267.9 1789.1,272.9 1789.4,267.5 1789.7,273.9 1790.0,283.2 1790.3,270.1 1790.7,262.6 1791.0,268.4 1791.3,281.5 1791.6,282.8 1791.9,293.0 1792.2,300.2 1792.5,293.1 1792.8,287.9 1793.2,283.9 1793.5,279.3 1793.8,269.4 1794.1,280.4 1794.4,279.4 1794.7,305.8 1795.0,307.4 1795.3,285.9 1795.6,292.3 1796.0,296.5 1796.3,287.5 1796.6,290.4 1796.9,283.3 1797.2,290.3 1797.5,278.4 1797.8,275.9 1798.1,278.6 1798.5,269.8 1798.8,288.7 1799.1,282.0 1799.4,276.5 1799.7,285.8 1800.0,283.4 1800.3,246.3 1800.6,263.8 1801.0,277.1 1801.3,282.2 1801.6,291.7 1801.9,299.8 1802.2,297.9 1802.5,302.4 1802.8,277.8 1803.1,284.5 1803.4,263.9 1803.8,277.4 1804.1,271.9 1804.4,261.2 1804.7,264.2 1805.0,270.4 1805.3,289.0 1805.6,322.9 1805.9,282.2 1806.3,283.0 1806.6,284.3 1806.9,287.2 1807.2,268.8 1807.5,269.5 1807.8,266.8 1808.1,243.2 1808.4,278.8 1808.8,289.8 1809.1,286.8 1809.4,295.0 1809.7,302.5 1810.0,293.1 1810.3,299.6 1810.6,296.8 1810.9,292.9 1811.2,280.3 1811.6,293.8 1811.9,288.1 1812.2,296.6 1812.5,291.0 1812.8,289.4 1813.1,279.0 1813.4,281.1 1813.7,276.9 1814.1,280.9 1814.4,280.3 1814.7,287.1 1815.0,289.7 1815.3,283.8 1815.6,287.5 1815.9,282.7 1816.2,271.7 1816.5,258.3 1816.9,257.4 1817.2,268.7 1817.5,285.3 1817.8,270.0 1818.1,277.0 1818.4,279.5 1818.7,282.0 1819.0,289.2 1819.4,290.6 1819.7,296.8 1820.0,301.9 1820.3,284.4 1820.6,281.6 1820.9,293.1 1821.2,296.7 1821.5,287.4 1821.9,310.7 1822.2,310.1 1822.5,314.9 1822.8,304.0 1823.1,296.8 1823.4,293.6 1823.7,285.1 1824.0,290.5 1824.3,290.8 1824.7,299.9 1825.0,306.6 1825.3,310.0 1825.6,304.1 1825.9,305.9 1826.2,293.3 1826.5,298.5 1826.8,288.6 1827.2,276.7 1827.5,250.3 1827.8,290.8 1828.1,291.6 1828.4,290.2 1828.7,301.6 1829.0,286.2 1829.3,271.5 1829.7,274.4 1830.0,271.0 1830.3,272.8 1830.6,264.4 1830.9,277.2 1831.2,300.0 1831.5,337.8 1831.8,287.9 1832.1,289.7 1832.5,288.1 1832.8,299.6 1833.1,307.1 1833.4,360.1 1833.7,288.4 1834.0,276.4 1834.3,277.0 1834.6,261.8 1835.0,268.7 1835.3,232.0 1835.6,265.6 1835.9,271.6 1836.2,264.5 1836.5,273.6 1836.8,270.9 1837.1,270.8 1837.4,287.1 1837.8,288.5 1838.1,281.9 1838.4,288.7 1838.7,278.3 1839.0,266.0 1839.3,263.4 1839.6,257.9 1839.9,285.4 1840.3,293.8 1840.6,280.8 1840.9,289.4 1841.2,291.6 1841.5,279.8 1841.8,285.8 1842.1,278.6 1842.4,296.5 1842.8,274.5 1843.1,270.3 1843.4,273.4 1843.7,279.1 1844.0,293.7 1844.3,282.0 1844.6,277.6 1844.9,293.8 1845.2,290.5 1845.6,274.4 1845.9,283.8 1846.2,269.3 1846.5,256.1 1846.8,331.3 1847.1,295.7 1847.4,287.6 1847.7,296.4 1848.1,285.9 1848.4,300.0 1848.7,317.5 1849.0,295.5 1849.3,290.8 1849.6,297.3 1849.9,298.8 1850.2,310.8 1850.6,304.0 1850.9,295.1 1851.2,302.0 1851.5,302.7 1851.8,315.5 1852.1,308.9 1852.4,307.9 1852.7,307.7 1853.0,298.9 1853.4,302.5 1853.7,314.1 1854.0,306.8 1854.3,297.6 1854.6,298.0 1854.9,295.5 1855.2,293.2 1855.5,280.0 1855.9,289.6 1856.2,286.9 1856.5,271.6 1856.8,277.1 1857.1,276.9 1857.4,276.5 1857.7,279.1 1858.0,275.3 1858.3,269.1 1858.7,273.4 1859.0,285.0 1859.3,284.7 1859.6,284.9 1859.9,279.0 1860.2,281.9 1860.5,293.4 1860.8,288.7 1861.2,282.3 1861.5,285.4 1861.8,300.1 1862.1,283.7 1862.4,294.0 1862.7,298.4 1863.0,305.3 1863.3,291.7 1863.7,281.4 1864.0,288.4 1864.3,288.6 1864.6,289.0 1864.9,282.6 1865.2,281.9 1865.5,294.7 1865.8,288.6 1866.1,278.9 1866.5,279.9 1866.8,287.8 1867.1,280.8 1867.4,298.2 1867.7,294.1 1868.0,293.8 1868.3,285.3 1868.6,291.3 1869.0,282.2 1869.3,283.6 1869.6,293.7 1869.9,291.1 1870.2,284.6 1870.5,290.6 1870.8,276.6 1871.1,281.5 1871.5,277.3 1871.8,296.9 1872.1,285.9 1872.4,287.1 1872.7,283.2 1873.0,281.5 1873.3,279.8 1873.6,288.8 1873.9,287.5 1874.3,275.4 1874.6,281.3 1874.9,269.5 1875.2,277.8 1875.5,288.7 1875.8,285.5 1876.1,264.7 1876.4,279.1 1876.8,276.1 1877.1,278.7 1877.4,289.0 1877.7,302.0 1878.0,298.9 1878.3,284.4 1878.6,285.9 1878.9,272.7 1879.3,285.5 1879.6,283.7 1879.9,287.6 1880.2,277.7 1880.5,265.8 1880.8,278.6 1881.1,283.9 1881.4,289.5 1881.7,292.8 1882.1,295.7 1882.4,304.6 1882.7,289.4 1883.0,302.0 1883.3,310.1 1883.6,294.4 1883.9,300.0 1884.2,288.7 1884.6,279.0 1884.9,275.6 1885.2,277.9 1885.5,284.0 1885.8,294.8 1886.1,288.4 1886.4,292.1 1886.7,291.4 1887.0,296.2 1887.4,261.3 1887.7,288.0 1888.0,286.5 1888.3,281.6 1888.6,285.4 1888.9,294.5 1889.2,294.0 1889.5,285.3 1889.9,278.6 1890.2,260.9 1890.5,268.4 1890.8,251.1 1891.1,277.5 1891.4,276.0" fill="none" stroke="#000" stroke-width="0.36" opacity="0.62" clip-path="url(#cp3)"/>
<line x1="1464.50" y1="282.60" x2="1914.50" y2="282.60" stroke="#111" stroke-width="1.3" stroke-dasharray="20.4 12.67"/>
<polyline points="1465.2,327.3 1465.6,328.7 1466.0,329.9 1466.3,328.9 1466.7,329.9 1467.1,332.5 1467.4,332.0 1467.8,332.2 1468.2,335.2 1468.5,333.6 1468.8,333.9 1469.1,331.7 1469.4,331.1 1469.7,331.3 1470.0,331.4 1470.3,329.9 1470.6,329.2 1470.7,328.6 1470.8,327.3 1470.9,326.3 1471.0,325.4 1471.1,323.5 1471.2,321.9 1471.3,320.1 1471.4,320.2 1471.5,321.3 1471.6,320.6 1471.7,319.9 1471.8,318.6 1471.9,317.3 1472.0,317.3 1472.1,316.1 1472.2,317.0 1472.3,313.5 1472.4,313.9 1472.5,313.2 1472.7,313.0 1472.9,314.0 1473.1,314.8 1473.2,316.6 1473.4,316.2 1473.6,317.3 1473.7,317.1 1473.9,317.7 1474.1,318.8 1474.3,319.9 1474.4,321.8 1474.6,321.8 1474.8,322.2 1474.9,323.6 1475.1,324.2 1475.3,326.3 1475.5,324.6 1475.6,327.1 1475.7,326.9 1475.8,328.3 1476.0,330.1 1476.1,329.0 1476.2,332.2 1476.3,332.0 1476.4,331.1 1476.6,331.9 1476.7,333.7 1476.8,335.2 1476.9,337.4 1477.0,337.5 1477.2,338.1 1477.3,338.1 1477.4,339.1 1477.5,339.3 1477.7,340.8 1477.8,341.2 1477.9,342.1 1478.0,342.3 1478.1,339.6 1478.3,339.8 1478.4,337.3 1478.5,337.4 1478.6,338.3 1478.8,337.7 1478.9,336.7 1479.0,335.6 1479.1,332.9 1479.2,333.7 1479.4,332.0 1479.5,330.1 1479.6,331.1 1479.7,332.2 1479.8,331.3 1480.0,328.8 1480.1,328.2 1480.2,326.0 1480.3,326.0 1480.7,324.4 1481.1,323.4 1481.5,322.9 1481.9,322.0 1482.3,320.8 1482.4,321.1 1482.6,318.1 1482.7,319.6 1482.9,317.9 1483.0,317.5 1483.2,316.5 1483.3,316.6 1483.5,315.7 1483.6,314.0 1483.8,313.2 1483.9,312.2 1484.1,312.4 1484.2,310.9 1484.3,311.5 1484.4,312.7 1484.5,313.6 1484.6,315.1 1484.6,315.1 1484.7,316.1 1484.8,316.3 1484.9,316.7 1485.0,317.1 1485.0,318.0 1485.1,320.6 1485.2,320.6 1485.3,321.3 1485.4,321.9 1485.4,323.2 1485.5,324.6 1485.6,325.1 1485.7,327.2 1485.8,327.7 1485.9,327.3 1485.9,328.4 1486.1,330.1 1486.2,332.0 1486.3,330.7 1486.4,331.5 1486.5,330.4 1486.6,333.3 1486.8,334.8 1486.9,335.7 1487.0,335.7 1487.1,337.3 1487.2,337.2 1487.3,336.2 1487.5,337.7 1487.6,338.6 1487.7,340.6 1487.8,342.4 1487.9,342.1 1488.0,341.9 1488.2,342.0 1488.3,344.4 1488.4,344.7 1488.5,346.0 1488.6,347.2 1488.8,348.8 1488.9,348.9 1489.0,350.3 1489.1,351.0 1489.3,349.3 1489.5,349.9 1489.7,348.5 1489.9,347.0 1490.0,345.4 1490.2,344.3 1490.4,344.5 1490.6,343.2 1490.8,343.2 1491.0,343.4 1491.2,341.9 1491.4,340.1 1491.6,338.9 1491.8,338.7 1491.9,337.5 1492.1,337.3 1492.3,336.8 1492.5,334.3 1492.6,335.7 1492.6,336.3 1492.7,337.7 1492.7,339.3 1492.8,339.1 1492.8,338.4 1492.9,340.2 1492.9,340.9 1493.0,342.2 1493.0,343.0 1493.1,344.3 1493.1,345.2 1493.2,345.5 1493.2,347.0 1493.3,348.1 1493.4,348.1 1493.4,348.4 1493.5,348.6 1493.5,349.4 1493.6,350.8 1493.6,351.1 1493.7,352.6 1493.7,353.8 1493.8,353.7 1493.8,352.8 1493.9,355.5 1493.9,356.7 1494.0,357.2 1494.0,359.4 1494.1,359.7 1494.1,361.4 1494.2,361.4 1494.2,361.7 1494.3,361.7 1494.4,362.4 1494.4,364.1 1494.5,365.0 1494.5,365.2 1494.6,366.7 1494.6,367.8 1494.7,368.0 1494.8,369.6 1494.8,369.7 1494.9,371.2 1494.9,371.4 1495.0,371.8 1495.1,371.6 1495.1,373.1 1495.2,373.7 1495.3,374.9 1495.3,377.5 1495.4,377.3 1495.4,379.6 1495.5,379.1 1495.6,381.2 1495.6,382.6 1495.7,383.0 1495.7,382.2 1495.8,383.0 1495.9,382.7 1495.9,382.9 1496.0,384.0 1496.0,385.2 1496.1,386.2 1496.2,388.7 1496.2,389.9 1496.3,390.2 1496.3,389.7 1496.4,390.7 1496.5,391.5 1496.5,391.2 1496.6,391.7 1496.7,393.7 1496.7,393.7 1496.8,395.7 1496.8,394.3 1496.9,396.7 1497.0,397.0 1497.1,396.6 1497.2,394.5 1497.3,393.1 1497.4,392.1 1497.5,392.1 1497.6,392.0 1497.6,392.1 1497.7,391.7 1497.8,390.8 1497.9,388.8 1498.0,387.3 1498.1,387.2 1498.2,385.1 1498.3,383.9 1498.4,383.5 1498.5,384.0 1498.6,383.2 1498.7,382.5 1498.8,381.1 1498.9,380.1 1499.0,378.9 1499.0,378.1 1499.1,377.6 1499.2,377.3 1499.3,376.9 1499.7,375.4 1500.0,374.4 1500.4,373.7 1500.7,373.6 1501.0,373.4 1501.1,372.8 1501.2,370.1 1501.2,367.8 1501.3,369.8 1501.4,367.1 1501.4,367.7 1501.5,365.8 1501.6,367.0 1501.6,366.1 1501.7,364.5 1501.7,363.6 1501.8,362.3 1501.9,362.8 1501.9,359.9 1502.0,360.1 1502.1,358.7 1502.1,356.9 1502.2,356.7 1502.3,354.4 1502.3,354.0 1502.4,354.5 1502.5,356.7 1502.5,355.4 1502.6,355.3 1502.7,352.4 1502.7,350.9 1502.8,350.2 1502.9,348.3 1502.9,348.3 1503.0,349.2 1503.1,347.9 1503.2,346.9 1503.4,347.2 1503.5,345.9 1503.6,343.9 1503.7,342.7 1503.9,342.3 1504.0,341.7 1504.1,339.9 1504.2,339.4 1504.4,338.3 1504.5,338.6 1504.6,335.5 1504.7,336.7 1504.9,335.6 1505.0,336.2 1505.1,335.1 1505.3,332.1 1505.4,331.2 1505.5,331.3 1505.6,329.7 1505.8,329.7 1505.9,328.1 1506.0,327.5 1506.1,326.9 1506.3,327.6 1506.4,325.6 1506.5,326.7 1506.6,326.5 1506.8,325.7 1506.9,326.3 1507.0,325.9 1507.1,326.5 1507.2,326.5 1507.4,327.8 1507.5,331.3 1507.6,331.5 1507.7,333.1 1507.9,333.6 1508.0,333.0 1508.1,333.9 1508.2,334.8 1508.3,336.3 1508.5,337.3 1508.6,339.5 1508.7,336.9 1508.8,337.1 1508.9,338.3 1509.1,340.5 1509.2,339.6 1509.3,339.9 1509.4,340.4 1509.5,343.2 1509.6,344.4 1509.6,344.9 1509.7,346.3 1509.8,346.9 1509.9,347.5 1510.0,348.6 1510.1,349.7 1510.2,350.3 1510.3,350.8 1510.4,351.7 1510.5,353.8 1510.6,355.0 1510.7,355.1 1510.8,355.5 1510.9,355.8 1511.0,357.3 1511.1,358.8 1511.2,360.2 1511.3,360.2 1511.4,359.3 1511.5,360.5 1511.6,361.2 1511.7,362.9 1511.8,364.2 1511.9,364.4 1512.0,366.8 1512.1,367.5 1512.1,367.8 1512.2,368.6 1512.3,369.0 1512.4,369.7 1512.5,368.7 1512.6,371.1 1512.7,372.0 1512.8,370.2 1512.9,369.3 1513.0,368.4 1513.1,367.5 1513.1,366.1 1513.2,365.7 1513.3,364.9 1513.4,365.1 1513.5,363.8 1513.6,362.8 1513.6,361.5 1513.7,360.8 1513.8,359.9 1513.9,358.8 1514.0,358.1 1514.1,358.0 1514.2,356.8 1514.2,356.1 1514.3,354.9 1514.4,353.5 1514.5,353.8 1514.6,353.0 1514.7,352.0 1514.7,354.0 1514.8,352.4 1514.9,351.9 1515.0,348.8 1515.1,349.9 1515.2,348.4 1515.3,349.7 1515.4,348.8 1515.5,346.3 1515.6,344.0 1515.7,343.8 1515.8,343.1 1516.0,343.2 1516.1,342.4 1516.2,342.5 1516.3,340.5 1516.4,338.8 1516.5,337.4 1516.6,338.4 1516.8,338.4 1516.9,336.7 1517.5,336.9 1518.2,338.8 1518.8,340.4 1518.9,337.4 1519.0,336.2 1519.0,336.9 1519.1,337.6 1519.2,335.8 1519.3,334.0 1519.4,332.2 1519.4,333.0 1519.5,331.9 1519.6,329.9 1519.7,329.3 1519.7,329.9 1519.8,328.5 1519.9,328.3 1520.0,326.7 1520.1,324.8 1520.1,324.0 1520.2,325.7 1520.3,324.7 1520.4,322.7 1520.4,322.9 1520.5,319.9 1520.6,318.2 1520.7,317.8 1520.8,317.3 1521.1,316.7 1521.4,314.4 1521.8,315.4 1522.1,315.3 1522.5,312.9 1522.5,313.2 1522.6,312.1 1522.7,309.7 1522.8,310.8 1522.8,310.6 1522.9,309.3 1523.0,308.8 1523.0,306.5 1523.1,306.8 1523.2,306.1 1523.3,306.4 1523.3,305.0 1523.4,303.3 1523.5,301.5 1523.5,300.7 1523.6,302.0 1523.7,298.6 1523.8,296.8 1523.8,296.2 1523.9,298.0 1524.0,297.1 1524.1,295.4 1524.1,294.7 1524.2,295.5 1524.3,293.5 1524.3,291.6 1524.4,291.5 1524.8,290.5 1525.1,290.0 1525.4,289.6 1525.8,290.4 1526.1,288.0 1526.2,286.8 1526.4,287.1 1526.5,286.7 1526.6,284.7 1526.7,284.3 1526.8,283.1 1527.0,282.2 1527.1,280.8 1527.2,280.1 1527.3,277.9 1527.5,277.7 1527.6,277.1 1527.7,277.3 1527.8,274.7 1527.9,275.8 1528.1,274.7 1528.2,273.4 1528.3,271.3 1528.4,271.9 1528.5,271.9 1528.6,270.3 1528.7,270.4 1528.8,269.8 1528.9,266.7 1529.0,267.4 1529.1,267.5 1529.2,266.3 1529.3,265.8 1529.4,264.2 1529.5,264.8 1529.6,263.8 1529.7,263.5 1529.8,262.0 1529.9,260.5 1530.0,261.4 1530.1,260.2 1530.2,259.3 1530.2,259.8 1530.3,261.9 1530.4,263.4 1530.5,262.4 1530.5,265.1 1530.6,266.2 1530.7,265.7 1530.8,268.8 1530.8,268.5 1530.9,268.9 1531.0,269.7 1531.1,269.5 1531.1,269.8 1531.2,270.0 1531.3,271.7 1531.4,272.5 1531.5,273.1 1531.5,274.9 1531.6,275.9 1531.7,276.4 1531.8,277.4 1531.8,280.3 1531.9,280.8 1532.0,281.0 1532.1,281.5 1532.1,281.6 1532.2,282.3 1532.5,284.1 1532.8,283.9 1533.0,285.2 1533.3,285.8 1533.6,285.5 1533.9,287.0 1534.2,287.0 1534.5,288.7 1534.7,288.8 1535.0,289.6 1535.3,288.8 1535.6,291.7 1535.9,291.7 1536.2,292.9 1536.5,293.7 1536.8,294.2 1537.2,295.5 1537.5,295.9 1537.8,295.5 1538.1,298.7 1538.5,299.0 1538.8,299.1 1538.9,299.5 1538.9,298.0 1539.0,296.5 1539.1,295.7 1539.2,293.5 1539.2,294.3 1539.3,294.6 1539.4,294.1 1539.4,292.4 1539.5,291.1 1539.6,290.7 1539.7,291.1 1539.7,290.4 1539.8,287.7 1539.9,286.9 1540.0,283.6 1540.0,283.6 1540.1,284.1 1540.2,282.9 1540.3,282.6 1540.3,281.4 1540.4,281.4 1540.5,280.3 1540.6,279.4 1540.6,279.4 1540.7,279.6 1540.8,278.4 1540.8,277.7 1540.9,276.4 1541.0,275.5 1541.1,274.1 1541.1,271.9 1541.2,271.0 1542.0,272.1 1542.8,274.4 1543.7,275.1 1543.9,272.6 1544.1,272.2 1544.3,270.0 1544.5,270.1 1544.7,269.6 1544.9,267.6 1545.1,268.2 1545.3,267.5 1545.6,267.3 1545.8,265.0 1546.0,263.6 1546.2,262.0 1546.4,262.4 1546.6,263.9 1546.8,262.7 1547.1,262.2 1547.4,260.5 1547.6,258.4 1547.9,257.1 1548.1,258.8 1548.4,257.8 1548.7,256.2 1548.9,256.7 1549.2,254.9 1549.5,253.7 1549.7,252.2 1549.9,253.7 1550.1,255.4 1550.3,255.9 1550.5,256.6 1550.7,258.3 1550.9,258.4 1551.1,259.6 1551.3,260.3 1551.5,260.6 1551.7,260.8 1552.1,262.3 1552.5,262.1 1552.9,264.0 1553.3,264.9 1553.7,267.5 1554.1,269.2 1554.5,267.6 1554.9,267.2 1555.3,265.3 1555.7,264.6 1556.2,263.8 1556.6,260.8 1556.7,260.2 1556.8,261.2 1557.0,261.0 1557.1,258.3 1557.2,257.9 1557.4,257.3 1557.5,255.4 1557.7,254.0 1557.8,254.5 1557.9,253.6 1558.1,253.2 1558.2,251.0 1558.3,251.1 1558.5,250.2 1558.6,249.8 1558.8,248.6 1558.9,249.2 1559.0,248.9 1559.2,246.7 1559.3,246.0 1559.5,243.9 1559.6,241.8 1559.7,240.6 1559.9,240.8 1560.1,241.0 1560.2,240.1 1560.4,240.7 1560.6,240.8 1560.8,240.0 1560.9,238.6 1561.1,237.0 1561.3,236.3 1561.5,235.4 1561.6,232.7 1561.8,231.3 1562.0,230.9 1562.2,231.0 1562.4,232.1 1562.7,233.5 1563.0,233.0 1563.3,232.6 1563.5,234.0 1563.8,235.3 1564.1,237.7 1564.4,238.1 1564.8,237.8 1565.2,240.2 1565.6,240.4 1566.0,240.8 1566.4,243.0 1566.8,242.3 1567.0,245.0 1567.1,245.6 1567.3,247.3 1567.4,246.9 1567.6,249.0 1567.8,248.1 1567.9,249.0 1568.1,249.7 1568.2,250.9 1568.4,250.3 1568.6,252.1 1568.7,252.7 1569.2,251.6 1569.7,251.6 1570.2,250.8 1570.7,251.5 1571.2,248.5 1571.4,249.1 1571.7,249.8 1572.0,251.0 1572.3,252.1 1572.5,252.2 1572.8,252.5 1573.1,255.3 1573.3,255.8 1573.6,256.5 1574.1,257.8 1574.6,258.6 1575.1,259.7 1575.6,259.9 1576.0,260.9 1576.2,260.6 1576.3,259.4 1576.4,261.2 1576.5,262.4 1576.6,264.1 1576.7,265.1 1576.8,266.3 1577.0,265.8 1577.1,267.3 1577.2,269.7 1577.3,270.5 1577.4,270.8 1577.5,272.3 1577.6,271.6 1577.7,272.9 1577.9,272.8 1578.1,274.4 1578.3,275.6 1578.5,275.6 1578.6,277.4 1578.8,276.7 1579.0,276.9 1579.2,278.6 1579.3,278.4 1579.5,279.1 1579.7,281.9 1579.9,282.0 1580.0,281.6 1580.2,283.0 1580.4,283.1 1580.6,286.2 1580.7,285.9 1580.9,288.0 1581.1,287.7 1581.4,284.3 1581.6,283.0 1581.8,283.7 1582.0,283.5 1582.3,283.5 1582.5,283.5 1582.7,281.4 1582.9,279.4 1583.2,279.5 1583.4,277.3 1583.6,278.1 1583.9,277.8 1584.1,277.5 1584.3,276.9 1584.5,277.9 1584.7,277.9 1584.9,279.3 1585.1,279.2 1585.3,280.4 1585.5,283.2 1585.7,283.1 1586.0,283.5 1586.2,284.4 1586.4,284.3 1586.6,284.5 1586.8,286.4 1587.0,287.7 1587.3,287.4 1587.7,288.4 1588.0,289.1 1588.3,290.2 1588.7,289.1 1589.0,291.2 1589.3,292.0 1589.7,292.6 1590.0,292.5 1590.3,295.0 1590.7,296.9 1590.8,296.0 1591.0,294.9 1591.1,295.0 1591.3,292.7 1591.5,292.2 1591.6,292.0 1591.8,289.7 1592.0,288.6 1592.1,288.1 1592.3,286.6 1592.4,285.0 1592.6,285.9 1592.8,282.9 1592.9,283.1 1593.1,282.6 1593.2,283.1 1593.4,283.3 1593.6,286.4 1593.7,287.0 1593.9,287.0 1594.0,286.9 1594.2,288.4 1594.4,290.3 1594.5,291.5 1594.7,292.6 1594.8,292.7 1595.0,293.6 1595.2,294.2 1595.3,295.4 1595.5,296.3 1595.6,298.8 1595.8,296.2 1595.9,299.6 1596.1,299.4 1596.3,298.3 1596.4,299.8 1596.6,303.7 1596.7,302.9 1596.9,299.3 1597.0,299.8 1597.2,298.6 1597.3,297.9 1597.5,298.8 1597.6,297.0 1597.8,295.6 1597.9,296.7 1598.1,295.5 1598.2,293.9 1598.4,293.4 1598.5,291.0 1598.6,290.5 1598.8,289.6 1598.9,289.9 1599.1,289.1 1599.2,289.3 1599.4,289.6 1599.5,287.5 1599.7,287.0 1599.8,287.1 1600.0,286.3 1600.1,286.8 1600.2,284.5 1600.4,283.0 1600.5,281.2 1600.6,279.2 1600.7,280.6 1600.9,278.6 1601.0,278.6 1601.1,278.0 1601.2,276.1 1601.3,277.5 1601.4,276.6 1601.6,274.3 1601.7,271.8 1601.8,272.7 1601.9,273.7 1602.0,272.4 1602.1,268.2 1602.3,269.3 1602.4,268.5 1602.5,267.8 1602.6,266.3 1602.7,265.5 1602.8,265.3 1603.4,265.3 1604.0,265.0 1604.7,262.3 1605.3,261.4 1606.2,261.4 1607.1,261.3 1608.0,264.8 1608.9,264.1 1609.8,262.5 1610.7,263.2 1611.7,263.8 1612.6,265.0 1613.2,262.9 1613.8,261.3 1614.5,262.1 1615.1,260.7 1615.7,258.8 1616.1,259.8 1616.4,260.4 1616.8,258.6 1617.1,258.0 1617.5,256.8 1617.8,255.0 1618.2,254.7 1618.7,255.0 1619.1,254.0 1619.6,253.9 1620.1,253.6 1620.6,251.4 1621.1,250.5 1621.4,253.0 1621.6,253.6 1621.9,254.0 1622.2,254.2 1622.4,253.5 1622.7,255.4 1622.9,255.1 1623.2,258.6 1623.5,258.2 1623.7,258.0 1624.0,260.2 1624.3,260.6 1625.1,259.9 1625.9,260.6 1626.7,261.3 1627.6,261.6 1628.4,263.0 1628.7,265.0 1629.0,263.2 1629.3,265.3 1629.6,264.7 1629.9,263.5 1630.2,266.2 1630.5,267.8 1630.8,268.2 1631.1,268.5 1631.4,270.0 1631.8,270.8 1632.1,271.1 1632.4,271.4 1632.7,272.6 1633.0,274.0 1633.3,275.5 1633.6,273.3 1633.9,273.7 1634.2,270.2 1634.5,271.1 1634.8,269.8 1635.1,268.6 1635.4,270.0 1635.7,269.9 1636.0,270.2 1636.3,270.2 1636.6,272.2 1636.9,272.9 1637.2,271.5 1637.5,274.1 1637.8,274.8 1638.1,274.9 1638.3,273.1 1638.4,272.4 1638.5,273.5 1638.7,272.6 1638.8,271.3 1639.0,270.2 1639.1,269.8 1639.2,267.3 1639.4,265.8 1639.5,266.5 1639.6,265.4 1639.8,264.3 1639.9,263.4 1640.0,261.8 1640.2,263.1 1640.3,263.2 1640.4,261.5 1640.6,259.8 1640.7,261.2 1640.8,259.4 1641.0,258.6 1641.1,257.7 1641.3,255.5 1641.4,254.0 1641.5,253.8 1641.7,254.4 1641.8,253.8 1642.1,253.5 1642.5,253.7 1642.8,253.2 1643.1,255.6 1643.5,255.5 1643.8,258.1 1644.1,258.4 1644.5,257.6 1644.8,259.4 1645.1,260.8 1645.4,263.0 1645.8,265.2 1646.2,264.8 1646.5,264.9 1646.9,264.7 1647.2,268.4 1647.6,267.1 1647.9,268.1 1648.3,267.9 1648.6,268.5 1648.8,268.9 1648.9,267.0 1649.0,265.7 1649.2,266.3 1649.3,264.5 1649.5,263.9 1649.6,264.1 1649.7,263.5 1649.9,261.5 1650.0,257.9 1650.2,256.7 1650.3,256.4 1650.4,257.3 1650.6,258.2 1650.7,257.8 1650.9,257.2 1651.0,255.5 1651.1,252.9 1651.3,251.6 1651.4,252.0 1651.6,251.8 1651.7,252.3 1651.8,251.7 1652.0,250.6 1652.1,249.6 1652.3,248.7 1653.0,248.1 1653.7,247.7 1654.5,247.0 1655.2,249.5 1655.5,249.9 1655.8,251.2 1656.1,252.8 1656.4,253.5 1656.7,252.9 1657.0,252.8 1657.3,253.4 1657.6,254.9 1657.9,254.8 1658.2,254.3 1658.4,254.7 1658.7,254.0 1659.0,253.1 1659.2,251.0 1659.5,252.3 1659.8,251.0 1660.0,250.5 1660.3,250.1 1660.5,248.4 1660.8,247.4 1661.0,249.1 1661.2,250.1 1661.4,249.5 1661.6,250.9 1661.8,250.4 1662.0,254.1 1662.2,255.8 1662.4,257.1 1662.7,257.6 1662.9,259.5 1663.1,258.6 1663.3,258.5 1663.5,259.3 1663.7,259.2 1664.1,260.7 1664.4,260.2 1664.8,261.6 1665.1,262.4 1665.5,264.3 1665.8,265.2 1666.2,265.3 1666.5,266.6 1666.9,266.2 1667.2,266.8 1667.4,268.3 1667.7,269.4 1668.0,269.8 1668.2,269.9 1668.5,270.9 1668.8,273.0 1669.0,274.0 1669.3,273.1 1669.6,273.2 1669.9,272.3 1670.2,270.0 1670.5,269.8 1670.8,270.0 1671.1,271.0 1671.4,271.0 1671.8,268.9 1672.0,272.7 1672.2,271.2 1672.4,270.8 1672.6,272.4 1672.8,272.2 1673.0,273.4 1673.2,275.0 1673.4,275.6 1673.6,277.1 1673.8,278.4 1674.0,280.9 1674.2,281.0 1674.9,281.2 1675.6,280.8 1676.3,278.9 1676.9,279.2 1677.6,280.0 1678.3,280.9 1678.4,277.6 1678.5,279.2 1678.5,278.3 1678.6,278.4 1678.7,278.3 1678.7,277.9 1678.8,275.8 1678.9,274.3 1678.9,272.4 1679.0,273.8 1679.1,274.3 1679.1,271.4 1679.2,271.2 1679.3,270.4 1679.3,270.1 1679.4,267.5 1679.5,267.5 1679.5,265.8 1679.6,265.1 1679.7,265.2 1679.7,262.7 1679.8,262.2 1679.9,260.8 1679.9,258.5 1680.0,257.7 1680.6,259.7 1681.2,262.2 1681.8,263.1 1682.3,263.2 1682.9,264.0 1683.4,265.6 1683.8,265.1 1684.3,266.7 1684.7,265.6 1685.2,267.7 1685.6,266.3 1686.1,268.5 1686.9,267.2 1687.7,268.1 1688.5,267.8 1689.3,265.0 1689.7,265.9 1690.1,267.2 1690.5,267.9 1691.0,268.2 1691.4,268.5 1691.8,271.1 1692.2,270.8 1692.7,270.8 1692.9,270.4 1693.1,271.4 1693.3,269.5 1693.6,269.1 1693.8,267.2 1694.0,267.1 1694.2,267.3 1694.5,266.5 1694.7,265.4 1694.9,264.4 1695.2,262.4 1695.4,262.6 1695.6,262.0 1695.8,262.1 1696.4,262.9 1697.0,263.6 1697.7,262.8 1698.3,263.8 1698.9,264.8 1699.5,266.1 1699.6,264.9 1699.7,263.8 1699.8,262.9 1699.9,263.0 1700.0,263.8 1700.1,260.4 1700.2,259.9 1700.3,259.7 1700.4,259.3 1700.5,257.3 1700.6,256.3 1700.7,253.9 1700.8,252.9 1700.9,252.5 1701.0,253.4 1701.1,253.4 1701.2,250.9 1701.3,250.0 1701.4,250.7 1701.5,249.2 1701.6,248.9 1701.7,249.1 1701.8,246.4 1701.9,246.7 1702.0,245.6 1702.1,244.8 1702.2,244.8 1702.3,241.8 1702.4,240.6 1702.5,237.7 1702.6,237.9 1702.7,237.4 1702.8,238.6 1702.9,237.2 1703.0,236.6 1703.1,235.2 1703.2,235.8 1703.3,234.4 1703.4,232.3 1703.5,231.9 1703.6,231.3 1703.7,231.1 1703.8,230.7 1703.9,229.5 1704.0,229.8 1704.2,228.4 1704.3,227.9 1704.4,226.7 1704.8,226.0 1705.3,225.2 1705.8,226.6 1706.3,228.3 1706.8,228.9 1706.9,229.5 1707.1,226.8 1707.2,226.4 1707.4,226.2 1707.5,224.1 1707.6,222.7 1707.8,221.1 1707.9,222.0 1708.1,224.1 1708.2,223.0 1708.4,222.0 1708.5,218.5 1708.7,218.2 1708.8,218.7 1708.9,217.0 1709.1,217.9 1709.2,218.3 1709.3,214.9 1709.4,214.5 1709.5,212.7 1709.6,212.9 1709.7,211.8 1709.8,211.9 1709.9,211.9 1709.9,210.4 1710.0,209.3 1710.1,207.3 1710.2,206.7 1710.3,204.8 1710.4,206.4 1710.5,205.8 1710.6,203.3 1710.7,203.8 1710.8,203.0 1710.8,203.1 1710.9,201.7 1711.0,201.9 1711.1,201.8 1711.2,200.1 1711.3,198.5 1711.4,197.8 1711.5,195.2 1711.6,196.7 1711.7,196.3 1711.7,194.2 1711.8,194.2 1711.9,193.4 1712.0,192.7 1712.1,189.8 1712.1,187.0 1712.2,186.3 1712.3,186.3 1712.4,185.7 1712.5,185.9 1712.6,186.6 1712.6,185.0 1712.7,183.8 1712.8,182.4 1712.9,182.3 1713.0,181.8 1713.0,181.5 1713.1,180.1 1713.2,179.3 1713.3,179.0 1713.4,177.9 1713.4,175.4 1713.5,173.8 1713.6,175.7 1713.7,174.2 1713.8,173.7 1713.9,174.1 1713.9,171.7 1714.0,170.3 1714.1,169.1 1714.2,170.4 1714.3,169.3 1714.3,169.4 1714.4,167.1 1714.5,166.3 1714.6,165.4 1714.7,164.5 1714.7,164.2 1714.8,162.1 1714.9,161.0 1715.0,161.8 1715.1,161.6 1715.1,161.3 1715.2,161.4 1715.3,158.9 1715.4,157.2 1715.5,155.9 1715.6,154.3 1715.6,155.3 1715.7,153.5 1715.8,151.5 1715.9,151.1 1716.0,151.0 1716.0,148.2 1716.3,148.4 1716.6,148.9 1716.9,147.8 1717.2,147.3 1717.5,145.0 1717.7,146.4 1717.8,143.8 1717.9,143.2 1718.0,144.2 1718.1,141.9 1718.2,140.8 1718.3,138.9 1718.4,138.6 1718.5,138.5 1718.6,138.2 1718.7,138.2 1718.8,138.1 1718.9,136.9 1719.0,136.1 1719.2,134.9 1719.5,133.2 1719.7,132.4 1719.9,131.8 1720.2,130.4 1720.4,129.7 1720.5,129.6 1720.7,131.0 1720.8,131.1 1720.9,130.9 1721.0,132.9 1721.2,133.2 1721.3,135.2 1721.4,137.7 1721.5,138.5 1721.6,137.2 1721.8,138.3 1721.9,140.7 1722.0,142.6 1722.1,142.8 1722.3,142.5 1722.4,143.7 1722.5,143.8 1722.6,143.1 1722.7,146.4 1722.9,146.4 1723.0,146.8 1723.1,147.7 1723.2,149.5 1723.3,150.6 1723.5,151.1 1723.6,152.8 1723.7,155.0 1723.8,153.6 1724.0,153.1 1724.1,155.0 1724.2,154.7 1724.4,157.0 1724.5,156.8 1724.6,159.6 1724.7,159.7 1724.9,161.6 1725.0,161.4 1725.1,160.5 1725.3,162.3 1725.4,164.5 1725.5,163.9 1725.7,164.4 1725.8,166.2 1725.8,167.4 1725.9,167.1 1725.9,167.0 1726.0,168.4 1726.0,167.9 1726.1,170.1 1726.1,171.8 1726.2,173.7 1726.2,172.9 1726.3,173.8 1726.3,175.0 1726.4,174.6 1726.4,175.9 1726.5,176.4 1726.5,178.2 1726.6,178.4 1726.6,179.6 1726.7,179.7 1726.7,183.0 1726.8,182.9 1726.8,182.6 1726.9,182.5 1727.0,182.6 1727.0,184.0 1727.1,185.1 1727.1,185.4 1727.2,189.0 1727.3,189.9 1727.3,189.0 1727.4,190.0 1727.4,190.4 1727.5,191.7 1727.6,192.3 1727.6,193.5 1727.7,192.4 1727.8,192.6 1727.8,195.9 1727.9,197.1 1727.9,196.9 1728.0,196.8 1728.1,197.3 1728.1,196.8 1728.2,200.0 1728.3,199.1 1728.3,198.9 1728.4,199.8 1728.5,203.1 1728.5,204.8 1728.6,204.8 1728.6,203.1 1728.7,204.1 1728.8,205.9 1728.9,206.6 1728.9,208.4 1729.0,210.2 1729.1,212.0 1729.1,210.8 1729.2,213.1 1729.3,213.6 1729.4,213.6 1729.4,216.3 1729.5,217.2 1729.6,217.1 1729.6,215.9 1729.7,218.1 1729.8,218.1 1729.9,221.2 1729.9,221.1 1730.0,221.5 1730.1,222.3 1730.1,222.2 1730.2,222.6 1730.3,222.8 1730.4,225.5 1730.4,225.7 1730.5,226.2 1730.6,227.5 1730.7,227.4 1730.8,230.4 1730.8,231.0 1730.9,232.3 1731.0,232.6 1731.1,231.4 1731.2,232.4 1731.3,234.9 1731.4,235.1 1731.5,235.2 1731.6,235.4 1731.7,238.6 1731.8,240.4 1731.9,241.6 1732.0,241.3 1732.1,241.4 1732.4,242.4 1732.8,243.3 1733.1,242.2 1733.4,244.3 1733.7,244.2 1734.1,245.6 1734.3,244.9 1734.5,245.7 1734.6,246.2 1734.8,245.5 1735.0,248.3 1735.2,249.9 1735.4,249.5 1735.6,250.1 1735.8,252.1 1736.0,255.0 1736.5,255.2 1737.0,255.4 1737.5,257.3 1738.0,258.0 1738.4,259.0 1738.7,260.3 1739.0,258.8 1739.2,257.1 1739.5,259.1 1739.8,262.1 1740.0,262.5 1740.3,263.2 1740.5,264.9 1740.8,264.2 1741.1,265.1 1741.3,266.8 1741.6,267.1 1741.8,267.8 1742.1,268.1 1742.4,267.6 1742.7,265.3 1743.0,266.1 1743.3,265.8 1743.5,264.7 1743.8,262.9 1744.1,263.3 1744.4,262.5 1744.7,262.1 1745.0,263.4 1745.3,262.0 1745.9,260.3 1746.4,258.3 1747.0,257.8 1747.6,258.7 1748.2,257.0 1748.4,257.7 1748.6,259.2 1748.9,261.0 1749.1,260.7 1749.3,262.7 1749.5,262.3 1749.7,262.6 1750.0,262.5 1750.2,264.1 1750.4,265.3 1750.6,264.7 1750.9,264.5 1751.2,264.2 1751.5,262.6 1751.8,261.5 1752.1,259.5 1752.5,258.8 1752.8,258.8 1753.1,259.1 1753.2,260.7 1753.3,260.2 1753.4,259.5 1753.5,260.3 1753.6,262.3 1753.7,262.5 1753.8,264.7 1753.9,265.1 1754.0,265.7 1754.1,266.1 1754.2,265.9 1754.3,268.3 1754.4,270.0 1754.6,272.2 1754.7,273.0 1754.8,273.5 1754.9,273.8 1755.0,273.5 1755.1,273.7 1755.2,275.8 1755.3,275.2 1755.4,277.2 1755.5,276.8 1755.6,278.1 1755.7,278.5 1755.8,280.8 1756.0,280.5 1756.1,281.6 1756.2,280.9 1756.3,283.4 1756.4,284.0 1756.5,286.2 1756.6,286.7 1756.7,287.7 1757.0,287.4 1757.2,287.1 1757.5,289.1 1757.8,290.6 1758.0,291.7 1758.3,291.6 1758.6,290.3 1758.8,291.4 1759.1,292.7 1759.4,293.8 1759.6,294.2 1759.9,295.1 1760.1,296.0 1760.3,296.4 1760.5,297.6 1760.8,299.3 1761.0,298.9 1761.2,301.4 1761.4,302.6 1761.6,303.1 1761.9,304.4 1762.1,305.8 1762.3,305.2 1762.5,306.6 1762.6,308.2 1762.7,307.9 1762.9,308.1 1763.0,308.1 1763.2,309.4 1763.3,311.5 1763.5,312.4 1763.6,314.0 1763.7,314.1 1763.9,314.3 1764.0,315.0 1764.3,314.1 1764.6,314.1 1764.8,313.8 1765.1,313.5 1765.4,310.8 1765.6,309.9 1765.9,311.6 1766.2,309.5 1766.5,309.1 1767.3,309.4 1768.1,309.5 1768.9,309.9 1769.3,310.6 1769.7,312.3 1770.1,313.3 1770.5,311.5 1770.9,311.8 1771.3,313.0 1771.8,313.1 1772.2,310.0 1772.7,311.1 1773.2,312.4 1773.6,309.2 1774.1,309.8 1774.5,310.2 1775.0,307.7 1775.3,305.5 1775.7,305.7 1776.0,304.5 1776.4,303.3 1776.7,302.2 1777.1,301.8 1777.4,300.4 1778.0,303.0 1778.6,303.1 1779.2,305.0 1779.8,306.2 1780.3,305.5 1780.9,304.0 1781.4,302.3 1782.0,303.2 1782.6,304.5 1783.1,301.7 1783.7,300.3 1784.2,300.1 1784.6,300.0 1785.1,301.2 1785.5,300.8 1785.9,301.8 1786.3,303.4 1786.7,302.8 1787.2,305.4 1787.4,304.9 1787.6,303.1 1787.8,302.7 1788.1,302.3 1788.3,302.7 1788.5,301.7 1788.7,300.5 1789.0,299.8 1789.2,299.6 1789.4,298.0 1789.6,297.1 1789.9,296.0 1790.1,296.1 1790.4,294.0 1790.8,293.2 1791.1,293.6 1791.5,290.7 1791.8,290.5 1792.2,289.7 1792.6,289.0 1792.9,287.5 1793.3,288.4 1793.6,286.3 1794.0,284.5 1794.9,285.9 1795.9,286.0 1796.9,285.6 1797.3,285.8 1797.7,287.1 1798.1,289.3 1798.5,290.1 1798.9,289.1 1799.3,291.5 1800.1,292.5 1801.0,294.3 1801.8,291.6 1802.1,291.8 1802.4,291.7 1802.7,291.2 1803.0,289.5 1803.3,287.7 1803.6,287.4 1803.9,287.7 1804.2,288.2 1804.3,287.5 1804.5,284.9 1804.6,286.2 1804.7,284.1 1804.8,282.8 1805.0,282.4 1805.1,282.3 1805.2,282.2 1805.3,280.8 1805.5,279.7 1805.6,280.0 1805.7,277.8 1805.9,277.9 1806.0,277.3 1806.1,276.6 1806.2,274.1 1806.4,272.2 1806.5,270.9 1806.6,268.8 1806.7,269.9 1806.9,269.2 1807.0,266.2 1807.1,265.5 1807.3,268.1 1807.4,270.5 1807.6,272.2 1807.7,272.1 1807.8,272.2 1808.0,274.1 1808.1,274.2 1808.3,275.2 1808.4,276.6 1808.6,277.2 1808.7,278.1 1808.8,278.2 1809.0,277.8 1809.1,277.8 1809.3,279.1 1809.4,279.3 1809.6,280.8 1809.9,282.1 1810.3,281.5 1810.6,282.7 1811.0,285.2 1811.3,286.3 1811.7,286.3 1812.0,288.5 1812.4,290.3 1812.7,289.2 1813.1,290.9 1813.4,291.5 1813.8,292.2 1814.1,294.4 1814.5,294.2 1814.8,293.6 1815.2,294.8 1815.5,295.7 1815.9,297.0 1816.0,297.1 1816.2,296.1 1816.3,296.3 1816.4,292.3 1816.6,291.8 1816.7,290.8 1816.8,290.4 1817.0,290.2 1817.1,289.8 1817.2,289.7 1817.4,289.2 1817.5,286.2 1817.6,285.5 1817.8,285.8 1817.9,283.9 1818.1,284.5 1818.2,283.8 1818.3,284.0 1818.5,281.9 1818.8,280.2 1819.0,279.1 1819.2,276.4 1819.4,277.2 1819.7,277.0 1819.9,276.6 1820.1,276.0 1820.3,273.9 1820.5,273.4 1820.8,274.3 1820.9,275.3 1821.0,274.8 1821.1,275.8 1821.2,274.8 1821.4,275.1 1821.5,276.4 1821.6,276.9 1821.7,277.2 1821.9,279.8 1822.0,279.4 1822.1,280.6 1822.2,282.4 1822.3,284.6 1822.5,285.0 1822.6,284.9 1822.7,286.6 1822.8,286.2 1823.0,286.8 1823.1,288.0 1823.2,288.4 1823.3,290.6 1823.5,292.3 1823.6,292.0 1823.7,293.2 1823.9,292.5 1824.0,296.1 1824.1,297.9 1824.3,298.4 1824.4,298.0 1824.5,296.8 1824.7,297.9 1824.8,298.8 1825.0,300.2 1825.1,300.9 1825.2,300.7 1825.4,302.3 1825.5,302.4 1825.6,303.3 1825.8,305.9 1826.0,306.3 1826.2,305.8 1826.4,307.8 1826.6,308.5 1826.8,308.7 1827.1,310.8 1827.3,313.6 1827.5,312.8 1827.7,314.2 1827.9,313.6 1828.1,313.8 1829.0,313.8 1830.0,312.4 1831.0,313.0 1831.4,311.3 1831.8,310.9 1832.2,311.8 1832.7,312.7 1833.1,310.4 1833.5,309.3 1833.9,308.5 1834.3,309.2 1834.7,307.8 1835.1,306.9 1835.5,304.9 1835.9,305.7 1836.3,305.2 1836.7,303.7 1837.1,304.2 1837.8,304.8 1838.5,305.7 1839.3,305.0 1840.0,303.0 1840.7,305.4 1841.6,305.2 1842.6,304.5 1843.5,304.6 1844.4,305.1 1845.1,306.7 1845.8,307.6 1846.6,306.7 1847.3,308.0 1848.0,308.9 1848.9,307.6 1849.9,308.1 1850.8,308.3 1851.7,309.0 1852.0,308.5 1852.2,309.8 1852.5,311.5 1852.8,312.5 1853.0,312.9 1853.3,312.8 1853.6,313.8 1853.9,314.8 1854.1,316.0 1854.5,316.7 1854.9,318.0 1855.2,319.4 1855.6,319.4 1856.0,320.9 1856.3,323.1 1856.7,324.6 1857.0,324.4 1857.3,322.2 1857.6,319.5 1857.9,320.3 1858.2,318.8 1858.5,319.1 1858.8,317.1 1859.1,316.7 1859.3,316.9 1859.6,315.4 1859.9,313.6 1860.2,315.4 1860.6,315.7 1860.9,315.3 1861.3,316.7 1861.7,316.9 1862.0,318.3 1862.4,316.9 1862.8,318.7 1863.1,319.3 1863.7,321.0 1864.2,321.6 1864.7,322.1 1865.2,323.0 1865.8,321.3 1866.3,324.2 1866.7,326.6 1867.0,328.1 1867.4,329.7 1867.7,327.8 1868.1,328.0 1868.4,328.6 1868.8,330.2 1869.1,332.5 1869.5,332.3 1869.9,331.6 1870.3,329.3 1870.7,328.3 1871.1,327.3 1871.6,326.3 1872.0,325.2 1872.4,326.2 1873.2,323.8 1874.0,326.2 1874.8,326.5 1875.2,327.3 1875.6,327.5 1875.9,327.2 1876.3,328.9 1876.7,329.6 1877.0,331.4 1877.4,332.8 1877.7,332.3 1878.2,333.9 1878.7,333.9 1879.2,334.1 1879.7,336.0 1880.2,337.5 1880.4,339.1 1880.6,338.0 1880.8,339.5 1881.1,339.2 1881.3,340.1 1881.5,341.7 1881.7,341.0 1882.0,342.4 1882.2,343.2 1882.4,341.5 1882.6,343.8 1882.8,345.0 1883.1,346.9 1883.3,346.4 1883.5,347.0 1883.7,346.3 1883.9,346.7 1884.2,347.6 1884.4,349.8 1884.6,351.6 1884.8,352.6 1885.1,352.2 1885.5,353.5 1886.0,355.2 1886.5,355.3 1887.0,357.5 1887.5,359.0 1888.3,357.6 1889.1,356.2 1889.9,356.0 1890.4,356.5 1890.9,357.4 1891.4,359.7 1891.9,358.8 1892.4,358.1 1893.1,282.4 1914.5,282.4" fill="none" stroke="#0000ff" stroke-width="4.3" stroke-linejoin="round" stroke-linecap="round" clip-path="url(#cp3)"/>
<line x1="1893.10" y1="108.00" x2="1893.10" y2="418.50" stroke="#00ffff" stroke-width="2.9"/>
<text x="1464.1" y="100.0" font-size="13.06" fill="#000" textLength="253.0" lengthAdjust="spacingAndGlyphs">File Updated:23-Sep-2025 22:49:01 UTC</text>
<text x="1907.9" y="106.8" font-size="15.24" fill="#000" textLength="128.5" lengthAdjust="spacingAndGlyphs" text-anchor="end">minute resolution</text>
<rect x="1886.2" y="103.7" width="111.2" height="39.8" fill="#fff" stroke="#00ffff" stroke-width="1"/>
<text x="1893.5" y="130.7" font-size="21.77" fill="#000" textLength="96.7" lengthAdjust="spacingAndGlyphs">time now</text>
<line x1="1894.70" y1="282.60" x2="1914.50" y2="282.60" stroke="#000" stroke-width="1.7" opacity="0.72"/>
<line x1="1464.50" y1="108.00" x2="1464.50" y2="419.00" stroke="#0000ff" stroke-width="1"/>
<line x1="1914.50" y1="108.00" x2="1914.50" y2="419.00" stroke="#000" stroke-width="1"/>
<line x1="1464.00" y1="418.50" x2="1915.00" y2="418.50" stroke="#262626" stroke-width="1"/>
<text x="1464.3" y="448.2" font-size="21.77" fill="#262626" textLength="13.3" lengthAdjust="spacingAndGlyphs" text-anchor="middle">0</text>
<line x1="1521.50" y1="418.50" x2="1521.50" y2="414.00" stroke="#262626" stroke-width="1"/>
<text x="1520.5" y="448.2" font-size="21.77" fill="#262626" textLength="13.3" lengthAdjust="spacingAndGlyphs" text-anchor="middle">3</text>
<line x1="1577.50" y1="418.50" x2="1577.50" y2="414.00" stroke="#262626" stroke-width="1"/>
<text x="1576.6" y="448.2" font-size="21.77" fill="#262626" textLength="13.3" lengthAdjust="spacingAndGlyphs" text-anchor="middle">6</text>
<line x1="1633.50" y1="418.50" x2="1633.50" y2="414.00" stroke="#262626" stroke-width="1"/>
<text x="1632.8" y="448.2" font-size="21.77" fill="#262626" textLength="13.3" lengthAdjust="spacingAndGlyphs" text-anchor="middle">9</text>
<line x1="1689.50" y1="418.50" x2="1689.50" y2="414.00" stroke="#262626" stroke-width="1"/>
<text x="1688.9" y="448.2" font-size="21.77" fill="#262626" textLength="26.5" lengthAdjust="spacingAndGlyphs" text-anchor="middle">12</text>
<line x1="1746.50" y1="418.50" x2="1746.50" y2="414.00" stroke="#262626" stroke-width="1"/>
<text x="1745.0" y="448.2" font-size="21.77" fill="#262626" textLength="26.5" lengthAdjust="spacingAndGlyphs" text-anchor="middle">15</text>
<line x1="1802.50" y1="418.50" x2="1802.50" y2="414.00" stroke="#262626" stroke-width="1"/>
<text x="1801.2" y="448.2" font-size="21.77" fill="#262626" textLength="26.5" lengthAdjust="spacingAndGlyphs" text-anchor="middle">18</text>
<line x1="1858.50" y1="418.50" x2="1858.50" y2="414.00" stroke="#262626" stroke-width="1"/>
<text x="1857.3" y="448.2" font-size="21.77" fill="#262626" textLength="26.5" lengthAdjust="spacingAndGlyphs" text-anchor="middle">21</text>
<text x="1913.5" y="448.2" font-size="21.77" fill="#262626" textLength="26.5" lengthAdjust="spacingAndGlyphs" text-anchor="middle">24</text>
<line x1="1464.50" y1="163.50" x2="1469.00" y2="163.50" stroke="#0000ff" stroke-width="1"/>
<text x="1455.1" y="170.2" font-size="21.77" fill="#0000ff" textLength="26.5" lengthAdjust="spacingAndGlyphs" text-anchor="end">40</text>
<line x1="1464.50" y1="222.50" x2="1469.00" y2="222.50" stroke="#0000ff" stroke-width="1"/>
<text x="1455.1" y="229.9" font-size="21.77" fill="#0000ff" textLength="26.5" lengthAdjust="spacingAndGlyphs" text-anchor="end">20</text>
<line x1="1464.50" y1="282.50" x2="1469.00" y2="282.50" stroke="#0000ff" stroke-width="1"/>
<text x="1455.1" y="289.6" font-size="21.77" fill="#0000ff" textLength="13.3" lengthAdjust="spacingAndGlyphs" text-anchor="end">0</text>
<line x1="1464.50" y1="342.50" x2="1469.00" y2="342.50" stroke="#0000ff" stroke-width="1"/>
<text x="1455.1" y="349.3" font-size="21.77" fill="#0000ff" textLength="34.0" lengthAdjust="spacingAndGlyphs" text-anchor="end">-20</text>
<line x1="1464.50" y1="401.50" x2="1469.00" y2="401.50" stroke="#0000ff" stroke-width="1"/>
<text x="1455.1" y="409.0" font-size="21.77" fill="#0000ff" textLength="34.0" lengthAdjust="spacingAndGlyphs" text-anchor="end">-40</text>
<line x1="1914.50" y1="163.50" x2="1910.00" y2="163.50" stroke="#000" stroke-width="1"/>
<text x="1922.9" y="170.2" font-size="21.77" fill="#000" textLength="13.3" lengthAdjust="spacingAndGlyphs">4</text>
<line x1="1914.50" y1="222.50" x2="1910.00" y2="222.50" stroke="#000" stroke-width="1"/>
<text x="1922.9" y="229.9" font-size="21.77" fill="#000" textLength="13.3" lengthAdjust="spacingAndGlyphs">2</text>
<line x1="1914.50" y1="282.50" x2="1910.00" y2="282.50" stroke="#000" stroke-width="1"/>
<text x="1922.9" y="289.6" font-size="21.77" fill="#000" textLength="13.3" lengthAdjust="spacingAndGlyphs">0</text>
<line x1="1914.50" y1="342.50" x2="1910.00" y2="342.50" stroke="#000" stroke-width="1"/>
<text x="1922.9" y="349.3" font-size="21.77" fill="#000" textLength="20.8" lengthAdjust="spacingAndGlyphs">-2</text>
<line x1="1914.50" y1="401.50" x2="1910.00" y2="401.50" stroke="#000" stroke-width="1"/>
<text x="1922.9" y="409.0" font-size="21.77" fill="#000" textLength="20.8" lengthAdjust="spacingAndGlyphs">-4</text>
<text x="1688.7" y="479.0" font-size="23.95" fill="#262626" textLength="125.6" lengthAdjust="spacingAndGlyphs" text-anchor="middle">UT Time /h</text>
<text x="1697.2" y="61.7" font-size="26.12" fill="#000" textLength="106.5" lengthAdjust="spacingAndGlyphs" text-anchor="middle">Dunedin</text>
<rect x="275.50" y="537.00" width="112.30" height="310.50" fill="#e6e6e6"/>
<rect x="633.33" y="537.00" width="94.17" height="310.50" fill="#e6e6e6"/>
<rect x="510.50" y="567.90" width="10.60" height="93.90" fill="#ff0000"/>
<rect x="510.50" y="583.30" width="10.60" height="63.10" fill="#ffff00"/>
<rect x="508.50" y="599.00" width="27.40" height="31.70" fill="#00ff00"/>
<rect x="511.10" y="723.10" width="13.70" height="93.60" fill="#ff0000"/>
<rect x="509.10" y="738.50" width="25.90" height="63.10" fill="#ffff00"/>
<rect x="506.80" y="754.20" width="34.20" height="31.70" fill="#00ff00"/>
<rect x="554.20" y="723.10" width="10.50" height="93.60" fill="#ff0000"/>
<rect x="553.00" y="738.50" width="14.00" height="63.10" fill="#ffff00"/>
<rect x="549.90" y="754.20" width="22.20" height="31.70" fill="#00ff00"/>
<line x1="275.50" y1="692.50" x2="727.50" y2="692.50" stroke="#000" stroke-width="1"/>
<line x1="705.50" y1="537.00" x2="705.50" y2="847.50" stroke="#00ffff" stroke-width="2.9"/>
<rect x="698.6" y="532.8" width="111.2" height="39.8" fill="#fff" stroke="#00ffff" stroke-width="1"/>
<text x="705.9" y="559.4" font-size="21.77" fill="#000" textLength="96.7" lengthAdjust="spacingAndGlyphs">time now</text>
<line x1="275.50" y1="536.50" x2="275.50" y2="848.00" stroke="#262626" stroke-width="1"/>
<line x1="275.00" y1="847.50" x2="728.00" y2="847.50" stroke="#262626" stroke-width="1"/>
<line x1="275.50" y1="536.50" x2="280.00" y2="536.50" stroke="#262626" stroke-width="1"/>
<line x1="275.50" y1="614.50" x2="280.00" y2="614.50" stroke="#262626" stroke-width="1"/>
<line x1="275.50" y1="770.50" x2="280.00" y2="770.50" stroke="#262626" stroke-width="1"/>
<line x1="275.50" y1="847.50" x2="275.50" y2="843.00" stroke="#262626" stroke-width="1"/>
<line x1="294.50" y1="847.50" x2="294.50" y2="843.00" stroke="#262626" stroke-width="1"/>
<line x1="313.50" y1="847.50" x2="313.50" y2="843.00" stroke="#262626" stroke-width="1"/>
<line x1="331.50" y1="847.50" x2="331.50" y2="843.00" stroke="#262626" stroke-width="1"/>
<line x1="350.50" y1="847.50" x2="350.50" y2="843.00" stroke="#262626" stroke-width="1"/>
<line x1="369.50" y1="847.50" x2="369.50" y2="843.00" stroke="#262626" stroke-width="1"/>
<line x1="388.50" y1="847.50" x2="388.50" y2="843.00" stroke="#262626" stroke-width="1"/>
<line x1="407.50" y1="847.50" x2="407.50" y2="843.00" stroke="#262626" stroke-width="1"/>
<line x1="426.50" y1="847.50" x2="426.50" y2="843.00" stroke="#262626" stroke-width="1"/>
<line x1="444.50" y1="847.50" x2="444.50" y2="843.00" stroke="#262626" stroke-width="1"/>
<line x1="463.50" y1="847.50" x2="463.50" y2="843.00" stroke="#262626" stroke-width="1"/>
<line x1="482.50" y1="847.50" x2="482.50" y2="843.00" stroke="#262626" stroke-width="1"/>
<line x1="501.50" y1="847.50" x2="501.50" y2="843.00" stroke="#262626" stroke-width="1"/>
<line x1="520.50" y1="847.50" x2="520.50" y2="843.00" stroke="#262626" stroke-width="1"/>
<line x1="539.50" y1="847.50" x2="539.50" y2="843.00" stroke="#262626" stroke-width="1"/>
<line x1="557.50" y1="847.50" x2="557.50" y2="843.00" stroke="#262626" stroke-width="1"/>
<line x1="576.50" y1="847.50" x2="576.50" y2="843.00" stroke="#262626" stroke-width="1"/>
<line x1="595.50" y1="847.50" x2="595.50" y2="843.00" stroke="#262626" stroke-width="1"/>
<line x1="614.50" y1="847.50" x2="614.50" y2="843.00" stroke="#262626" stroke-width="1"/>
<line x1="633.50" y1="847.50" x2="633.50" y2="843.00" stroke="#262626" stroke-width="1"/>
<line x1="652.50" y1="847.50" x2="652.50" y2="843.00" stroke="#262626" stroke-width="1"/>
<line x1="670.50" y1="847.50" x2="670.50" y2="843.00" stroke="#262626" stroke-width="1"/>
<line x1="689.50" y1="847.50" x2="689.50" y2="843.00" stroke="#262626" stroke-width="1"/>
<line x1="708.50" y1="847.50" x2="708.50" y2="843.00" stroke="#262626" stroke-width="1"/>
<line x1="727.50" y1="847.50" x2="727.50" y2="843.00" stroke="#262626" stroke-width="1"/>
<text x="274.5" y="876.6" font-size="21.77" fill="#262626" textLength="13.3" lengthAdjust="spacingAndGlyphs" text-anchor="middle">0</text>
<text x="331.0" y="876.6" font-size="21.77" fill="#262626" textLength="13.3" lengthAdjust="spacingAndGlyphs" text-anchor="middle">3</text>
<text x="387.5" y="876.6" font-size="21.77" fill="#262626" textLength="13.3" lengthAdjust="spacingAndGlyphs" text-anchor="middle">6</text>
<text x="444.0" y="876.6" font-size="21.77" fill="#262626" textLength="13.3" lengthAdjust="spacingAndGlyphs" text-anchor="middle">9</text>
<text x="500.5" y="876.6" font-size="21.77" fill="#262626" textLength="26.5" lengthAdjust="spacingAndGlyphs" text-anchor="middle">12</text>
<text x="557.0" y="876.6" font-size="21.77" fill="#262626" textLength="26.5" lengthAdjust="spacingAndGlyphs" text-anchor="middle">15</text>
<text x="613.5" y="876.6" font-size="21.77" fill="#262626" textLength="26.5" lengthAdjust="spacingAndGlyphs" text-anchor="middle">18</text>
<text x="670.0" y="876.6" font-size="21.77" fill="#262626" textLength="26.5" lengthAdjust="spacingAndGlyphs" text-anchor="middle">21</text>
<text x="726.5" y="876.6" font-size="21.77" fill="#262626" textLength="26.5" lengthAdjust="spacingAndGlyphs" text-anchor="middle">24</text>
<text x="735.7" y="605.6" font-size="17.42" fill="#262626" textLength="105.9" lengthAdjust="spacingAndGlyphs" font-weight="bold">dB/dT Alert</text>
<text x="734.9" y="761.0" font-size="17.42" fill="#0000ff" textLength="64.6" lengthAdjust="spacingAndGlyphs" font-weight="bold">B Alert</text>
<rect x="868.50" y="537.00" width="112.50" height="310.50" fill="#e6e6e6"/>
<rect x="1226.97" y="537.00" width="94.33" height="310.50" fill="#e6e6e6"/>
<rect x="872.80" y="599.00" width="6.30" height="31.70" fill="#00ff00"/>
<rect x="886.50" y="599.00" width="6.30" height="31.70" fill="#00ff00"/>
<rect x="897.10" y="754.20" width="8.80" height="31.70" fill="#00ff00"/>
<rect x="1121.90" y="723.10" width="8.60" height="93.60" fill="#ff0000"/>
<rect x="1116.80" y="738.50" width="17.40" height="63.10" fill="#ffff00"/>
<rect x="1113.60" y="754.20" width="22.30" height="31.70" fill="#00ff00"/>
<line x1="868.50" y1="692.50" x2="1321.30" y2="692.50" stroke="#000" stroke-width="1"/>
<line x1="1299.10" y1="537.00" x2="1299.10" y2="847.50" stroke="#00ffff" stroke-width="2.9"/>
<rect x="1292.2" y="532.8" width="111.2" height="39.8" fill="#fff" stroke="#00ffff" stroke-width="1"/>
<text x="1299.5" y="559.4" font-size="21.77" fill="#000" textLength="96.7" lengthAdjust="spacingAndGlyphs">time now</text>
<line x1="868.50" y1="536.50" x2="868.50" y2="848.00" stroke="#262626" stroke-width="1"/>
<line x1="868.00" y1="847.50" x2="1321.80" y2="847.50" stroke="#262626" stroke-width="1"/>
<line x1="868.50" y1="536.50" x2="873.00" y2="536.50" stroke="#262626" stroke-width="1"/>
<line x1="868.50" y1="614.50" x2="873.00" y2="614.50" stroke="#262626" stroke-width="1"/>
<line x1="868.50" y1="770.50" x2="873.00" y2="770.50" stroke="#262626" stroke-width="1"/>
<line x1="868.50" y1="847.50" x2="868.50" y2="843.00" stroke="#262626" stroke-width="1"/>
<line x1="887.50" y1="847.50" x2="887.50" y2="843.00" stroke="#262626" stroke-width="1"/>
<line x1="906.50" y1="847.50" x2="906.50" y2="843.00" stroke="#262626" stroke-width="1"/>
<line x1="925.50" y1="847.50" x2="925.50" y2="843.00" stroke="#262626" stroke-width="1"/>
<line x1="943.50" y1="847.50" x2="943.50" y2="843.00" stroke="#262626" stroke-width="1"/>
<line x1="962.50" y1="847.50" x2="962.50" y2="843.00" stroke="#262626" stroke-width="1"/>
<line x1="981.50" y1="847.50" x2="981.50" y2="843.00" stroke="#262626" stroke-width="1"/>
<line x1="1000.50" y1="847.50" x2="1000.50" y2="843.00" stroke="#262626" stroke-width="1"/>
<line x1="1019.50" y1="847.50" x2="1019.50" y2="843.00" stroke="#262626" stroke-width="1"/>
<line x1="1038.50" y1="847.50" x2="1038.50" y2="843.00" stroke="#262626" stroke-width="1"/>
<line x1="1057.50" y1="847.50" x2="1057.50" y2="843.00" stroke="#262626" stroke-width="1"/>
<line x1="1076.50" y1="847.50" x2="1076.50" y2="843.00" stroke="#262626" stroke-width="1"/>
<line x1="1094.50" y1="847.50" x2="1094.50" y2="843.00" stroke="#262626" stroke-width="1"/>
<line x1="1113.50" y1="847.50" x2="1113.50" y2="843.00" stroke="#262626" stroke-width="1"/>
<line x1="1132.50" y1="847.50" x2="1132.50" y2="843.00" stroke="#262626" stroke-width="1"/>
<line x1="1151.50" y1="847.50" x2="1151.50" y2="843.00" stroke="#262626" stroke-width="1"/>
<line x1="1170.50" y1="847.50" x2="1170.50" y2="843.00" stroke="#262626" stroke-width="1"/>
<line x1="1189.50" y1="847.50" x2="1189.50" y2="843.00" stroke="#262626" stroke-width="1"/>
<line x1="1208.50" y1="847.50" x2="1208.50" y2="843.00" stroke="#262626" stroke-width="1"/>
<line x1="1226.50" y1="847.50" x2="1226.50" y2="843.00" stroke="#262626" stroke-width="1"/>
<line x1="1245.50" y1="847.50" x2="1245.50" y2="843.00" stroke="#262626" stroke-width="1"/>
<line x1="1264.50" y1="847.50" x2="1264.50" y2="843.00" stroke="#262626" stroke-width="1"/>
<line x1="1283.50" y1="847.50" x2="1283.50" y2="843.00" stroke="#262626" stroke-width="1"/>
<line x1="1302.50" y1="847.50" x2="1302.50" y2="843.00" stroke="#262626" stroke-width="1"/>
<line x1="1321.50" y1="847.50" x2="1321.50" y2="843.00" stroke="#262626" stroke-width="1"/>
<text x="867.5" y="876.6" font-size="21.77" fill="#262626" textLength="13.3" lengthAdjust="spacingAndGlyphs" text-anchor="middle">0</text>
<text x="924.1" y="876.6" font-size="21.77" fill="#262626" textLength="13.3" lengthAdjust="spacingAndGlyphs" text-anchor="middle">3</text>
<text x="980.7" y="876.6" font-size="21.77" fill="#262626" textLength="13.3" lengthAdjust="spacingAndGlyphs" text-anchor="middle">6</text>
<text x="1037.3" y="876.6" font-size="21.77" fill="#262626" textLength="13.3" lengthAdjust="spacingAndGlyphs" text-anchor="middle">9</text>
<text x="1093.9" y="876.6" font-size="21.77" fill="#262626" textLength="26.5" lengthAdjust="spacingAndGlyphs" text-anchor="middle">12</text>
<text x="1150.5" y="876.6" font-size="21.77" fill="#262626" textLength="26.5" lengthAdjust="spacingAndGlyphs" text-anchor="middle">15</text>
<text x="1207.1" y="876.6" font-size="21.77" fill="#262626" textLength="26.5" lengthAdjust="spacingAndGlyphs" text-anchor="middle">18</text>
<text x="1263.7" y="876.6" font-size="21.77" fill="#262626" textLength="26.5" lengthAdjust="spacingAndGlyphs" text-anchor="middle">21</text>
<text x="1320.3" y="876.6" font-size="21.77" fill="#262626" textLength="26.5" lengthAdjust="spacingAndGlyphs" text-anchor="middle">24</text>
<text x="1329.5" y="605.6" font-size="17.42" fill="#262626" textLength="105.9" lengthAdjust="spacingAndGlyphs" font-weight="bold">dB/dT Alert</text>
<text x="1328.7" y="761.0" font-size="17.42" fill="#0000ff" textLength="64.6" lengthAdjust="spacingAndGlyphs" font-weight="bold">B Alert</text>
<rect x="1464.50" y="537.00" width="112.40" height="310.50" fill="#e6e6e6"/>
<rect x="1820.92" y="537.00" width="93.58" height="310.50" fill="#e6e6e6"/>
<rect x="1468.50" y="599.00" width="6.30" height="31.70" fill="#00ff00"/>
<rect x="1494.20" y="754.20" width="7.40" height="31.70" fill="#00ff00"/>
<rect x="1717.00" y="738.50" width="8.30" height="63.10" fill="#ffff00"/>
<rect x="1711.00" y="754.20" width="19.40" height="31.70" fill="#00ff00"/>
<line x1="1464.50" y1="692.50" x2="1914.50" y2="692.50" stroke="#000" stroke-width="1"/>
<line x1="1893.10" y1="537.00" x2="1893.10" y2="847.50" stroke="#00ffff" stroke-width="2.9"/>
<rect x="1886.2" y="532.8" width="111.2" height="39.8" fill="#fff" stroke="#00ffff" stroke-width="1"/>
<text x="1893.5" y="559.4" font-size="21.77" fill="#000" textLength="96.7" lengthAdjust="spacingAndGlyphs">time now</text>
<line x1="1464.50" y1="536.50" x2="1464.50" y2="848.00" stroke="#262626" stroke-width="1"/>
<line x1="1464.00" y1="847.50" x2="1915.00" y2="847.50" stroke="#262626" stroke-width="1"/>
<line x1="1464.50" y1="536.50" x2="1469.00" y2="536.50" stroke="#262626" stroke-width="1"/>
<line x1="1464.50" y1="614.50" x2="1469.00" y2="614.50" stroke="#262626" stroke-width="1"/>
<line x1="1464.50" y1="770.50" x2="1469.00" y2="770.50" stroke="#262626" stroke-width="1"/>
<line x1="1465.50" y1="847.50" x2="1465.50" y2="843.00" stroke="#262626" stroke-width="1"/>
<line x1="1484.50" y1="847.50" x2="1484.50" y2="843.00" stroke="#262626" stroke-width="1"/>
<line x1="1502.50" y1="847.50" x2="1502.50" y2="843.00" stroke="#262626" stroke-width="1"/>
<line x1="1521.50" y1="847.50" x2="1521.50" y2="843.00" stroke="#262626" stroke-width="1"/>
<line x1="1540.50" y1="847.50" x2="1540.50" y2="843.00" stroke="#262626" stroke-width="1"/>
<line x1="1558.50" y1="847.50" x2="1558.50" y2="843.00" stroke="#262626" stroke-width="1"/>
<line x1="1577.50" y1="847.50" x2="1577.50" y2="843.00" stroke="#262626" stroke-width="1"/>
<line x1="1596.50" y1="847.50" x2="1596.50" y2="843.00" stroke="#262626" stroke-width="1"/>
<line x1="1615.50" y1="847.50" x2="1615.50" y2="843.00" stroke="#262626" stroke-width="1"/>
<line x1="1633.50" y1="847.50" x2="1633.50" y2="843.00" stroke="#262626" stroke-width="1"/>
<line x1="1652.50" y1="847.50" x2="1652.50" y2="843.00" stroke="#262626" stroke-width="1"/>
<line x1="1671.50" y1="847.50" x2="1671.50" y2="843.00" stroke="#262626" stroke-width="1"/>
<line x1="1689.50" y1="847.50" x2="1689.50" y2="843.00" stroke="#262626" stroke-width="1"/>
<line x1="1708.50" y1="847.50" x2="1708.50" y2="843.00" stroke="#262626" stroke-width="1"/>
<line x1="1727.50" y1="847.50" x2="1727.50" y2="843.00" stroke="#262626" stroke-width="1"/>
<line x1="1746.50" y1="847.50" x2="1746.50" y2="843.00" stroke="#262626" stroke-width="1"/>
<line x1="1764.50" y1="847.50" x2="1764.50" y2="843.00" stroke="#262626" stroke-width="1"/>
<line x1="1783.50" y1="847.50" x2="1783.50" y2="843.00" stroke="#262626" stroke-width="1"/>
<line x1="1802.50" y1="847.50" x2="1802.50" y2="843.00" stroke="#262626" stroke-width="1"/>
<line x1="1820.50" y1="847.50" x2="1820.50" y2="843.00" stroke="#262626" stroke-width="1"/>
<line x1="1839.50" y1="847.50" x2="1839.50" y2="843.00" stroke="#262626" stroke-width="1"/>
<line x1="1858.50" y1="847.50" x2="1858.50" y2="843.00" stroke="#262626" stroke-width="1"/>
<line x1="1877.50" y1="847.50" x2="1877.50" y2="843.00" stroke="#262626" stroke-width="1"/>
<line x1="1895.50" y1="847.50" x2="1895.50" y2="843.00" stroke="#262626" stroke-width="1"/>
<line x1="1914.50" y1="847.50" x2="1914.50" y2="843.00" stroke="#262626" stroke-width="1"/>
<text x="1464.3" y="876.6" font-size="21.77" fill="#262626" textLength="13.3" lengthAdjust="spacingAndGlyphs" text-anchor="middle">0</text>
<text x="1520.5" y="876.6" font-size="21.77" fill="#262626" textLength="13.3" lengthAdjust="spacingAndGlyphs" text-anchor="middle">3</text>
<text x="1576.6" y="876.6" font-size="21.77" fill="#262626" textLength="13.3" lengthAdjust="spacingAndGlyphs" text-anchor="middle">6</text>
<text x="1632.8" y="876.6" font-size="21.77" fill="#262626" textLength="13.3" lengthAdjust="spacingAndGlyphs" text-anchor="middle">9</text>
<text x="1688.9" y="876.6" font-size="21.77" fill="#262626" textLength="26.5" lengthAdjust="spacingAndGlyphs" text-anchor="middle">12</text>
<text x="1745.0" y="876.6" font-size="21.77" fill="#262626" textLength="26.5" lengthAdjust="spacingAndGlyphs" text-anchor="middle">15</text>
<text x="1801.2" y="876.6" font-size="21.77" fill="#262626" textLength="26.5" lengthAdjust="spacingAndGlyphs" text-anchor="middle">18</text>
<text x="1857.3" y="876.6" font-size="21.77" fill="#262626" textLength="26.5" lengthAdjust="spacingAndGlyphs" text-anchor="middle">21</text>
<text x="1913.5" y="876.6" font-size="21.77" fill="#262626" textLength="26.5" lengthAdjust="spacingAndGlyphs" text-anchor="middle">24</text>
<rect x="268.00" y="881.60" width="159.80" height="40.50" fill="#00ff00"/>
<rect x="432.00" y="881.60" width="197.00" height="40.50" fill="#ffff00"/>
<rect x="629.00" y="881.60" width="165.80" height="40.50" fill="#ff0000"/>
<text x="274.2" y="909.0" font-size="21.77" fill="#000" textLength="144.0" lengthAdjust="spacingAndGlyphs">minor activity</text>
<text x="438.2" y="909.0" font-size="21.77" fill="#000" textLength="184.8" lengthAdjust="spacingAndGlyphs">moderate activity</text>
<text x="635.5" y="909.0" font-size="21.77" fill="#000" textLength="149.7" lengthAdjust="spacingAndGlyphs">strong activity</text>
<text x="1258.4" y="909.0" font-size="22.32" fill="#000" textLength="182.0" lengthAdjust="spacingAndGlyphs">Current Warning:</text>
<text x="1455.2" y="911.9" font-size="32.66" fill="#000" textLength="80.1" lengthAdjust="spacingAndGlyphs">0.0/9</text>
<rect x="275.50" y="934.70" width="409.05" height="331.70" fill="#e6e6e6"/>
<rect x="1573.74" y="934.70" width="340.76" height="331.70" fill="#e6e6e6"/>
<rect x="286.50" y="1241.50" width="11.00" height="24.00" fill="#00ff00" stroke="#000" stroke-width="1"/>
<rect x="343.50" y="1253.50" width="11.00" height="12.00" fill="#00ff00" stroke="#000" stroke-width="1"/>
<rect x="377.50" y="1241.50" width="11.00" height="24.00" fill="#00ff00" stroke="#000" stroke-width="1"/>
<rect x="388.50" y="1216.50" width="12.00" height="49.00" fill="#00ff00" stroke="#000" stroke-width="1"/>
<rect x="1117.50" y="1241.50" width="11.00" height="24.00" fill="#00ff00" stroke="#000" stroke-width="1"/>
<rect x="1128.50" y="1155.50" width="12.00" height="110.00" fill="#00ff00" stroke="#000" stroke-width="1"/>
<rect x="1140.50" y="1155.50" width="11.00" height="110.00" fill="#00ff00" stroke="#000" stroke-width="1"/>
<rect x="1151.50" y="1155.50" width="11.00" height="110.00" fill="#00ff00" stroke="#000" stroke-width="1"/>
<rect x="1162.50" y="1155.50" width="12.00" height="110.00" fill="#00ff00" stroke="#000" stroke-width="1"/>
<rect x="1174.50" y="1142.50" width="11.00" height="123.00" fill="#ffff00" stroke="#000" stroke-width="1"/>
<rect x="1185.50" y="1130.50" width="11.00" height="135.00" fill="#ffff00" stroke="#000" stroke-width="1"/>
<rect x="1196.50" y="1081.50" width="12.00" height="184.00" fill="#ffff00" stroke="#000" stroke-width="1"/>
<rect x="1208.50" y="1142.50" width="11.00" height="123.00" fill="#ffff00" stroke="#000" stroke-width="1"/>
<rect x="1219.50" y="1167.50" width="12.00" height="98.00" fill="#00ff00" stroke="#000" stroke-width="1"/>
<rect x="1276.50" y="1241.50" width="11.00" height="24.00" fill="#00ff00" stroke="#000" stroke-width="1"/>
<rect x="1287.50" y="1192.50" width="12.00" height="73.00" fill="#00ff00" stroke="#000" stroke-width="1"/>
<rect x="1299.50" y="1192.50" width="11.00" height="73.00" fill="#00ff00" stroke="#000" stroke-width="1"/>
<rect x="1310.50" y="1216.50" width="12.00" height="49.00" fill="#00ff00" stroke="#000" stroke-width="1"/>
<rect x="1322.50" y="1241.50" width="11.00" height="24.00" fill="#00ff00" stroke="#000" stroke-width="1"/>
<rect x="1333.50" y="1241.50" width="11.00" height="24.00" fill="#00ff00" stroke="#000" stroke-width="1"/>
<line x1="1835.10" y1="934.70" x2="1835.10" y2="1266.40" stroke="#00ffff" stroke-width="2.9"/>
<rect x="1828.4" y="933.4" width="111.4" height="40.1" fill="#fff" stroke="#00ffff" stroke-width="1"/>
<text x="1835.7" y="961.0" font-size="21.77" fill="#000" textLength="96.7" lengthAdjust="spacingAndGlyphs">time now</text>
<line x1="275.50" y1="934.70" x2="275.50" y2="1266.90" stroke="#262626" stroke-width="1"/>
<line x1="275.00" y1="1266.50" x2="1915.00" y2="1266.50" stroke="#262626" stroke-width="1"/>
<line x1="275.50" y1="1266.40" x2="275.50" y2="1250.00" stroke="#262626" stroke-width="1"/>
<text x="275.0" y="1294.6" font-size="21.77" fill="#262626" textLength="13.3" lengthAdjust="spacingAndGlyphs" text-anchor="middle">0</text>
<line x1="343.50" y1="1266.40" x2="343.50" y2="1250.00" stroke="#262626" stroke-width="1"/>
<text x="343.3" y="1294.6" font-size="21.77" fill="#262626" textLength="13.3" lengthAdjust="spacingAndGlyphs" text-anchor="middle">1</text>
<line x1="412.50" y1="1266.40" x2="412.50" y2="1250.00" stroke="#262626" stroke-width="1"/>
<text x="411.6" y="1294.6" font-size="21.77" fill="#262626" textLength="13.3" lengthAdjust="spacingAndGlyphs" text-anchor="middle">2</text>
<line x1="480.50" y1="1266.40" x2="480.50" y2="1250.00" stroke="#262626" stroke-width="1"/>
<text x="479.9" y="1294.6" font-size="21.77" fill="#262626" textLength="13.3" lengthAdjust="spacingAndGlyphs" text-anchor="middle">3</text>
<line x1="548.50" y1="1266.40" x2="548.50" y2="1250.00" stroke="#262626" stroke-width="1"/>
<text x="548.2" y="1294.6" font-size="21.77" fill="#262626" textLength="13.3" lengthAdjust="spacingAndGlyphs" text-anchor="middle">4</text>
<line x1="616.50" y1="1266.40" x2="616.50" y2="1250.00" stroke="#262626" stroke-width="1"/>
<text x="616.5" y="1294.6" font-size="21.77" fill="#262626" textLength="13.3" lengthAdjust="spacingAndGlyphs" text-anchor="middle">5</text>
<line x1="685.50" y1="1266.40" x2="685.50" y2="1250.00" stroke="#262626" stroke-width="1"/>
<text x="684.8" y="1294.6" font-size="21.77" fill="#262626" textLength="13.3" lengthAdjust="spacingAndGlyphs" text-anchor="middle">6</text>
<line x1="753.50" y1="1266.40" x2="753.50" y2="1250.00" stroke="#262626" stroke-width="1"/>
<text x="753.0" y="1294.6" font-size="21.77" fill="#262626" textLength="13.3" lengthAdjust="spacingAndGlyphs" text-anchor="middle">7</text>
<line x1="821.50" y1="1266.40" x2="821.50" y2="1250.00" stroke="#262626" stroke-width="1"/>
<text x="821.3" y="1294.6" font-size="21.77" fill="#262626" textLength="13.3" lengthAdjust="spacingAndGlyphs" text-anchor="middle">8</text>
<line x1="890.50" y1="1266.40" x2="890.50" y2="1250.00" stroke="#262626" stroke-width="1"/>
<text x="889.6" y="1294.6" font-size="21.77" fill="#262626" textLength="13.3" lengthAdjust="spacingAndGlyphs" text-anchor="middle">9</text>
<line x1="958.50" y1="1266.40" x2="958.50" y2="1250.00" stroke="#262626" stroke-width="1"/>
<text x="957.9" y="1294.6" font-size="21.77" fill="#262626" textLength="26.5" lengthAdjust="spacingAndGlyphs" text-anchor="middle">10</text>
<line x1="1026.50" y1="1266.40" x2="1026.50" y2="1250.00" stroke="#262626" stroke-width="1"/>
<text x="1026.2" y="1294.6" font-size="21.77" fill="#262626" textLength="26.5" lengthAdjust="spacingAndGlyphs" text-anchor="middle">11</text>
<line x1="1094.50" y1="1266.40" x2="1094.50" y2="1250.00" stroke="#262626" stroke-width="1"/>
<text x="1094.5" y="1294.6" font-size="21.77" fill="#262626" textLength="26.5" lengthAdjust="spacingAndGlyphs" text-anchor="middle">12</text>
<line x1="1163.50" y1="1266.40" x2="1163.50" y2="1250.00" stroke="#262626" stroke-width="1"/>
<text x="1162.8" y="1294.6" font-size="21.77" fill="#262626" textLength="26.5" lengthAdjust="spacingAndGlyphs" text-anchor="middle">13</text>
<line x1="1231.50" y1="1266.40" x2="1231.50" y2="1250.00" stroke="#262626" stroke-width="1"/>
<text x="1231.1" y="1294.6" font-size="21.77" fill="#262626" textLength="26.5" lengthAdjust="spacingAndGlyphs" text-anchor="middle">14</text>
<line x1="1299.50" y1="1266.40" x2="1299.50" y2="1250.00" stroke="#262626" stroke-width="1"/>
<text x="1299.4" y="1294.6" font-size="21.77" fill="#262626" textLength="26.5" lengthAdjust="spacingAndGlyphs" text-anchor="middle">15</text>
<line x1="1368.50" y1="1266.40" x2="1368.50" y2="1250.00" stroke="#262626" stroke-width="1"/>
<text x="1367.7" y="1294.6" font-size="21.77" fill="#262626" textLength="26.5" lengthAdjust="spacingAndGlyphs" text-anchor="middle">16</text>
<line x1="1436.50" y1="1266.40" x2="1436.50" y2="1250.00" stroke="#262626" stroke-width="1"/>
<text x="1436.0" y="1294.6" font-size="21.77" fill="#262626" textLength="26.5" lengthAdjust="spacingAndGlyphs" text-anchor="middle">17</text>
<line x1="1504.50" y1="1266.40" x2="1504.50" y2="1250.00" stroke="#262626" stroke-width="1"/>
<text x="1504.2" y="1294.6" font-size="21.77" fill="#262626" textLength="26.5" lengthAdjust="spacingAndGlyphs" text-anchor="middle">18</text>
<line x1="1573.50" y1="1266.40" x2="1573.50" y2="1250.00" stroke="#262626" stroke-width="1"/>
<text x="1572.5" y="1294.6" font-size="21.77" fill="#262626" textLength="26.5" lengthAdjust="spacingAndGlyphs" text-anchor="middle">19</text>
<line x1="1641.50" y1="1266.40" x2="1641.50" y2="1250.00" stroke="#262626" stroke-width="1"/>
<text x="1640.8" y="1294.6" font-size="21.77" fill="#262626" textLength="26.5" lengthAdjust="spacingAndGlyphs" text-anchor="middle">20</text>
<line x1="1709.50" y1="1266.40" x2="1709.50" y2="1250.00" stroke="#262626" stroke-width="1"/>
<text x="1709.1" y="1294.6" font-size="21.77" fill="#262626" textLength="26.5" lengthAdjust="spacingAndGlyphs" text-anchor="middle">21</text>
<line x1="1777.50" y1="1266.40" x2="1777.50" y2="1250.00" stroke="#262626" stroke-width="1"/>
<text x="1777.4" y="1294.6" font-size="21.77" fill="#262626" textLength="26.5" lengthAdjust="spacingAndGlyphs" text-anchor="middle">22</text>
<line x1="1846.50" y1="1266.40" x2="1846.50" y2="1250.00" stroke="#262626" stroke-width="1"/>
<text x="1845.7" y="1294.6" font-size="21.77" fill="#262626" textLength="26.5" lengthAdjust="spacingAndGlyphs" text-anchor="middle">23</text>
<line x1="1914.50" y1="1266.40" x2="1914.50" y2="1250.00" stroke="#262626" stroke-width="1"/>
<text x="264.2" y="1273.9" font-size="21.77" fill="#262626" textLength="13.3" lengthAdjust="spacingAndGlyphs" text-anchor="end">0</text>
<line x1="275.50" y1="1192.50" x2="291.90" y2="1192.50" stroke="#262626" stroke-width="1"/>
<text x="264.2" y="1200.1" font-size="21.77" fill="#262626" textLength="13.3" lengthAdjust="spacingAndGlyphs" text-anchor="end">2</text>
<line x1="275.50" y1="1118.50" x2="291.90" y2="1118.50" stroke="#262626" stroke-width="1"/>
<text x="264.2" y="1126.3" font-size="21.77" fill="#262626" textLength="13.3" lengthAdjust="spacingAndGlyphs" text-anchor="end">4</text>
<line x1="275.50" y1="1044.50" x2="291.90" y2="1044.50" stroke="#262626" stroke-width="1"/>
<text x="264.2" y="1052.5" font-size="21.77" fill="#262626" textLength="13.3" lengthAdjust="spacingAndGlyphs" text-anchor="end">6</text>
<line x1="275.50" y1="971.50" x2="291.90" y2="971.50" stroke="#262626" stroke-width="1"/>
<text x="264.2" y="978.7" font-size="21.77" fill="#262626" textLength="13.3" lengthAdjust="spacingAndGlyphs" text-anchor="end">8</text>
<text x="240.6" y="1101.0" font-size="23.95" fill="#262626" textLength="179.0" lengthAdjust="spacingAndGlyphs" text-anchor="middle" transform="rotate(-90 240.6 1101.0)">Warning Values</text>
<text x="1095.0" y="1327.3" font-size="23.95" fill="#262626" textLength="147.9" lengthAdjust="spacingAndGlyphs" text-anchor="middle">Time UTC / h</text>
<text x="849.5" y="1359.3" font-size="21.77" fill="#000" textLength="497.0" lengthAdjust="spacingAndGlyphs">Last updated: Wed 24 Sep 2025 10:50:38 NZST</text>
</svg>
</body></html>
